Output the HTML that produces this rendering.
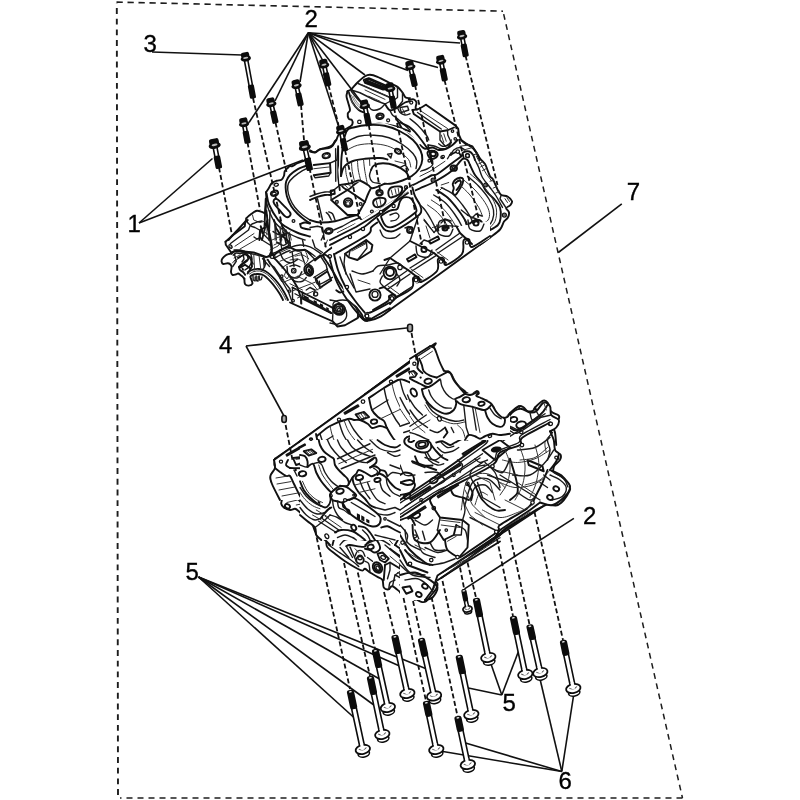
<!DOCTYPE html>
<html><head><meta charset="utf-8"><title>Crankcase</title>
<style>
html,body{margin:0;padding:0;background:#fff;}
body{width:800px;height:800px;overflow:hidden;}
svg{display:block;font-family:"Liberation Sans",sans-serif;filter:grayscale(1);}
.o{fill:#fff;stroke:#111;stroke-width:1.5;stroke-linejoin:round;stroke-linecap:round}
.k{fill:none;stroke:#111;stroke-width:1.9;vector-effect:non-scaling-stroke;stroke-linejoin:round;stroke-linecap:round}
.m{fill:none;stroke:#1a1a1a;stroke-width:1.4;vector-effect:non-scaling-stroke;stroke-linejoin:round;stroke-linecap:round}
.t{fill:none;stroke:#333;stroke-width:1.0;vector-effect:non-scaling-stroke;stroke-linejoin:round;stroke-linecap:round}
.g{fill:none;stroke:#666;stroke-width:0.8;vector-effect:non-scaling-stroke;stroke-linejoin:round;stroke-linecap:round}
.w{fill:#fff;stroke:#111;stroke-width:1.1;vector-effect:non-scaling-stroke}
.b{fill:#111;stroke:none}
.f{fill:#fff;stroke:none}
.h{fill:#fff;stroke:#111;stroke-width:1.25;vector-effect:non-scaling-stroke}
</style></head><body>
<svg width="800" height="800" viewBox="0 0 800 800">
<rect width="800" height="800" fill="#fff"/>
<path d="M116.5 2.1 L503 11.2" fill="none" stroke="#221c1c" stroke-width="1.6" stroke-dasharray="6.3 4.7"/>
<path d="M503 11.2 L682.5 798" fill="none" stroke="#221c1c" stroke-width="1.5" stroke-dasharray="5.8 4.6" stroke-dashoffset="-3"/>
<path d="M682.5 798 L120 798" fill="none" stroke="#221c1c" stroke-width="1.6" stroke-dasharray="6 5"/>
<path d="M118 795 L116.8 3" fill="none" stroke="#221c1c" stroke-width="1.9" stroke-dasharray="5.9 4.8"/>
<!-- l_A.svg -->
<g transform="translate(265,345) scale(0.12500)">
<path class="k" d="M240,800 L800,395"/>
<path class="k" d="M630,551 L735,488"/>
<path class="k" d="M633,556 L738,493"/>
<circle class="h" cx="588.0" cy="600.0" r="13.0"/>
<circle class="h" cx="370.0" cy="760.0" r="14.0"/>
<circle class="h" cx="785.0" cy="455.0" r="14.0"/>
<circle class="h" cx="305.0" cy="795.0" r="10.0"/>
<path class="k" d="M400.0,745.0 C421.7,727.5 486.7,665.8 530.0,640.0 C573.3,614.2 631.7,599.2 660.0,590.0 C688.3,580.8 688.3,583.3 700.0,585.0 C711.7,586.7 713.3,593.8 730.0,600.0 C746.7,606.2 788.3,618.3 800.0,622.0"/>
<path class="k" d="M415,720 L432,800"/>
<path class="m" d="M420,762 L560,682"/>
<path class="m" d="M440,800 L570,720"/>
<path class="m" d="M560.0,640.0 C563.3,653.3 571.7,693.3 580.0,720.0 C588.3,746.7 605.0,786.7 610.0,800.0"/>
<path class="m" d="M600.0,620.0 C605.0,635.0 620.0,680.0 630.0,710.0 C640.0,740.0 655.0,785.0 660.0,800.0"/>
<path class="m" d="M640.0,605.0 C646.7,620.8 666.7,667.5 680.0,700.0 C693.3,732.5 713.3,783.3 720.0,800.0"/>
<path class="m" d="M690.0,590.0 C698.3,608.3 726.7,665.0 740.0,700.0 C753.3,735.0 765.0,783.3 770.0,800.0"/>
<path class="t" d="M540,650 L560,740 L575,800"/>
<path class="k" d="M715.0,560.0 C719.2,565.0 730.8,583.0 740.0,590.0 C749.2,597.0 760.0,600.3 770.0,602.0 C780.0,603.7 795.0,600.3 800.0,600.0"/>
<path class="t" d="M750,545 L770,590"/>
<path class="t" d="M770,535 L790,585"/>
<path class="t" d="M790,530 L800,560"/>
</g>
<!-- l_B.svg -->
<g transform="translate(365,345) scale(0.12500)">
<path class="k" d="M0.0,395.0 C86.7,331.7 428.7,77.2 520.0,15.0 C611.3,-47.2 539.7,9.5 548.0,22.0 C556.3,34.5 561.3,67.0 570.0,90.0 C578.7,113.0 588.3,138.3 600.0,160.0 C611.7,181.7 633.3,210.0 640.0,220.0"/>
<path class="k" d="M0,395 L520,15"/>
<path class="k" d="M640.0,220.0 C644.2,218.3 656.7,208.0 665.0,210.0 C673.3,212.0 680.8,218.7 690.0,232.0 C699.2,245.3 708.3,272.0 720.0,290.0 C731.7,308.0 746.7,326.7 760.0,340.0 C773.3,353.3 793.3,365.0 800.0,370.0"/>
<path class="k" d="M440.0,110.0 C444.2,116.7 458.3,133.3 465.0,150.0 C471.7,166.7 464.2,192.5 480.0,210.0 C495.8,227.5 533.3,253.3 560.0,255.0 C586.7,256.7 626.7,225.8 640.0,220.0"/>
<path class="m" d="M430,100 L530,30"/>
<path class="m" d="M450,130 L480,110 L540,60"/>
<path class="k" d="M245,250 L350,186"/>
<path class="k" d="M248,256 L353,192"/>
<circle class="h" cx="210.0" cy="290.0" r="13.0"/>
<circle class="h" cx="398.0" cy="150.0" r="14.0"/>
<path class="k" d="M335,225 L375,205 L420,235 L385,260 Z"/>
<path class="t" d="M350,225 L395,250"/>
<path class="t" d="M360,215 L405,243"/>
<circle class="b" cx="445.0" cy="265.0" r="10.0"/>
<ellipse class="k" cx="505.0" cy="295.0" rx="30.0" ry="20.0" transform="rotate(-10.0 505.0 295.0)"/>
<path class="k" d="M20.0,410.0 C41.7,395.0 120.0,333.3 150.0,320.0 C180.0,306.7 175.0,339.2 200.0,330.0 C225.0,320.8 276.7,273.3 300.0,265.0 C323.3,256.7 320.0,274.2 340.0,280.0 C360.0,285.8 398.3,291.3 420.0,300.0 C441.7,308.7 455.0,327.0 470.0,332.0 C485.0,337.0 495.0,335.3 510.0,330.0 C525.0,324.7 538.3,318.3 560.0,300.0 C581.7,281.7 626.7,233.3 640.0,220.0"/>
<path class="k" d="M22.0,412.0 C26.7,426.7 37.0,474.5 50.0,500.0 C63.0,525.5 84.2,550.0 100.0,565.0 C115.8,580.0 134.2,577.5 145.0,590.0 C155.8,602.5 155.8,621.7 165.0,640.0 C174.2,658.3 184.2,680.0 200.0,700.0 C215.8,720.0 243.3,743.3 260.0,760.0 C276.7,776.7 293.3,793.3 300.0,800.0"/>
<path class="m" d="M150.0,320.0 C155.0,336.7 165.0,386.7 180.0,420.0 C195.0,453.3 215.0,490.0 240.0,520.0 C265.0,550.0 303.3,580.0 330.0,600.0 C356.7,620.0 388.3,633.3 400.0,640.0"/>
<path class="m" d="M200.0,330.0 C206.7,346.7 223.3,398.3 240.0,430.0 C256.7,461.7 276.7,493.3 300.0,520.0 C323.3,546.7 355.0,571.7 380.0,590.0 C405.0,608.3 438.3,623.3 450.0,630.0"/>
<path class="m" d="M250.0,300.0 C256.7,316.7 273.3,370.0 290.0,400.0 C306.7,430.0 326.7,455.0 350.0,480.0 C373.3,505.0 405.0,530.0 430.0,550.0 C455.0,570.0 488.3,591.7 500.0,600.0"/>
<path class="m" d="M300.0,268.0 C306.7,285.0 323.3,339.7 340.0,370.0 C356.7,400.3 376.7,425.0 400.0,450.0 C423.3,475.0 453.3,498.3 480.0,520.0 C506.7,541.7 540.0,563.3 560.0,580.0 C580.0,596.7 593.3,613.3 600.0,620.0"/>
<path class="t" d="M100.0,355.0 C105.0,370.8 115.8,418.3 130.0,450.0 C144.2,481.7 163.3,516.7 185.0,545.0 C206.7,573.3 235.8,599.2 260.0,620.0 C284.2,640.8 318.3,661.7 330.0,670.0"/>
<path class="t" d="M60.0,385.0 C65.0,399.2 76.7,440.8 90.0,470.0 C103.3,499.2 131.7,545.0 140.0,560.0"/>
<path class="m" d="M180,640 L480,560"/>
<path class="m" d="M200,700 L520,600"/>
<path class="t" d="M230,740 L540,640"/>
<path class="k" d="M455.0,345.0 C457.5,354.2 460.8,380.8 470.0,400.0 C479.2,419.2 493.3,443.3 510.0,460.0 C526.7,476.7 546.7,490.0 570.0,500.0 C593.3,510.0 626.7,519.2 650.0,520.0 C673.3,520.8 697.5,516.7 710.0,505.0 C722.5,493.3 716.7,464.2 725.0,450.0 C733.3,435.8 747.5,427.5 760.0,420.0 C772.5,412.5 793.3,407.5 800.0,405.0"/>
<path class="m" d="M510.0,330.0 C515.8,341.7 530.0,380.0 545.0,400.0 C560.0,420.0 577.5,436.7 600.0,450.0 C622.5,463.3 660.0,476.7 680.0,480.0 C700.0,483.3 713.3,471.7 720.0,470.0"/>
<path class="k" d="M560.0,255.0 C565.0,267.5 576.7,307.5 590.0,330.0 C603.3,352.5 621.7,375.0 640.0,390.0 C658.3,405.0 680.0,416.7 700.0,420.0 C720.0,423.3 750.0,411.7 760.0,410.0"/>
<path class="m" d="M470.0,420.0 C478.3,433.3 498.3,475.0 520.0,500.0 C541.7,525.0 570.0,551.7 600.0,570.0 C630.0,588.3 666.7,601.7 700.0,610.0 C733.3,618.3 783.3,618.3 800.0,620.0"/>
<path class="t" d="M480.0,470.0 C490.0,483.3 516.7,526.7 540.0,550.0 C563.3,573.3 590.0,593.3 620.0,610.0 C650.0,626.7 690.0,641.7 720.0,650.0 C750.0,658.3 786.7,658.3 800.0,660.0"/>
<ellipse class="k" cx="390.0" cy="385.0" rx="22.0" ry="34.0" transform="rotate(-30.0 390.0 385.0)"/>
<ellipse class="m" cx="598.0" cy="590.0" rx="14.0" ry="20.0" transform="rotate(-30.0 598.0 590.0)"/>
<ellipse class="k" cx="70.0" cy="610.0" rx="34.0" ry="24.0" transform="rotate(-15.0 70.0 610.0)"/>
<path class="k" d="M0.0,600.0 C6.7,595.0 23.3,575.0 40.0,570.0 C56.7,565.0 83.3,565.0 100.0,570.0 C116.7,575.0 130.0,588.3 140.0,600.0 C150.0,611.7 156.7,633.3 160.0,640.0"/>
<path class="m" d="M0.0,660.0 C6.7,665.0 23.3,686.7 40.0,690.0 C56.7,693.3 81.7,686.7 100.0,680.0 C118.3,673.3 141.7,655.0 150.0,650.0"/>
<path class="m" d="M0.0,540.0 L30.0,520.0"/>
<ellipse class="k" cx="350.0" cy="760.0" rx="34.0" ry="24.0" transform="rotate(-10.0 350.0 760.0)"/>
<path class="k" d="M290.0,770.0 C298.3,762.0 318.3,727.0 340.0,722.0 C361.7,717.0 398.3,730.3 420.0,740.0 C441.7,749.7 460.0,770.0 470.0,780.0 C480.0,790.0 478.3,796.7 480.0,800.0"/>
<path class="m" d="M420.0,740.0 C436.7,733.3 490.0,708.3 520.0,700.0 C550.0,691.7 586.7,691.7 600.0,690.0"/>
<path class="k" d="M600.0,800.0 C606.7,793.3 623.3,770.0 640.0,760.0 C656.7,750.0 680.0,741.7 700.0,740.0 C720.0,738.3 743.3,750.0 760.0,750.0 C776.7,750.0 793.3,741.7 800.0,740.0"/>
<path class="m" d="M640.0,700.0 C646.7,693.3 663.3,668.3 680.0,660.0 C696.7,651.7 720.0,646.7 740.0,650.0 C760.0,653.3 790.0,675.0 800.0,680.0"/>
<path class="t" d="M660,720 L720,700 L780,720"/>
<path class="t" d="M560,640 L620,700 L640,760"/>
</g>
<!-- l_C.svg -->
<g transform="translate(465,345) scale(0.12500)">
<path class="k" d="M0.0,375.0 C8.3,379.2 38.3,398.3 50.0,400.0 C61.7,401.7 62.5,389.7 70.0,385.0 C77.5,380.3 88.3,371.2 95.0,372.0 C101.7,372.8 112.5,383.7 110.0,390.0 C107.5,396.3 76.7,402.5 80.0,410.0 C83.3,417.5 111.7,428.3 130.0,435.0 C148.3,441.7 175.0,442.5 190.0,450.0 C205.0,457.5 210.0,465.0 220.0,480.0 C230.0,495.0 236.7,521.7 250.0,540.0 C263.3,558.3 286.7,583.3 300.0,590.0 C313.3,596.7 320.0,587.5 330.0,580.0 C340.0,572.5 343.3,560.0 360.0,545.0 C376.7,530.0 411.7,497.5 430.0,490.0 C448.3,482.5 458.3,493.3 470.0,500.0 C481.7,506.7 487.5,525.8 500.0,530.0 C512.5,534.2 535.0,530.0 545.0,525.0 C555.0,520.0 546.7,513.3 560.0,500.0 C573.3,486.7 608.3,451.7 625.0,445.0 C641.7,438.3 652.5,449.2 660.0,460.0 C667.5,470.8 663.3,496.7 670.0,510.0 C676.7,523.3 686.7,530.8 700.0,540.0 C713.3,549.2 742.5,555.0 750.0,565.0 C757.5,575.0 753.3,587.5 745.0,600.0 C736.7,612.5 704.2,623.3 700.0,640.0 C695.8,656.7 715.0,673.3 720.0,700.0 C725.0,726.7 728.3,783.3 730.0,800.0"/>
<ellipse class="k" cx="10.0" cy="440.0" rx="30.0" ry="20.0" transform="rotate(-10.0 10.0 440.0)"/>
<ellipse class="k" cx="130.0" cy="470.0" rx="25.0" ry="18.0" transform="rotate(-10.0 130.0 470.0)"/>
<ellipse class="k" cx="400.0" cy="600.0" rx="25.0" ry="18.0" transform="rotate(-10.0 400.0 600.0)"/>
<ellipse class="k" cx="460.0" cy="640.0" rx="35.0" ry="25.0" transform="rotate(-10.0 460.0 640.0)"/>
<circle class="h" cx="620.0" cy="495.0" r="12.0"/>
<circle class="h" cx="685.0" cy="630.0" r="14.0"/>
<circle class="b" cx="455.0" cy="690.0" r="10.0"/>
<circle class="h" cx="205.0" cy="735.0" r="12.0"/>
<circle class="b" cx="455.0" cy="745.0" r="9.0"/>
<path class="k" d="M190.0,450.0 C188.3,458.3 186.7,488.3 180.0,500.0 C173.3,511.7 151.7,508.3 150.0,520.0 C148.3,531.7 158.3,551.7 170.0,570.0 C181.7,588.3 200.0,616.7 220.0,630.0 C240.0,643.3 273.3,651.7 290.0,650.0 C306.7,648.3 316.7,630.0 320.0,620.0 C323.3,610.0 311.7,595.0 310.0,590.0"/>
<path class="m" d="M0,500 L60,490 L150,520"/>
<path class="m" d="M60,500 L100,720"/>
<path class="m" d="M80,492 L125,715"/>
<path class="k" d="M345.0,580.0 C345.0,566.7 367.5,561.7 380.0,560.0 C392.5,558.3 400.0,563.3 420.0,570.0 C440.0,576.7 483.3,588.3 500.0,600.0 C516.7,611.7 520.0,626.7 520.0,640.0 C520.0,653.3 513.3,670.0 500.0,680.0 C486.7,690.0 456.7,698.3 440.0,700.0 C423.3,701.7 410.0,700.0 400.0,690.0 C390.0,680.0 389.2,658.3 380.0,640.0 C370.8,621.7 345.0,593.3 345.0,580.0 Z"/>
<path class="k" d="M140.0,730.0 C158.3,725.0 218.3,700.0 250.0,700.0 C281.7,700.0 308.3,726.7 330.0,730.0 C351.7,733.3 365.0,728.3 380.0,720.0 C395.0,711.7 413.3,686.7 420.0,680.0"/>
<path class="k" d="M0.0,720.0 C10.0,723.3 40.0,740.0 60.0,740.0 C80.0,740.0 106.7,721.7 120.0,720.0 C133.3,718.3 136.7,728.3 140.0,730.0"/>
<path class="m" d="M0.0,770.0 C10.0,773.3 38.3,788.3 60.0,790.0 C81.7,791.7 118.3,781.7 130.0,780.0"/>
<path class="m" d="M430,490 L440,520 L480,545 L530,560 L560,500"/>
<path class="m" d="M470,500 L480,545"/>
<path class="k" d="M560,500 L580,540 L540,590 L500,600"/>
<path class="k" d="M640,540 L520,640"/>
<path class="m" d="M420,760 L650,600"/>
<path class="k" d="M440,800 L680,640"/>
<path class="m" d="M480,800 L700,660"/>
<path class="t" d="M560,720 L600,700"/>
<path class="t" d="M600,740 L660,700"/>
<path class="t" d="M620,760 L690,720"/>
<path class="t" d="M640,780 L700,745"/>
<path class="m" d="M700,640 L690,700 L700,800"/>
<path class="m" d="M520.0,800.0 C526.7,793.3 546.7,763.3 560.0,760.0 C573.3,756.7 593.3,776.7 600.0,780.0"/>
<circle class="h" cx="560.0" cy="770.0" r="14.0"/>
<path class="t" d="M150,760 L300,740 L400,770"/>
<path class="m" d="M160,800 L200,770 L300,760"/>
</g>
<!-- l_D.svg -->
<g transform="translate(265,445) scale(0.12500)">
<path class="k" d="M240,0 L80,110"/>
<path class="k" d="M80.0,110.0 C79.2,118.3 72.5,147.5 75.0,160.0 C77.5,172.5 97.5,175.0 95.0,185.0 C92.5,195.0 68.3,207.5 60.0,220.0 C51.7,232.5 45.8,246.7 45.0,260.0 C44.2,273.3 45.8,286.7 55.0,300.0 C64.2,313.3 89.2,326.7 100.0,340.0 C110.8,353.3 114.2,365.0 120.0,380.0 C125.8,395.0 133.3,415.0 135.0,430.0 C136.7,445.0 127.5,458.3 130.0,470.0 C132.5,481.7 138.3,491.7 150.0,500.0 C161.7,508.3 185.0,518.3 200.0,520.0 C215.0,521.7 228.3,508.3 240.0,510.0 C251.7,511.7 255.0,516.7 270.0,530.0 C285.0,543.3 311.7,571.7 330.0,590.0 C348.3,608.3 368.3,623.3 380.0,640.0 C391.7,656.7 390.0,675.0 400.0,690.0 C410.0,705.0 426.7,718.3 440.0,730.0 C453.3,741.7 466.7,748.3 480.0,760.0 C493.3,771.7 513.3,793.3 520.0,800.0"/>
<circle class="h" cx="133.0" cy="130.0" r="12.0"/>
<path class="k" d="M170,92 L260,32"/>
<path class="k" d="M174,98 L264,38"/>
<path class="k" d="M225,115 L290,95 L325,130 L260,160 Z"/>
<path class="m" d="M240,120 L290,108 L305,128"/>
<circle class="b" cx="235.0" cy="200.0" r="10.0"/>
<ellipse class="k" cx="300.0" cy="230.0" rx="28.0" ry="20.0" transform="rotate(-10.0 300.0 230.0)"/>
<ellipse class="k" cx="455.0" cy="115.0" rx="28.0" ry="20.0" transform="rotate(-10.0 455.0 115.0)"/>
<path class="k" d="M330,62 L410,40 L432,80 L360,102 Z"/>
<path class="t" d="M345,65 L375,95"/>
<path class="t" d="M365,58 L395,90"/>
<path class="t" d="M385,52 L415,84"/>
<path class="k" d="M190.0,290.0 C195.0,303.3 205.0,343.3 220.0,370.0 C235.0,396.7 256.7,426.7 280.0,450.0 C303.3,473.3 335.0,496.7 360.0,510.0 C385.0,523.3 408.3,530.0 430.0,530.0 C451.7,530.0 475.8,521.7 490.0,510.0 C504.2,498.3 510.8,478.3 515.0,460.0 C519.2,441.7 515.0,410.0 515.0,400.0"/>
<path class="k" d="M270.0,290.0 C275.0,296.7 286.7,311.7 300.0,330.0 C313.3,348.3 330.0,380.0 350.0,400.0 C370.0,420.0 400.0,438.3 420.0,450.0 C440.0,461.7 461.7,466.7 470.0,470.0"/>
<path class="m" d="M230.0,300.0 C235.0,311.7 245.0,346.7 260.0,370.0 C275.0,393.3 298.3,420.0 320.0,440.0 C341.7,460.0 368.3,480.0 390.0,490.0 C411.7,500.0 440.0,498.3 450.0,500.0"/>
<path class="t" d="M300.0,310.0 C306.7,321.7 323.3,360.0 340.0,380.0 C356.7,400.0 381.7,419.2 400.0,430.0 C418.3,440.8 441.7,442.5 450.0,445.0"/>
<path class="t" d="M310.0,300.0 C317.0,312.0 335.0,352.0 352.0,372.0 C369.0,392.0 394.0,409.5 412.0,420.0 C430.0,430.5 452.0,432.5 460.0,435.0"/>
<path class="k" d="M100.0,230.0 C106.7,231.7 126.7,233.3 140.0,240.0 C153.3,246.7 170.0,261.7 180.0,270.0 C190.0,278.3 196.7,286.7 200.0,290.0"/>
<path class="k" d="M95.0,185.0 C97.5,191.7 109.2,217.5 110.0,225.0 C110.8,232.5 101.7,229.2 100.0,230.0"/>
<path class="k" d="M350.0,160.0 C358.3,171.7 383.3,206.7 400.0,230.0 C416.7,253.3 431.7,275.0 450.0,300.0 C468.3,325.0 491.7,370.0 510.0,380.0 C528.3,390.0 545.0,366.7 560.0,360.0 C575.0,353.3 593.3,343.3 600.0,340.0"/>
<path class="k" d="M350.0,160.0 C355.0,158.3 355.0,160.0 380.0,150.0 C405.0,140.0 472.5,106.7 500.0,100.0 C527.5,93.3 533.3,98.3 545.0,110.0 C556.7,121.7 557.5,146.7 570.0,170.0 C582.5,193.3 605.0,231.7 620.0,250.0 C635.0,268.3 651.7,266.7 660.0,280.0 C668.3,293.3 668.3,321.7 670.0,330.0"/>
<path class="m" d="M390.0,170.0 C396.7,181.7 415.0,216.7 430.0,240.0 C445.0,263.3 465.0,290.0 480.0,310.0 C495.0,330.0 513.3,351.7 520.0,360.0"/>
<path class="k" d="M425,455 L445,470"/>
<ellipse class="b" cx="435.0" cy="462.0" rx="8.0" ry="14.0" transform="rotate(-50.0 435.0 462.0)"/>
<ellipse class="k" cx="605.0" cy="375.0" rx="30.0" ry="22.0" transform="rotate(-10.0 605.0 375.0)"/>
<ellipse class="k" cx="755.0" cy="265.0" rx="28.0" ry="20.0" transform="rotate(-10.0 755.0 265.0)"/>
<circle class="b" cx="640.0" cy="440.0" r="10.0"/>
<path class="k" d="M520.0,400.0 C526.7,393.3 546.7,370.0 560.0,360.0 C573.3,350.0 580.0,341.7 600.0,340.0 C620.0,338.3 660.0,340.0 680.0,350.0 C700.0,360.0 713.3,391.7 720.0,400.0"/>
<path class="k" d="M590.0,470.0 C595.0,475.0 601.7,485.0 620.0,500.0 C638.3,515.0 670.0,540.0 700.0,560.0 C730.0,580.0 783.3,610.0 800.0,620.0"/>
<path class="k" d="M600,460 L800,560"/>
<path class="k" d="M680,440 L800,490"/>
<path class="b" d="M740,560 L790,585 L790,610 L740,590 Z"/>
<path class="k" d="M515.0,460.0 C517.5,470.0 532.5,503.3 530.0,520.0 C527.5,536.7 510.0,550.8 500.0,560.0 C490.0,569.2 480.0,575.0 470.0,575.0 C460.0,575.0 445.0,562.5 440.0,560.0"/>
<path class="m" d="M560.0,480.0 C563.3,490.0 570.0,523.3 580.0,540.0 C590.0,556.7 603.3,570.0 620.0,580.0 C636.7,590.0 663.3,590.0 680.0,600.0 C696.7,610.0 713.3,633.3 720.0,640.0"/>
<path class="t" d="M120,310 L200,290"/>
<path class="t" d="M130,350 L210,330"/>
<path class="t" d="M140,390 L225,368"/>
<path class="t" d="M150,430 L240,405"/>
<path class="t" d="M175,460 L260,440"/>
<path class="t" d="M110,270 L170,255"/>
<path class="t" d="M250,480 L300,470"/>
<path class="t" d="M440,640 L560,600"/>
<path class="t" d="M450,670 L580,630"/>
<path class="t" d="M470,700 L600,660"/>
<path class="t" d="M500,730 L620,690"/>
<path class="t" d="M420,600 L520,570"/>
<path class="m" d="M540,560 L600,660 L640,700"/>
<path class="m" d="M600,560 L660,680"/>
<ellipse class="k" cx="180.0" cy="490.0" rx="22.0" ry="16.0" transform="rotate(30.0 180.0 490.0)"/>
<ellipse class="h" cx="405.0" cy="565.0" rx="20.0" ry="15.0" transform="rotate(30.0 405.0 565.0)"/>
<ellipse class="h" cx="500.0" cy="730.0" rx="25.0" ry="15.0" transform="rotate(30.0 500.0 730.0)"/>
<ellipse class="k" cx="715.0" cy="660.0" rx="20.0" ry="28.0" transform="rotate(-30.0 715.0 660.0)"/>
<path class="k" d="M540.0,800.0 C543.3,790.0 546.7,755.0 560.0,740.0 C573.3,725.0 596.7,716.7 620.0,710.0 C643.3,703.3 676.7,698.3 700.0,700.0 C723.3,701.7 743.3,720.0 760.0,720.0 C776.7,720.0 793.3,703.3 800.0,700.0"/>
<path class="m" d="M600.0,800.0 C606.7,793.3 620.0,768.3 640.0,760.0 C660.0,751.7 693.3,750.0 720.0,750.0 C746.7,750.0 786.7,758.3 800.0,760.0"/>
<path class="k" d="M440.0,0.0 C445.0,10.0 453.3,38.3 470.0,60.0 C486.7,81.7 515.0,108.3 540.0,130.0 C565.0,151.7 598.3,173.3 620.0,190.0 C641.7,206.7 661.7,223.3 670.0,230.0"/>
<path class="m" d="M500.0,0.0 C506.7,10.0 523.3,40.0 540.0,60.0 C556.7,80.0 576.7,101.7 600.0,120.0 C623.3,138.3 656.7,158.3 680.0,170.0 C703.3,181.7 730.0,186.7 740.0,190.0"/>
<path class="m" d="M560.0,0.0 C566.7,8.3 583.3,33.3 600.0,50.0 C616.7,66.7 636.7,85.0 660.0,100.0 C683.3,115.0 716.7,131.7 740.0,140.0 C763.3,148.3 790.0,148.3 800.0,150.0"/>
<path class="t" d="M600,100 L800,30"/>
<path class="t" d="M640,140 L800,80"/>
<path class="t" d="M700,180 L800,140"/>
<path class="k" d="M720.0,190.0 C723.3,193.3 733.3,208.3 740.0,210.0 C746.7,211.7 756.7,201.7 760.0,200.0"/>
<path class="m" d="M690.0,400.0 C698.3,403.3 721.7,420.0 740.0,420.0 C758.3,420.0 790.0,403.3 800.0,400.0"/>
</g>
<!-- l_E.svg -->
<g transform="translate(365,445) scale(0.12500)">
<path class="k" d="M130.0,600.0 C158.3,580.3 266.3,515.0 300.0,482.0 C333.7,449.0 298.7,435.3 332.0,402.0 C365.3,368.7 455.3,315.3 500.0,282.0 C544.7,248.7 550.0,237.3 600.0,202.0 C650.0,166.7 766.7,92.0 800.0,70.0"/>
<path class="k" d="M260.0,700.0 C300.0,670.3 430.0,571.7 500.0,522.0 C570.0,472.3 630.0,434.0 680.0,402.0 C730.0,370.0 780.0,342.0 800.0,330.0"/>
<path class="m" d="M280,592 L800,232"/>
<path class="m" d="M200,640 L340,540"/>
<ellipse class="k" cx="350.0" cy="405.0" rx="28.0" ry="18.0" transform="rotate(-15.0 350.0 405.0)"/>
<path class="k" d="M400,372 L480,320 L502,342 L422,396 Z"/>
<path class="m" d="M415,372 L478,334"/>
<ellipse class="k" cx="560.0" cy="290.0" rx="30.0" ry="20.0" transform="rotate(-15.0 560.0 290.0)"/>
<path class="k" d="M582,242 L742,132"/>
<path class="k" d="M586,248 L746,138"/>
<path class="k" d="M322,502 L402,452"/>
<path class="k" d="M326,508 L406,458"/>
<path class="k" d="M572,412 L682,352"/>
<path class="k" d="M576,418 L686,358"/>
<circle class="h" cx="450.0" cy="460.0" r="10.0"/>
<circle class="h" cx="640.0" cy="250.0" r="10.0"/>
<circle class="h" cx="160.0" cy="585.0" r="12.0"/>
<circle class="h" cx="560.0" cy="500.0" r="12.0"/>
<path class="t" d="M470,310 L520,340 L500,360"/>
<path class="t" d="M480,440 L520,420 L540,450"/>
<path class="k" d="M10.0,310.0 C30.0,308.3 100.0,298.3 130.0,300.0 C160.0,301.7 171.7,305.0 190.0,320.0 C208.3,335.0 224.2,370.8 240.0,390.0 C255.8,409.2 277.5,427.5 285.0,435.0"/>
<path class="k" d="M285.0,435.0 C282.5,440.8 283.3,451.7 270.0,470.0 C256.7,488.3 235.0,541.7 205.0,545.0 C175.0,548.3 124.2,507.5 90.0,490.0 C55.8,472.5 15.0,448.3 0.0,440.0"/>
<path class="m" d="M30,330 L80,500"/>
<path class="m" d="M190,320 L150,470"/>
<path class="m" d="M240,390 L200,540"/>
<path class="t" d="M60,310 L110,500"/>
<ellipse class="k" cx="100.0" cy="285.0" rx="25.0" ry="18.0" transform="rotate(-10.0 100.0 285.0)"/>
<path class="k" d="M0.0,200.0 C6.7,196.7 25.0,180.0 40.0,180.0 C55.0,180.0 73.3,193.3 90.0,200.0 C106.7,206.7 133.3,211.7 140.0,220.0 C146.7,228.3 138.3,243.3 130.0,250.0 C121.7,256.7 96.7,258.3 90.0,260.0"/>
<path class="k" d="M60.0,180.0 C66.7,175.0 96.7,163.3 100.0,150.0 C103.3,136.7 90.0,115.0 80.0,100.0 C70.0,85.0 53.3,68.3 40.0,60.0 C26.7,51.7 6.7,51.7 0.0,50.0"/>
<path class="m" d="M0.0,120.0 C6.7,121.7 30.0,120.0 40.0,130.0 C50.0,140.0 56.7,171.7 60.0,180.0"/>
<path class="k" d="M200.0,220.0 C210.0,216.7 240.0,196.7 260.0,200.0 C280.0,203.3 308.3,226.7 320.0,240.0 C331.7,253.3 338.3,270.0 330.0,280.0 C321.7,290.0 285.0,291.7 270.0,300.0 C255.0,308.3 241.3,321.3 240.0,330.0 C238.7,338.7 258.3,348.3 262.0,352.0"/>
<path class="m" d="M210.0,250.0 C218.3,248.3 245.0,236.7 260.0,240.0 C275.0,243.3 293.3,265.0 300.0,270.0"/>
<path class="m" d="M150.0,190.0 L200.0,220.0"/>
<path class="k" d="M160.0,0.0 C166.7,6.7 181.7,30.0 200.0,40.0 C218.3,50.0 253.3,61.7 270.0,60.0 C286.7,58.3 296.7,40.0 300.0,30.0 C303.3,20.0 291.7,5.0 290.0,0.0"/>
<path class="k" d="M460.0,60.0 C463.3,70.0 466.7,103.3 480.0,120.0 C493.3,136.7 520.0,155.0 540.0,160.0 C560.0,165.0 590.0,151.7 600.0,150.0"/>
<path class="m" d="M420.0,0.0 C423.3,11.7 431.7,48.3 440.0,70.0 C448.3,91.7 456.7,111.7 470.0,130.0 C483.3,148.3 511.7,171.7 520.0,180.0"/>
<path class="m" d="M500.0,0.0 C503.3,10.0 510.0,41.7 520.0,60.0 C530.0,78.3 543.3,100.0 560.0,110.0 C576.7,120.0 610.0,118.3 620.0,120.0"/>
<path class="k" d="M380,130 L520,180"/>
<path class="m" d="M375,140 L440,175"/>
<path class="k" d="M400.0,230.0 C403.3,225.0 408.3,206.7 420.0,200.0 C431.7,193.3 456.7,188.3 470.0,190.0 C483.3,191.7 495.0,206.7 500.0,210.0"/>
<path class="m" d="M380.0,260.0 L400.0,230.0"/>
<path class="k" d="M600.0,150.0 C610.0,143.3 640.0,125.0 660.0,110.0 C680.0,95.0 703.3,78.3 720.0,60.0 C736.7,41.7 753.3,10.0 760.0,0.0"/>
<path class="m" d="M640.0,60.0 C650.0,56.7 683.3,50.0 700.0,40.0 C716.7,30.0 733.3,6.7 740.0,0.0"/>
<path class="k" d="M700.0,230.0 C706.7,235.0 736.7,248.3 740.0,260.0 C743.3,271.7 716.7,288.3 720.0,300.0 C723.3,311.7 746.7,330.0 760.0,330.0 C773.3,330.0 793.3,305.0 800.0,300.0"/>
<path class="m" d="M690.0,270.0 C693.3,276.7 700.0,296.7 710.0,310.0 C720.0,323.3 735.0,345.0 750.0,350.0 C765.0,355.0 791.7,341.7 800.0,340.0"/>
<path class="k" d="M700.0,400.0 C703.3,406.7 710.0,431.7 720.0,440.0 C730.0,448.3 746.7,453.3 760.0,450.0 C773.3,446.7 793.3,425.0 800.0,420.0"/>
<path class="m" d="M740.0,380.0 C746.7,381.7 770.0,391.7 780.0,390.0 C790.0,388.3 796.7,373.3 800.0,370.0"/>
<path class="k" d="M500.0,522.0 C510.0,528.3 536.7,557.0 560.0,560.0 C583.3,563.0 600.0,530.0 640.0,540.0 C680.0,550.0 773.3,606.7 800.0,620.0"/>
<path class="k" d="M580,520 L800,600"/>
<path class="m" d="M600,480 L800,560"/>
<path class="k" d="M520.0,620.0 C511.7,630.0 485.0,666.7 470.0,680.0 C455.0,693.3 436.7,696.7 430.0,700.0"/>
<path class="k" d="M700.0,680.0 C706.7,686.7 723.3,716.7 740.0,720.0 C756.7,723.3 790.0,703.3 800.0,700.0"/>
<path class="m" d="M560.0,600.0 C570.0,606.7 596.7,626.7 620.0,640.0 C643.3,653.3 686.7,673.3 700.0,680.0"/>
<path class="m" d="M480.0,560.0 C476.7,570.0 470.0,603.3 460.0,620.0 C450.0,636.7 426.7,653.3 420.0,660.0"/>
<path class="m" d="M620,580 L800,660"/>
<path class="t" d="M560,660 L700,740"/>
<path class="t" d="M520,700 L640,780"/>
<path class="k" d="M640.0,800.0 C643.3,790.0 646.7,751.7 660.0,740.0 C673.3,728.3 700.0,726.7 720.0,730.0 C740.0,733.3 766.7,748.3 780.0,760.0 C793.3,771.7 796.7,793.3 800.0,800.0"/>
<path class="k" d="M540.0,800.0 C536.7,790.0 530.0,753.3 520.0,740.0 C510.0,726.7 493.3,720.0 480.0,720.0 C466.7,720.0 448.3,726.7 440.0,740.0 C431.7,753.3 431.7,790.0 430.0,800.0"/>
<path class="k" d="M0.0,560.0 C10.0,566.7 38.3,593.3 60.0,600.0 C81.7,606.7 118.3,600.0 130.0,600.0"/>
<path class="b" d="M0,620 L40,640 L30,600 Z"/>
<path class="k" d="M130.0,600.0 C128.3,610.0 118.3,643.3 120.0,660.0 C121.7,676.7 116.7,693.3 140.0,700.0 C163.3,706.7 240.0,700.0 260.0,700.0"/>
<path class="k" d="M0.0,760.0 C16.7,753.3 76.7,730.0 100.0,720.0 C123.3,710.0 133.3,703.3 140.0,700.0"/>
<path class="k" d="M240.0,800.0 C255.0,775.0 306.7,676.7 330.0,650.0 C353.3,623.3 365.0,638.3 380.0,640.0 C395.0,641.7 416.7,650.0 420.0,660.0 C423.3,670.0 411.7,676.7 400.0,700.0 C388.3,723.3 358.3,783.3 350.0,800.0"/>
<path class="m" d="M280.0,800.0 C290.0,783.3 323.3,718.3 340.0,700.0 C356.7,681.7 373.3,691.7 380.0,690.0"/>
<path class="m" d="M0.0,680.0 C10.0,681.7 41.7,693.3 60.0,690.0 C78.3,686.7 101.7,665.0 110.0,660.0"/>
<path class="m" d="M0.0,800.0 C10.0,795.0 38.3,776.7 60.0,770.0 C81.7,763.3 106.7,755.0 130.0,760.0 C153.3,765.0 188.3,793.3 200.0,800.0"/>
<path class="t" d="M160,720 L220,790"/>
<circle class="h" cx="290.0" cy="690.0" r="12.0"/>
<circle class="h" cx="660.0" cy="680.0" r="12.0"/>
</g>
<!-- l_F.svg -->
<g transform="translate(465,445) scale(0.13750)">
<path class="k" d="M640.0,0.0 C643.3,8.3 650.8,38.3 660.0,50.0 C669.2,61.7 690.0,60.0 695.0,70.0 C700.0,80.0 697.5,96.7 690.0,110.0 C682.5,123.3 658.3,136.7 650.0,150.0 C641.7,163.3 641.7,183.3 640.0,190.0"/>
<path class="k" d="M640.0,190.0 C650.0,195.0 681.7,205.0 700.0,220.0 C718.3,235.0 739.2,263.3 750.0,280.0 C760.8,296.7 766.7,305.0 765.0,320.0 C763.3,335.0 750.8,353.3 740.0,370.0 C729.2,386.7 713.3,408.3 700.0,420.0 C686.7,431.7 676.7,438.3 660.0,440.0 C643.3,441.7 610.0,431.7 600.0,430.0"/>
<path class="k" d="M600,430 L520,470 L440,520 L300,600 L250,660 L200,650 L120,700 L0,780"/>
<path class="k" d="M510,482 L270,626 L240,666 L0,800"/>
<path class="k" d="M600.0,250.0 C608.3,251.7 630.0,248.3 650.0,260.0 C670.0,271.7 711.7,300.0 720.0,320.0 C728.3,340.0 711.7,363.3 700.0,380.0 C688.3,396.7 658.3,413.3 650.0,420.0"/>
<path class="m" d="M620.0,200.0 C633.3,206.7 678.3,223.3 700.0,240.0 C721.7,256.7 741.7,290.0 750.0,300.0"/>
<path class="m" d="M610.0,225.0 C623.3,231.2 669.2,246.2 690.0,262.0 C710.8,277.8 731.3,298.7 735.0,320.0 C738.7,341.3 715.8,378.3 712.0,390.0"/>
<ellipse class="k" cx="665.0" cy="320.0" rx="20.0" ry="15.0" transform="rotate(30.0 665.0 320.0)"/>
<ellipse class="k" cx="630.0" cy="385.0" rx="20.0" ry="15.0" transform="rotate(30.0 630.0 385.0)"/>
<path class="k" d="M640.0,190.0 C633.3,196.7 613.3,218.3 600.0,230.0 C586.7,241.7 571.7,245.0 560.0,260.0 C548.3,275.0 538.3,300.0 530.0,320.0 C521.7,340.0 515.8,363.3 510.0,380.0 C504.2,396.7 501.7,408.3 495.0,420.0 C488.3,431.7 485.8,438.3 470.0,450.0 C454.2,461.7 428.3,471.7 400.0,490.0 C371.7,508.3 323.3,541.7 300.0,560.0 C276.7,578.3 270.8,588.3 260.0,600.0 C249.2,611.7 245.0,621.7 235.0,630.0 C225.0,638.3 205.8,646.7 200.0,650.0"/>
<circle class="h" cx="495.0" cy="415.0" r="12.0"/>
<circle class="h" cx="235.0" cy="630.0" r="12.0"/>
<circle class="h" cx="670.0" cy="95.0" r="12.0"/>
<path class="m" d="M640.0,0.0 C636.7,10.0 620.0,43.3 620.0,60.0 C620.0,76.7 636.7,93.3 640.0,100.0"/>
<ellipse class="b" cx="230.0" cy="35.0" rx="40.0" ry="25.0" transform="rotate(-25.0 230.0 35.0)"/>
<path class="k" d="M0,130 L130,60 L300,-20"/>
<path class="k" d="M20,250 L190,160 L210,130 L400,20"/>
<path class="k" d="M0,262 L60,250"/>
<path class="m" d="M0,180 L150,100 L330,0"/>
<circle class="h" cx="200.0" cy="155.0" r="14.0"/>
<circle class="h" cx="30.0" cy="95.0" r="10.0"/>
<circle class="h" cx="415.0" cy="10.0" r="12.0"/>
<path class="k" d="M80,70 L120,50 L200,90 L180,120 L100,110 Z"/>
<path class="m" d="M130,20 L300,60 L340,30"/>
<path class="m" d="M340.0,60.0 C350.0,66.7 376.7,91.7 400.0,100.0 C423.3,108.3 453.3,116.7 480.0,110.0 C506.7,103.3 540.0,78.3 560.0,60.0 C580.0,41.7 593.3,10.0 600.0,0.0"/>
<path class="m" d="M320.0,120.0 C333.3,130.0 370.0,166.7 400.0,180.0 C430.0,193.3 466.7,205.0 500.0,200.0 C533.3,195.0 576.7,166.7 600.0,150.0 C623.3,133.3 633.3,108.3 640.0,100.0"/>
<path class="t" d="M360.0,30.0 C370.0,35.0 396.7,55.0 420.0,60.0 C443.3,65.0 480.0,66.7 500.0,60.0 C520.0,53.3 533.3,26.7 540.0,20.0"/>
<path class="t" d="M300.0,180.0 C313.3,190.0 350.0,226.7 380.0,240.0 C410.0,253.3 450.0,260.0 480.0,260.0 C510.0,260.0 546.7,243.3 560.0,240.0"/>
<path class="k" d="M450,120 L590,170 L580,200 L440,150 Z"/>
<path class="m" d="M250,130 L330,200 L380,310 L420,330 L380,370 L300,420"/>
<path class="m" d="M330,200 L520,280"/>
<path class="m" d="M380,310 L500,340"/>
<path class="t" d="M350,250 L520,310"/>
<path class="t" d="M300,150 L280,250 L330,330"/>
<path class="m" d="M420,330 L470,400"/>
<path class="t" d="M400,380 L440,450"/>
<path class="t" d="M330,400 L420,470"/>
<path class="k" d="M100.0,250.0 C116.7,258.3 173.3,280.0 200.0,300.0 C226.7,320.0 245.0,350.0 260.0,370.0 C275.0,390.0 283.3,408.3 290.0,420.0 C296.7,431.7 298.3,436.7 300.0,440.0"/>
<circle class="m" cx="300.0" cy="440.0" r="10.0"/>
<path class="m" d="M0.0,330.0 C10.0,323.3 41.7,293.3 60.0,290.0 C78.3,286.7 100.0,300.0 110.0,310.0 C120.0,320.0 118.3,343.3 120.0,350.0"/>
<path class="m" d="M0.0,380.0 C13.3,373.3 55.0,341.7 80.0,340.0 C105.0,338.3 133.3,356.7 150.0,370.0 C166.7,383.3 175.0,411.7 180.0,420.0"/>
<path class="m" d="M0.0,430.0 C16.7,425.0 66.7,398.3 100.0,400.0 C133.3,401.7 183.3,433.3 200.0,440.0"/>
<path class="t" d="M0.0,480.0 C16.7,475.0 68.3,450.0 100.0,450.0 C131.7,450.0 175.0,475.0 190.0,480.0"/>
<path class="t" d="M30.0,300.0 C33.3,316.7 48.3,363.3 50.0,400.0 C51.7,436.7 41.7,500.0 40.0,520.0"/>
<path class="t" d="M80.0,300.0 C85.0,316.7 106.7,363.3 110.0,400.0 C113.3,436.7 101.7,500.0 100.0,520.0"/>
<path class="m" d="M210,400 L50,560"/>
<path class="m" d="M180,420 L60,600"/>
<path class="t" d="M150,380 L20,520"/>
<path class="k" d="M0.0,540.0 C5.0,546.7 23.3,563.3 30.0,580.0 C36.7,596.7 41.7,620.0 40.0,640.0 C38.3,660.0 23.3,690.0 20.0,700.0"/>
<path class="m" d="M60,640 L440,440"/>
<path class="m" d="M100,660 L300,560"/>
<path class="t" d="M120,620 L240,560"/>
<path class="t" d="M330,520 L470,440"/>
<path class="m" d="M540,300 L560,380 L540,420"/>
<path class="t" d="M560,280 L600,300 L590,330"/>
</g>
<!-- l_G.svg -->
<g transform="translate(315,520) scale(0.12500)">
<path class="k" d="M90.0,180.0 C91.7,186.7 88.3,205.0 100.0,220.0 C111.7,235.0 136.7,251.7 160.0,270.0 C183.3,288.3 210.0,310.0 240.0,330.0 C270.0,350.0 316.7,377.5 340.0,390.0 C363.3,402.5 370.0,405.0 380.0,405.0 C390.0,405.0 390.0,387.5 400.0,390.0 C410.0,392.5 423.3,409.2 440.0,420.0 C456.7,430.8 483.3,445.0 500.0,455.0 C516.7,465.0 531.7,465.8 540.0,480.0 C548.3,494.2 541.7,527.5 550.0,540.0 C558.3,552.5 578.3,556.7 590.0,555.0 C601.7,553.3 601.7,524.2 620.0,530.0 C638.3,535.8 676.7,576.7 700.0,590.0 C723.3,603.3 743.3,601.7 760.0,610.0 C776.7,618.3 793.3,635.0 800.0,640.0"/>
<path class="m" d="M110.0,200.0 C121.7,208.3 148.3,228.3 180.0,250.0 C211.7,271.7 271.7,309.7 300.0,330.0 C328.3,350.3 341.7,365.0 350.0,372.0"/>
<path class="k" d="M250.0,210.0 C255.0,208.3 256.7,199.2 280.0,200.0 C303.3,200.8 366.7,218.0 390.0,215.0 C413.3,212.0 406.7,192.5 420.0,182.0 C433.3,171.5 456.7,154.0 470.0,152.0 C483.3,150.0 491.7,157.0 500.0,170.0 C508.3,183.0 523.3,215.0 520.0,230.0 C516.7,245.0 493.3,258.3 480.0,260.0 C466.7,261.7 453.3,245.0 440.0,240.0 C426.7,235.0 406.7,231.7 400.0,230.0"/>
<ellipse class="k" cx="445.0" cy="215.0" rx="25.0" ry="18.0" transform="rotate(-10.0 445.0 215.0)"/>
<path class="k" d="M500,270 L540,260 L590,310 L560,340 L520,320 Z"/>
<ellipse class="h" cx="545.0" cy="300.0" rx="20.0" ry="14.0" transform="rotate(30.0 545.0 300.0)"/>
<ellipse class="k" cx="500.0" cy="380.0" rx="35.0" ry="45.0" transform="rotate(-30.0 500.0 380.0)"/>
<ellipse class="k" cx="500.0" cy="382.0" rx="22.0" ry="30.0" transform="rotate(-30.0 500.0 382.0)"/>
<ellipse class="m" cx="502.0" cy="385.0" rx="12.0" ry="18.0" transform="rotate(-30.0 502.0 385.0)"/>
<circle class="k" cx="360.0" cy="320.0" r="30.0"/>
<circle class="m" cx="360.0" cy="300.0" r="18.0"/>
<path class="m" d="M320.0,290.0 C323.3,283.3 330.0,256.7 340.0,250.0 C350.0,243.3 370.0,243.3 380.0,250.0 C390.0,256.7 396.7,283.3 400.0,290.0"/>
<path class="m" d="M250,210 L300,300"/>
<path class="m" d="M280,215 L330,330"/>
<path class="m" d="M200,220 L270,300"/>
<path class="t" d="M320,230 L350,260"/>
<path class="m" d="M400.0,330.0 C405.0,333.3 423.3,335.0 430.0,350.0 C436.7,365.0 438.3,408.3 440.0,420.0"/>
<path class="m" d="M420.0,300.0 L460.0,330.0"/>
<path class="k" d="M560,360 L600,340 L700,400 L800,440"/>
<path class="k" d="M560,360 L550,480"/>
<path class="m" d="M600,340 L600,400 L580,470"/>
<path class="m" d="M620,530 L640,440 L700,400"/>
<path class="b" d="M715,465 L745,480 L745,505 L715,490 Z"/>
<path class="m" d="M640,440 L760,500 L800,510"/>
<path class="m" d="M590.0,555.0 C591.7,545.8 591.7,512.5 600.0,500.0 C608.3,487.5 633.3,483.3 640.0,480.0"/>
<path class="t" d="M660,420 L780,480"/>
<path class="t" d="M680,520 L760,560"/>
<path class="k" d="M600.0,230.0 C606.7,235.0 623.3,248.3 640.0,260.0 C656.7,271.7 680.0,288.3 700.0,300.0 C720.0,311.7 743.3,323.3 760.0,330.0 C776.7,336.7 793.3,338.3 800.0,340.0"/>
<path class="m" d="M560.0,200.0 C570.0,208.3 600.0,233.3 620.0,250.0 C640.0,266.7 670.0,291.7 680.0,300.0"/>
<path class="k" d="M640.0,200.0 C650.0,206.7 680.0,230.0 700.0,240.0 C720.0,250.0 743.3,258.3 760.0,260.0 C776.7,261.7 793.3,251.7 800.0,250.0"/>
<path class="t" d="M600,290 L660,340 L720,380"/>
<circle class="h" cx="760.0" cy="370.0" r="12.0"/>
</g>
<!-- l_H.svg -->
<g transform="translate(400,530) scale(0.12500)">
<path class="k" d="M0.0,290.0 C10.0,293.3 35.0,303.3 60.0,310.0 C85.0,316.7 126.7,323.3 150.0,330.0 C173.3,336.7 180.0,339.2 200.0,350.0 C220.0,360.8 253.3,381.7 270.0,395.0 C286.7,408.3 296.7,417.5 300.0,430.0 C303.3,442.5 298.3,455.0 290.0,470.0 C281.7,485.0 263.3,503.3 250.0,520.0 C236.7,536.7 223.3,560.8 210.0,570.0 C196.7,579.2 188.3,580.0 170.0,575.0 C151.7,570.0 128.3,552.5 100.0,540.0 C71.7,527.5 16.7,506.7 0.0,500.0"/>
<path class="m" d="M160.0,340.0 C173.3,347.5 221.7,370.8 240.0,385.0 C258.3,399.2 270.0,405.8 270.0,425.0 C270.0,444.2 251.7,479.2 240.0,500.0 C228.3,520.8 206.7,541.7 200.0,550.0"/>
<path class="t" d="M175.0,335.0 C188.3,343.3 236.7,369.5 255.0,385.0 C273.3,400.5 283.3,412.2 285.0,428.0 C286.7,443.8 268.3,471.3 265.0,480.0"/>
<ellipse class="k" cx="200.0" cy="445.0" rx="25.0" ry="18.0" transform="rotate(30.0 200.0 445.0)"/>
<ellipse class="k" cx="160.0" cy="520.0" rx="25.0" ry="18.0" transform="rotate(30.0 160.0 520.0)"/>
<path class="k" d="M20,380 L80,370 L110,400 L70,430 L30,420 Z"/>
<circle class="b" cx="52.0" cy="402.0" r="10.0"/>
<path class="m" d="M0.0,440.0 C6.7,445.0 23.3,460.0 40.0,470.0 C56.7,480.0 90.0,495.0 100.0,500.0"/>
<path class="t" d="M0,340 L60,350 L130,380"/>
<path class="k" d="M180.0,300.0 C193.3,298.3 235.0,298.0 260.0,290.0 C285.0,282.0 303.3,260.3 330.0,252.0 C356.7,243.7 391.7,250.0 420.0,240.0 C448.3,230.0 436.7,227.0 500.0,192.0 C563.3,157.0 750.0,57.0 800.0,30.0"/>
<path class="k" d="M300,402 L520,262 L800,92"/>
<path class="m" d="M270,382 L500,232 L800,62"/>
<path class="m" d="M290,330 L500,212"/>
<path class="t" d="M320,350 L520,240"/>
<circle class="h" cx="260.0" cy="240.0" r="12.0"/>
<circle class="h" cx="460.0" cy="225.0" r="14.0"/>
<circle class="h" cx="75.0" cy="290.0" r="12.0"/>
<circle class="h" cx="770.0" cy="25.0" r="14.0"/>
<path class="k" d="M0.0,280.0 C13.3,285.0 53.3,306.7 80.0,310.0 C106.7,313.3 140.0,308.0 160.0,300.0 C180.0,292.0 185.0,276.7 200.0,262.0 C215.0,247.3 233.3,222.3 250.0,212.0 C266.7,201.7 283.3,200.3 300.0,200.0 C316.7,199.7 333.3,204.7 350.0,210.0 C366.7,215.3 381.7,225.3 400.0,232.0 C418.3,238.7 443.3,255.3 460.0,250.0 C476.7,244.7 493.3,208.3 500.0,200.0"/>
<path class="k" d="M40.0,120.0 C38.3,126.7 26.7,146.7 30.0,160.0 C33.3,173.3 48.3,185.0 60.0,200.0 C71.7,215.0 96.7,235.0 100.0,250.0 C103.3,265.0 83.3,283.3 80.0,290.0"/>
<path class="k" d="M130.0,130.0 C141.7,133.3 171.7,148.3 200.0,150.0 C228.3,151.7 278.3,145.0 300.0,140.0 C321.7,135.0 325.0,123.3 330.0,120.0"/>
<path class="k" d="M330.0,120.0 C341.7,128.3 376.7,166.7 400.0,170.0 C423.3,173.3 453.3,148.3 470.0,140.0 C486.7,131.7 495.0,123.3 500.0,120.0"/>
<path class="t" d="M60,130 L200,190"/>
<path class="t" d="M80,170 L240,210"/>
<path class="t" d="M120,230 L180,220"/>
<path class="t" d="M340,160 L420,210"/>
<path class="m" d="M150,150 L180,250"/>
<path class="m" d="M560,120 L520,190"/>
<path class="m" d="M600,120 L800,0"/>
</g>
<!-- l_P.svg -->
<g transform="translate(260,340) scale(0.20000)">
<path class="f" d="M70,600 L800,75 L800,800 L100,800 L60,720 L50,680 L75,640 Z"/>
<path class="k" d="M70,600 L800,75"/>
<path class="k" d="M70.0,600.0 C70.8,606.7 78.0,626.7 75.0,640.0 C72.0,653.3 54.5,666.7 52.0,680.0 C49.5,693.3 52.0,700.0 60.0,720.0 C68.0,740.0 93.3,786.7 100.0,800.0"/>
<path class="k" d="M132,574 L224,521"/>
<path class="k" d="M135,579 L227,526"/>
<path class="k" d="M422,364 L490,326"/>
<path class="k" d="M425,369 L493,331"/>
<path class="k" d="M682,179 L745,141"/>
<path class="k" d="M685,184 L748,146"/>
<circle class="h" cx="105.0" cy="608.0" r="8.0"/>
<circle class="h" cx="255.0" cy="497.0" r="8.0"/>
<circle class="h" cx="395.0" cy="398.0" r="8.0"/>
<circle class="h" cx="515.0" cy="308.0" r="9.0"/>
<circle class="h" cx="655.0" cy="208.0" r="8.0"/>
<circle class="h" cx="775.0" cy="118.0" r="9.0"/>
<path class="k" d="M222,555 L255,545 L275,570 L240,585 Z"/>
<path class="t" d="M232,555 L250,580"/>
<path class="t" d="M243,551 L262,576"/>
<path class="k" d="M478,372 L520,360 L545,385 L500,400 Z"/>
<path class="t" d="M490,370 L510,396"/>
<path class="t" d="M502,366 L522,392"/>
<path class="t" d="M514,363 L534,388"/>
<path class="k" d="M745,160 L790,148 L800,170 L760,185 Z"/>
<path class="t" d="M760,158 L772,180"/>
<path class="k" d="M165,590 L210,585 L225,610 L180,625 Z"/>
<path class="m" d="M180,595 L212,592 L218,606"/>
<circle class="b" cx="178.0" cy="650.0" r="6.0"/>
<ellipse class="k" cx="210.0" cy="668.0" rx="16.0" ry="11.0" transform="rotate(-10.0 210.0 668.0)"/>
<ellipse class="k" cx="312.0" cy="600.0" rx="16.0" ry="11.0" transform="rotate(-10.0 312.0 600.0)"/>
<ellipse class="k" cx="570.0" cy="408.0" rx="16.0" ry="11.0" transform="rotate(-10.0 570.0 408.0)"/>
<ellipse class="k" cx="495.0" cy="690.0" rx="16.0" ry="11.0" transform="rotate(-10.0 495.0 690.0)"/>
<ellipse class="k" cx="762.0" cy="498.0" rx="16.0" ry="11.0" transform="rotate(-10.0 762.0 498.0)"/>
<ellipse class="k" cx="775.0" cy="265.0" rx="13.0" ry="20.0" transform="rotate(-30.0 775.0 265.0)"/>
<ellipse class="k" cx="402.0" cy="748.0" rx="16.0" ry="11.0" transform="rotate(-10.0 402.0 748.0)"/>
<ellipse class="k" cx="745.0" cy="782.0" rx="16.0" ry="11.0" transform="rotate(-10.0 745.0 782.0)"/>
<path class="k" d="M150.0,640.0 C165.0,640.0 221.3,642.5 240.0,640.0 C258.7,637.5 255.3,623.3 262.0,625.0 C268.7,626.7 273.7,637.5 280.0,650.0 C286.3,662.5 291.7,681.7 300.0,700.0 C308.3,718.3 320.0,743.3 330.0,760.0 C340.0,776.7 355.0,793.3 360.0,800.0"/>
<path class="k" d="M75.0,640.0 C79.2,643.3 90.8,653.3 100.0,660.0 C109.2,666.7 121.7,676.7 130.0,680.0 C138.3,683.3 143.3,673.3 150.0,680.0 C156.7,686.7 161.7,703.3 170.0,720.0 C178.3,736.7 192.5,766.7 200.0,780.0 C207.5,793.3 212.5,796.7 215.0,800.0"/>
<path class="k" d="M240.0,640.0 C257.5,630.8 324.2,590.0 345.0,585.0 C365.8,580.0 361.7,605.8 365.0,610.0"/>
<path class="k" d="M150.0,640.0 C146.7,637.5 131.7,631.7 130.0,625.0 C128.3,618.3 138.3,604.2 140.0,600.0"/>
<path class="k" d="M280.0,470.0 C281.7,476.7 283.3,495.0 290.0,510.0 C296.7,525.0 308.3,544.2 320.0,560.0 C331.7,575.8 348.3,588.3 360.0,605.0 C371.7,621.7 376.7,644.2 390.0,660.0 C403.3,675.8 426.7,695.0 440.0,700.0 C453.3,705.0 461.7,696.7 470.0,690.0 C478.3,683.3 486.7,665.0 490.0,660.0"/>
<path class="k" d="M285.0,480.0 C295.8,471.7 324.2,444.2 350.0,430.0 C375.8,415.8 420.0,400.0 440.0,395.0 C460.0,390.0 460.0,399.2 470.0,400.0 C480.0,400.8 488.3,396.7 500.0,400.0 C511.7,403.3 530.0,413.3 540.0,420.0 C550.0,426.7 550.0,438.3 560.0,440.0 C570.0,441.7 587.5,430.0 600.0,430.0 C612.5,430.0 629.2,438.3 635.0,440.0"/>
<path class="t" d="M350.0,430.0 C353.3,441.7 358.3,475.0 370.0,500.0 C381.7,525.0 401.7,556.7 420.0,580.0 C438.3,603.3 470.0,630.0 480.0,640.0"/>
<path class="m" d="M395.0,410.0 C399.2,421.7 407.5,456.7 420.0,480.0 C432.5,503.3 451.7,528.3 470.0,550.0 C488.3,571.7 515.0,595.0 530.0,610.0 C545.0,625.0 555.0,635.0 560.0,640.0"/>
<path class="t" d="M420.0,400.0 C424.2,410.0 431.7,438.3 445.0,460.0 C458.3,481.7 480.8,508.3 500.0,530.0 C519.2,551.7 550.0,580.0 560.0,590.0"/>
<path class="m" d="M440.0,395.0 C445.0,404.2 456.7,430.8 470.0,450.0 C483.3,469.2 502.5,491.7 520.0,510.0 C537.5,528.3 565.0,545.0 575.0,560.0 C585.0,575.0 579.2,593.3 580.0,600.0"/>
<path class="m" d="M300,520 L365,480"/>
<path class="t" d="M420,580 L560,500"/>
<path class="m" d="M380,680 L575,600"/>
<path class="k" d="M560.0,590.0 C563.3,591.7 577.5,591.7 580.0,600.0 C582.5,608.3 581.7,626.7 575.0,640.0 C568.3,653.3 552.5,671.7 540.0,680.0 C527.5,688.3 506.7,688.3 500.0,690.0"/>
<path class="m" d="M300.0,470.0 L310.0,500.0"/>
<path class="k" d="M545.0,290.0 C547.5,300.0 552.5,334.2 560.0,350.0 C567.5,365.8 580.0,375.8 590.0,385.0 C600.0,394.2 612.5,395.8 620.0,405.0 C627.5,414.2 627.5,425.8 635.0,440.0 C642.5,454.2 654.2,475.0 665.0,490.0 C675.8,505.0 691.7,519.2 700.0,530.0 C708.3,540.8 716.7,548.3 715.0,555.0 C713.3,561.7 702.5,569.2 690.0,570.0 C677.5,570.8 655.0,565.0 640.0,560.0 C625.0,555.0 606.7,543.3 600.0,540.0"/>
<path class="k" d="M545.0,290.0 C557.5,281.7 595.8,255.0 620.0,240.0 C644.2,225.0 673.3,206.7 690.0,200.0 C706.7,193.3 708.3,197.5 720.0,200.0 C731.7,202.5 746.7,213.3 760.0,215.0 C773.3,216.7 793.3,210.8 800.0,210.0"/>
<path class="m" d="M620.0,240.0 C623.3,253.3 630.0,293.3 640.0,320.0 C650.0,346.7 665.0,376.7 680.0,400.0 C695.0,423.3 711.7,443.3 730.0,460.0 C748.3,476.7 780.0,493.3 790.0,500.0"/>
<path class="t" d="M660.0,220.0 C663.3,231.7 670.0,265.0 680.0,290.0 C690.0,315.0 705.0,346.7 720.0,370.0 C735.0,393.3 756.7,416.7 770.0,430.0 C783.3,443.3 795.0,446.7 800.0,450.0"/>
<path class="m" d="M700.0,200.0 C703.3,211.7 710.0,246.7 720.0,270.0 C730.0,293.3 746.7,321.7 760.0,340.0 C773.3,358.3 793.3,373.3 800.0,380.0"/>
<path class="m" d="M560,350 L640,300"/>
<path class="t" d="M600,395 L800,300"/>
<path class="k" d="M345.0,760.0 C350.8,755.0 367.5,734.2 380.0,730.0 C392.5,725.8 408.3,730.0 420.0,735.0 C431.7,740.0 443.3,749.2 450.0,760.0 C456.7,770.8 458.3,793.3 460.0,800.0"/>
<path class="k" d="M450.0,720.0 C453.3,716.7 465.0,706.7 470.0,700.0 C475.0,693.3 478.3,683.3 480.0,680.0"/>
<path class="m" d="M455.0,665.0 C460.8,662.5 479.2,654.2 490.0,650.0 C500.8,645.8 515.0,641.7 520.0,640.0"/>
<path class="k" d="M560.0,640.0 C566.7,643.3 586.7,660.0 600.0,660.0 C613.3,660.0 625.0,640.0 640.0,640.0 C655.0,640.0 676.7,650.0 690.0,660.0 C703.3,670.0 708.3,696.7 720.0,700.0 C731.7,703.3 746.7,690.0 760.0,680.0 C773.3,670.0 793.3,646.7 800.0,640.0"/>
<path class="k" d="M580.0,620.0 C586.7,616.7 606.7,601.7 620.0,600.0 C633.3,598.3 646.7,603.3 660.0,610.0 C673.3,616.7 693.3,635.0 700.0,640.0"/>
<path class="m" d="M520.0,720.0 C526.7,716.7 546.7,700.0 560.0,700.0 C573.3,700.0 590.0,710.0 600.0,720.0 C610.0,730.0 620.0,746.7 620.0,760.0 C620.0,773.3 603.3,793.3 600.0,800.0"/>
<path class="m" d="M640.0,700.0 C646.7,703.3 670.0,710.0 680.0,720.0 C690.0,730.0 698.3,746.7 700.0,760.0 C701.7,773.3 691.7,793.3 690.0,800.0"/>
<path class="k" d="M720.0,520.0 C726.7,523.3 746.7,538.3 760.0,540.0 C773.3,541.7 793.3,531.7 800.0,530.0"/>
<path class="m" d="M740,600 L800,625"/>
<path class="k" d="M745,605 L800,628"/>
<path class="m" d="M700.0,570.0 C703.3,575.0 710.0,591.7 720.0,600.0 C730.0,608.3 753.3,616.7 760.0,620.0"/>
<path class="t" d="M80,690 L140,680"/>
<path class="t" d="M85,720 L155,708"/>
<path class="t" d="M95,750 L175,735"/>
<path class="t" d="M110,780 L190,765"/>
<path class="m" d="M215.0,690.0 C218.3,698.3 225.8,723.3 235.0,740.0 C244.2,756.7 264.2,781.7 270.0,790.0"/>
<path class="m" d="M240.0,680.0 C243.7,688.3 252.0,711.7 262.0,730.0 C272.0,748.3 293.7,780.0 300.0,790.0"/>
<path class="t" d="M225.0,690.0 C229.2,700.0 240.0,731.7 250.0,750.0 C260.0,768.3 279.2,791.7 285.0,800.0"/>
<path class="m" d="M170.0,650.0 L185.0,680.0"/>
</g>
<!-- l_Q.svg -->
<g transform="translate(400,400) scale(0.25000)">
<path class="f" d="M380,0 L370,40 L400,80 L430,100 L440,60 L480,35 L520,50 L545,45 L575,10 L600,25 L605,60 L635,80 L625,110 L600,125 L615,160 L620,200 L635,215 L625,245 L600,280 L650,310 L680,345 L660,385 L610,420 L560,410 L520,440 L400,520 L380,545 L240,640 L150,700 L130,760 L100,800 L0,800 L0,0 Z"/>
<path class="k" d="M240.0,0.0 C241.7,3.3 240.0,17.5 250.0,20.0 C260.0,22.5 285.0,10.0 300.0,15.0 C315.0,20.0 327.5,36.7 340.0,50.0 C352.5,63.3 364.2,85.8 375.0,95.0 C385.8,104.2 395.8,104.2 405.0,105.0 C414.2,105.8 424.2,107.5 430.0,100.0 C435.8,92.5 431.7,70.8 440.0,60.0 C448.3,49.2 466.7,36.7 480.0,35.0 C493.3,33.3 509.2,48.3 520.0,50.0 C530.8,51.7 535.8,51.7 545.0,45.0 C554.2,38.3 565.8,13.3 575.0,10.0 C584.2,6.7 595.0,16.7 600.0,25.0 C605.0,33.3 599.2,50.8 605.0,60.0 C610.8,69.2 631.7,71.7 635.0,80.0 C638.3,88.3 630.8,102.5 625.0,110.0 C619.2,117.5 604.2,122.5 600.0,125.0"/>
<path class="k" d="M600.0,125.0 C602.5,130.8 611.7,147.5 615.0,160.0 C618.3,172.5 616.7,190.8 620.0,200.0 C623.3,209.2 634.2,207.5 635.0,215.0 C635.8,222.5 630.8,234.2 625.0,245.0 C619.2,255.8 604.2,274.2 600.0,280.0"/>
<path class="k" d="M600.0,280.0 C608.3,285.0 636.7,299.2 650.0,310.0 C663.3,320.8 678.3,332.5 680.0,345.0 C681.7,357.5 671.7,372.5 660.0,385.0 C648.3,397.5 626.7,415.8 610.0,420.0 C593.3,424.2 568.3,411.7 560.0,410.0"/>
<path class="k" d="M560,410 L520,440 L400,520 L380,548 L240,642 L150,702 L130,760 L100,800"/>
<path class="k" d="M572,425 L410,532 L250,652 L165,712"/>
<path class="k" d="M90.0,-20.0 C93.3,-13.3 100.0,6.7 110.0,20.0 C120.0,33.3 135.0,48.3 150.0,60.0 C165.0,71.7 185.0,83.3 200.0,90.0 C215.0,96.7 230.0,101.7 240.0,100.0 C250.0,98.3 256.7,83.3 260.0,80.0"/>
<path class="m" d="M60.0,-20.0 C64.2,-11.7 73.3,13.3 85.0,30.0 C96.7,46.7 115.0,65.8 130.0,80.0 C145.0,94.2 167.5,109.2 175.0,115.0"/>
<path class="m" d="M30.0,-20.0 C34.2,-10.8 43.3,16.7 55.0,35.0 C66.7,53.3 85.0,75.0 100.0,90.0 C115.0,105.0 137.5,119.2 145.0,125.0"/>
<path class="m" d="M0.0,-10.0 C5.0,-0.8 18.3,27.5 30.0,45.0 C41.7,62.5 56.7,80.8 70.0,95.0 C83.3,109.2 103.3,124.2 110.0,130.0"/>
<path class="t" d="M0.0,35.0 C5.0,42.5 20.0,66.7 30.0,80.0 C40.0,93.3 55.0,109.2 60.0,115.0"/>
<path class="m" d="M0,105 L115,65"/>
<path class="m" d="M15,130 L125,95"/>
<path class="k" d="M125.0,-20.0 C129.2,-15.0 140.0,1.7 150.0,10.0 C160.0,18.3 174.2,27.5 185.0,30.0 C195.8,32.5 208.3,29.2 215.0,25.0 C221.7,20.8 220.8,10.0 225.0,5.0 C229.2,0.0 237.5,-3.3 240.0,-5.0"/>
<path class="k" d="M240.0,-5.0 C242.5,-10.0 255.0,-15.0 265.0,-15.0 C275.0,-15.0 285.8,-9.2 300.0,-5.0 C314.2,-0.8 338.3,4.2 350.0,10.0 C361.7,15.8 370.0,24.2 370.0,30.0 C370.0,35.8 358.3,44.2 350.0,45.0 C341.7,45.8 331.7,38.3 320.0,35.0 C308.3,31.7 291.7,28.3 280.0,25.0 C268.3,21.7 256.7,20.0 250.0,15.0 C243.3,10.0 237.5,0.0 240.0,-5.0 Z"/>
<path class="m" d="M260,30 L280,135"/>
<path class="m" d="M290,30 L310,125"/>
<path class="t" d="M300,35 L320,120"/>
<path class="k" d="M370.0,30.0 C371.7,35.0 375.0,51.7 380.0,60.0 C385.0,68.3 396.7,76.7 400.0,80.0"/>
<path class="k" d="M20.0,155.0 C23.3,150.0 30.0,145.8 40.0,145.0 C50.0,144.2 67.5,146.7 80.0,150.0 C92.5,153.3 107.5,160.0 115.0,165.0 C122.5,170.0 124.2,174.2 125.0,180.0 C125.8,185.8 124.2,195.0 120.0,200.0 C115.8,205.0 108.3,209.2 100.0,210.0 C91.7,210.8 80.0,208.3 70.0,205.0 C60.0,201.7 48.3,195.0 40.0,190.0 C31.7,185.0 23.3,180.8 20.0,175.0 C16.7,169.2 16.7,160.0 20.0,155.0 Z"/>
<path class="k" d="M125.0,180.0 C128.3,184.2 137.5,196.7 145.0,205.0 C152.5,213.3 162.5,224.2 170.0,230.0 C177.5,235.8 186.7,238.3 190.0,240.0"/>
<path class="m" d="M100.0,210.0 C102.5,215.0 106.7,231.7 115.0,240.0 C123.3,248.3 140.0,257.5 150.0,260.0 C160.0,262.5 170.8,255.8 175.0,255.0"/>
<path class="m" d="M108.0,208.0 C110.8,212.5 117.2,228.0 125.0,235.0 C132.8,242.0 150.0,247.5 155.0,250.0"/>
<path class="k" d="M48,245 L145,280"/>
<path class="m" d="M50,250 L100,270"/>
<path class="k" d="M145.0,170.0 C149.2,169.2 160.8,163.3 170.0,165.0 C179.2,166.7 191.7,179.2 200.0,180.0 C208.3,180.8 213.3,173.3 220.0,170.0 C226.7,166.7 232.5,164.2 240.0,160.0 C247.5,155.8 257.5,148.3 265.0,145.0 C272.5,141.7 279.2,139.2 285.0,140.0 C290.8,140.8 297.5,148.3 300.0,150.0"/>
<path class="m" d="M170.0,130.0 C172.5,126.7 179.2,114.2 185.0,110.0 C190.8,105.8 201.7,105.8 205.0,105.0"/>
<path class="m" d="M165.0,170.0 C169.2,173.3 181.7,187.5 190.0,190.0 C198.3,192.5 210.8,185.8 215.0,185.0"/>
<path class="m" d="M150.0,190.0 C154.2,193.3 165.0,207.5 175.0,210.0 C185.0,212.5 200.0,208.3 210.0,205.0 C220.0,201.7 230.8,192.5 235.0,190.0"/>
<path class="m" d="M200.0,145.0 C203.3,142.5 213.3,131.7 220.0,130.0 C226.7,128.3 236.7,134.2 240.0,135.0"/>
<path class="t" d="M130,145 L165,150"/>
<path class="t" d="M210,100 L235,130 L260,130"/>
<ellipse class="k" cx="260.0" cy="0.0" rx="15.0" ry="9.0" transform="rotate(-10.0 260.0 0.0)"/>
<ellipse class="k" cx="325.0" cy="15.0" rx="12.0" ry="8.0" transform="rotate(-10.0 325.0 15.0)"/>
<ellipse class="k" cx="45.0" cy="160.0" rx="12.0" ry="8.0" transform="rotate(-10.0 45.0 160.0)"/>
<ellipse class="k" cx="88.0" cy="178.0" rx="25.0" ry="16.0" transform="rotate(-10.0 88.0 178.0)"/>
<ellipse class="k" cx="88.0" cy="178.0" rx="15.0" ry="9.0" transform="rotate(-10.0 88.0 178.0)"/>
<circle class="h" cx="160.0" cy="75.0" r="6.0"/>
<path class="m" d="M262.0,90.0 C268.3,91.7 287.0,100.0 300.0,100.0 C313.0,100.0 333.3,91.7 340.0,90.0"/>
<path class="k" d="M0.0,300.0 C3.3,298.3 11.7,290.0 20.0,290.0 C28.3,290.0 44.2,293.3 50.0,300.0 C55.8,306.7 58.3,323.3 55.0,330.0 C51.7,336.7 39.2,340.0 30.0,340.0 C20.8,340.0 5.0,331.7 0.0,330.0"/>
<path class="m" d="M100.0,290.0 C108.3,290.0 136.7,285.0 150.0,290.0 C163.3,295.0 175.0,315.0 180.0,320.0"/>
<path class="k" d="M0.0,400.0 C25.0,383.3 95.0,338.3 150.0,300.0 C205.0,261.7 296.7,196.7 330.0,170.0 C363.3,143.3 333.3,150.0 350.0,140.0 C366.7,130.0 410.0,113.3 430.0,110.0 C450.0,106.7 448.3,128.3 470.0,120.0 C491.7,111.7 540.0,76.7 560.0,60.0 C580.0,43.3 585.0,26.7 590.0,20.0"/>
<path class="k" d="M0.0,470.0 C23.3,455.0 106.7,400.0 140.0,380.0 C173.3,360.0 161.7,370.0 200.0,350.0 C238.3,330.0 336.7,283.3 370.0,260.0 C403.3,236.7 381.7,223.3 400.0,210.0 C418.3,196.7 465.0,190.0 480.0,180.0 C495.0,170.0 470.0,165.0 490.0,150.0 C510.0,135.0 581.7,100.0 600.0,90.0"/>
<path class="m" d="M0,440 L330,215"/>
<path class="m" d="M410,165 L580,55"/>
<path class="k" d="M250,215 L340,160"/>
<path class="k" d="M253,220 L343,165"/>
<path class="k" d="M150,310 L240,255"/>
<path class="k" d="M153,315 L243,260"/>
<path class="k" d="M40,395 L120,345"/>
<path class="k" d="M43,400 L123,350"/>
<path class="k" d="M150,385 L230,335"/>
<path class="k" d="M153,390 L233,340"/>
<path class="k" d="M30,470 L100,425"/>
<path class="k" d="M33,475 L103,430"/>
<circle class="h" cx="360.0" cy="145.0" r="7.0"/>
<circle class="h" cx="370.0" cy="265.0" r="7.0"/>
<circle class="h" cx="485.0" cy="128.0" r="7.0"/>
<circle class="h" cx="488.0" cy="180.0" r="7.0"/>
<circle class="h" cx="270.0" cy="335.0" r="7.0"/>
<circle class="h" cx="135.0" cy="432.0" r="7.0"/>
<circle class="h" cx="600.0" cy="95.0" r="7.0"/>
<circle class="h" cx="215.0" cy="300.0" r="6.0"/>
<circle class="h" cx="85.0" cy="400.0" r="6.0"/>
<ellipse class="k" cx="28.0" cy="385.0" rx="14.0" ry="9.0" transform="rotate(-20.0 28.0 385.0)"/>
<ellipse class="k" cx="135.0" cy="322.0" rx="16.0" ry="10.0" transform="rotate(-20.0 135.0 322.0)"/>
<ellipse class="k" cx="65.0" cy="462.0" rx="16.0" ry="10.0" transform="rotate(-20.0 65.0 462.0)"/>
<ellipse class="k" cx="485.0" cy="100.0" rx="20.0" ry="14.0" transform="rotate(-10.0 485.0 100.0)"/>
<ellipse class="k" cx="455.0" cy="78.0" rx="14.0" ry="10.0" transform="rotate(-10.0 455.0 78.0)"/>
<ellipse class="b" cx="385.0" cy="198.0" rx="22.0" ry="12.0" transform="rotate(-10.0 385.0 198.0)"/>
<path class="k" d="M330,200 L400,160 L440,190 L380,240 Z"/>
<path class="m" d="M300.0,235.0 C303.3,237.5 311.7,249.2 320.0,250.0 C328.3,250.8 345.0,241.7 350.0,240.0"/>
<path class="k" d="M135,432 L160,470 L250,480 L275,500 L270,590 L240,625"/>
<path class="k" d="M150,520 L175,560 L215,540 L225,500"/>
<path class="m" d="M160,470 L150,520"/>
<path class="m" d="M250,480 L245,540 L215,540"/>
<path class="k" d="M50.0,500.0 C51.7,510.0 48.3,548.3 60.0,560.0 C71.7,571.7 103.3,576.7 120.0,570.0 C136.7,563.3 153.3,528.3 160.0,520.0"/>
<path class="k" d="M0.0,540.0 C6.7,550.0 23.3,581.7 40.0,600.0 C56.7,618.3 85.0,640.0 100.0,650.0 C115.0,660.0 125.0,658.3 130.0,660.0"/>
<path class="m" d="M20.0,520.0 C21.7,528.3 20.0,556.7 30.0,570.0 C40.0,583.3 71.7,595.0 80.0,600.0"/>
<path class="m" d="M60.0,480.0 C66.7,483.3 88.3,500.0 100.0,500.0 C111.7,500.0 125.0,483.3 130.0,480.0"/>
<path class="k" d="M180.0,560.0 C181.7,566.7 181.7,588.7 190.0,600.0 C198.3,611.3 223.3,623.3 230.0,628.0"/>
<path class="m" d="M100.0,590.0 C108.3,593.3 135.0,608.3 150.0,610.0 C165.0,611.7 183.3,601.7 190.0,600.0"/>
<circle class="h" cx="230.0" cy="628.0" r="7.0"/>
<circle class="h" cx="125.0" cy="640.0" r="7.0"/>
<circle class="h" cx="40.0" cy="655.0" r="7.0"/>
<circle class="h" cx="10.0" cy="570.0" r="7.0"/>
<path class="k" d="M0,600 L30,660 L110,690"/>
<path class="m" d="M0.0,640.0 C6.7,648.3 23.3,680.0 40.0,690.0 C56.7,700.0 90.0,698.3 100.0,700.0"/>
<path class="m" d="M60,520 L75,555"/>
<path class="m" d="M90,525 L100,560"/>
<path class="m" d="M280.0,400.0 C283.3,391.7 290.0,360.0 300.0,350.0 C310.0,340.0 328.3,336.7 340.0,340.0 C351.7,343.3 365.0,365.0 370.0,370.0"/>
<path class="m" d="M260.0,420.0 C265.0,405.0 275.0,347.5 290.0,330.0 C305.0,312.5 331.7,310.0 350.0,315.0 C368.3,320.0 391.7,352.5 400.0,360.0"/>
<path class="t" d="M245.0,440.0 C249.2,420.0 252.5,344.2 270.0,320.0 C287.5,295.8 325.0,290.0 350.0,295.0 C375.0,300.0 408.3,340.8 420.0,350.0"/>
<path class="t" d="M300.0,420.0 C303.3,411.7 311.7,376.7 320.0,370.0 C328.3,363.3 345.0,378.3 350.0,380.0"/>
<path class="k" d="M300.0,340.0 C305.0,350.0 316.7,383.3 330.0,400.0 C343.3,416.7 365.0,433.3 380.0,440.0 C395.0,446.7 413.3,440.0 420.0,440.0"/>
<path class="m" d="M310,330 L330,390 L400,430"/>
<path class="k" d="M440.0,235.0 C444.2,249.2 460.0,297.5 465.0,320.0 C470.0,342.5 474.2,356.7 470.0,370.0 C465.8,383.3 445.0,395.0 440.0,400.0"/>
<path class="m" d="M400,300 L560,400"/>
<path class="m" d="M350,300 L440,330"/>
<path class="t" d="M380,280 L470,300"/>
<path class="t" d="M470,330 L545,380"/>
<path class="t" d="M420,400 L500,440"/>
<path class="t" d="M300,450 L400,500"/>
<path class="m" d="M280,470 L380,520"/>
<path class="k" d="M510,240 L570,265 L575,285 L515,260 Z"/>
<path class="m" d="M470.0,200.0 C481.7,198.3 518.3,198.3 540.0,190.0 C561.7,181.7 590.0,156.7 600.0,150.0"/>
<path class="m" d="M450.0,300.0 C461.7,300.0 498.3,308.3 520.0,300.0 C541.7,291.7 564.2,266.7 580.0,250.0 C595.8,233.3 609.2,208.3 615.0,200.0"/>
<path class="t" d="M480.0,240.0 C490.0,238.3 521.7,238.3 540.0,230.0 C558.3,221.7 581.7,196.7 590.0,190.0"/>
<path class="t" d="M500.0,340.0 C510.0,336.7 543.3,330.0 560.0,320.0 C576.7,310.0 593.3,286.7 600.0,280.0"/>
<path class="k" d="M590.0,280.0 C586.7,288.3 577.5,313.3 570.0,330.0 C562.5,346.7 551.7,366.7 545.0,380.0 C538.3,393.3 537.5,400.0 530.0,410.0 C522.5,420.0 521.7,425.0 500.0,440.0 C478.3,455.0 419.2,485.0 400.0,500.0 C380.8,515.0 411.7,508.3 385.0,530.0 C358.3,551.7 264.2,613.3 240.0,630.0"/>
<circle class="h" cx="530.0" cy="410.0" r="7.0"/>
<circle class="h" cx="385.0" cy="527.0" r="7.0"/>
<circle class="h" cx="603.0" cy="95.0" r="7.0"/>
<circle class="h" cx="625.0" cy="230.0" r="6.0"/>
<path class="m" d="M600.0,300.0 C606.7,303.3 629.2,311.7 640.0,320.0 C650.8,328.3 663.3,339.2 665.0,350.0 C666.7,360.8 659.2,376.7 650.0,385.0 C640.8,393.3 616.7,397.5 610.0,400.0"/>
<path class="m" d="M615.0,290.0 C621.7,294.2 645.5,305.3 655.0,315.0 C664.5,324.7 669.2,342.5 672.0,348.0"/>
<ellipse class="k" cx="625.0" cy="355.0" rx="12.0" ry="9.0" transform="rotate(30.0 625.0 355.0)"/>
<ellipse class="k" cx="600.0" cy="390.0" rx="12.0" ry="9.0" transform="rotate(30.0 600.0 390.0)"/>
<path class="m" d="M560,330 L590,350"/>
<path class="m" d="M575,300 L600,320"/>
<path class="m" d="M170,690 L370,560"/>
<path class="t" d="M200,685 L390,558"/>
<path class="t" d="M420,510 L520,448"/>
<path class="k" d="M0.0,700.0 C10.0,698.3 40.0,686.7 60.0,690.0 C80.0,693.3 105.0,710.0 120.0,720.0 C135.0,730.0 148.3,738.3 150.0,750.0 C151.7,761.7 138.3,781.7 130.0,790.0 C121.7,798.3 105.0,798.3 100.0,800.0"/>
<path class="m" d="M20.0,720.0 C28.3,719.2 55.0,711.7 70.0,715.0 C85.0,718.3 100.0,731.7 110.0,740.0 C120.0,748.3 126.7,760.8 130.0,765.0"/>
<ellipse class="k" cx="100.0" cy="745.0" rx="12.0" ry="9.0" transform="rotate(30.0 100.0 745.0)"/>
<ellipse class="k" cx="75.0" cy="778.0" rx="12.0" ry="9.0" transform="rotate(30.0 75.0 778.0)"/>
<path class="k" d="M10,750 L40,745 L50,765 L25,775 Z"/>
<path class="m" d="M0.0,412.0 C25.0,395.3 94.2,350.3 150.0,312.0 C205.8,273.7 301.3,208.7 335.0,182.0 C368.7,155.3 336.2,162.0 352.0,152.0 C367.8,142.0 410.3,125.3 430.0,122.0 C449.7,118.7 448.3,140.3 470.0,132.0 C491.7,123.7 545.0,82.0 560.0,72.0"/>
<path class="m" d="M0.0,458.0 C23.3,443.0 106.7,388.0 140.0,368.0 C173.3,348.0 162.5,357.7 200.0,338.0 C237.5,318.3 333.0,272.2 365.0,250.0 C397.0,227.8 373.7,218.3 392.0,205.0 C410.3,191.7 459.3,180.8 475.0,170.0 C490.7,159.2 465.2,155.3 486.0,140.0 C506.8,124.7 581.0,88.3 600.0,78.0"/>
<path class="m" d="M20,425 L320,232"/>
<path class="m" d="M60,430 L330,250"/>
<path class="k" d="M270.0,335.0 C273.3,340.8 287.5,359.2 290.0,370.0 C292.5,380.8 285.8,395.0 285.0,400.0"/>
<path class="k" d="M135.0,432.0 C132.5,426.7 119.2,408.7 120.0,400.0 C120.8,391.3 136.7,383.3 140.0,380.0"/>
<path class="k" d="M200.0,350.0 C202.5,355.0 206.7,373.3 215.0,380.0 C223.3,386.7 240.0,386.7 250.0,390.0 C260.0,393.3 270.8,398.3 275.0,400.0"/>
<path class="k" d="M60.0,500.0 C56.7,495.0 50.0,473.3 40.0,470.0 C30.0,466.7 6.7,478.3 0.0,480.0"/>
<path class="m" d="M250.0,390.0 C251.7,398.3 260.0,425.0 260.0,440.0 C260.0,455.0 251.7,473.3 250.0,480.0"/>
<path class="t" d="M420.0,200.0 C423.3,210.0 438.3,238.3 440.0,260.0 C441.7,281.7 436.7,310.0 430.0,330.0 C423.3,350.0 405.0,371.7 400.0,380.0"/>
<path class="t" d="M480.0,190.0 C483.3,201.7 498.3,235.0 500.0,260.0 C501.7,285.0 496.7,316.7 490.0,340.0 C483.3,363.3 465.0,390.0 460.0,400.0"/>
<path class="t" d="M540.0,180.0 C542.5,191.7 554.2,225.0 555.0,250.0 C555.8,275.0 550.8,306.7 545.0,330.0 C539.2,353.3 524.2,380.0 520.0,390.0"/>
<path class="t" d="M410.0,240.0 C420.0,241.7 448.3,250.8 470.0,250.0 C491.7,249.2 518.3,243.3 540.0,235.0 C561.7,226.7 590.0,205.8 600.0,200.0"/>
<path class="t" d="M400.0,330.0 C410.0,333.3 438.3,348.3 460.0,350.0 C481.7,351.7 510.0,346.7 530.0,340.0 C550.0,333.3 571.7,315.0 580.0,310.0"/>
<path class="t" d="M330.0,440.0 C341.7,445.0 376.7,468.3 400.0,470.0 C423.3,471.7 448.3,458.3 470.0,450.0 C491.7,441.7 520.0,425.0 530.0,420.0"/>
<path class="m" d="M340.0,250.0 C346.7,256.7 370.0,273.3 380.0,290.0 C390.0,306.7 396.7,340.0 400.0,350.0"/>
<path class="m" d="M365.0,270.0 C372.5,273.3 397.5,295.8 410.0,290.0 C422.5,284.2 435.0,244.2 440.0,235.0"/>
<path class="t" d="M300,300 L360,330 L380,400"/>
<path class="t" d="M260,360 L290,420 L340,470"/>
<path class="t" d="M250,400 L280,460 L330,500"/>
<path class="m" d="M470.0,370.0 C478.3,375.0 507.5,398.3 520.0,400.0 C532.5,401.7 540.8,383.3 545.0,380.0"/>
<path class="m" d="M300.0,340.0 C296.7,333.3 280.0,311.7 280.0,300.0 C280.0,288.3 290.0,276.7 300.0,270.0 C310.0,263.3 333.3,261.7 340.0,260.0"/>
<path class="m" d="M0.0,500.0 C5.0,506.7 26.7,526.7 30.0,540.0 C33.3,553.3 21.7,573.3 20.0,580.0"/>
<path class="m" d="M70.0,560.0 C73.3,568.3 78.3,598.3 90.0,610.0 C101.7,621.7 131.7,626.7 140.0,630.0"/>
<path class="m" d="M120.0,570.0 C123.3,575.0 130.0,595.0 140.0,600.0 C150.0,605.0 173.3,600.0 180.0,600.0"/>
<path class="k" d="M20.0,600.0 C26.7,606.7 43.3,630.0 60.0,640.0 C76.7,650.0 110.0,656.7 120.0,660.0"/>
<path class="t" d="M160,480 L240,490"/>
<path class="t" d="M165,500 L240,510"/>
<path class="t" d="M190,565 L225,545"/>
<path class="m" d="M225.0,500.0 C230.8,503.3 252.5,510.0 260.0,520.0 C267.5,530.0 268.3,553.3 270.0,560.0"/>
<path class="m" d="M0.0,660.0 C8.3,666.7 30.0,691.7 50.0,700.0 C70.0,708.3 108.3,708.3 120.0,710.0"/>
<path class="m" d="M130.0,660.0 C138.3,658.3 165.0,654.2 180.0,650.0 C195.0,645.8 213.3,637.5 220.0,635.0"/>
<path class="t" d="M60,580 L100,600"/>
<path class="t" d="M30,610 L80,640"/>
<circle class="h" cx="185.0" cy="520.0" r="5.0"/>
<circle class="h" cx="60.0" cy="545.0" r="6.0"/>
<path class="k" d="M60.0,225.0 C63.3,230.8 68.3,253.8 80.0,260.0 C91.7,266.2 121.7,261.7 130.0,262.0"/>
<path class="m" d="M0.0,260.0 C3.3,266.7 10.0,293.3 20.0,300.0 C30.0,306.7 53.3,300.0 60.0,300.0"/>
<path class="m" d="M150.0,290.0 C155.0,295.0 180.0,311.7 180.0,320.0 C180.0,328.3 155.0,336.7 150.0,340.0"/>
<path class="m" d="M230.0,240.0 C233.3,243.3 248.3,251.7 250.0,260.0 C251.7,268.3 241.7,285.0 240.0,290.0"/>
<path class="k" d="M0.0,330.0 C6.7,328.3 30.0,318.3 40.0,320.0 C50.0,321.7 60.0,331.7 60.0,340.0 C60.0,348.3 50.0,363.3 40.0,370.0 C30.0,376.7 6.7,378.3 0.0,380.0"/>
<path class="m" d="M100.0,230.0 C106.7,231.7 128.3,241.7 140.0,240.0 C151.7,238.3 165.0,223.3 170.0,220.0"/>
<path class="m" d="M262.0,90.0 C268.3,91.7 287.0,100.0 300.0,100.0 C313.0,100.0 327.5,90.8 340.0,90.0 C352.5,89.2 369.2,94.2 375.0,95.0"/>
<path class="m" d="M268.0,160.0 C273.3,158.3 289.7,150.0 300.0,150.0 C310.3,150.0 325.0,158.3 330.0,160.0"/>
<path class="t" d="M200.0,0.0 C205.0,6.7 221.7,26.7 230.0,40.0 C238.3,53.3 246.7,73.3 250.0,80.0"/>
<path class="t" d="M300,60 L335,70"/>
<path class="t" d="M305,120 L330,125"/>
<path class="m" d="M430.0,100.0 C433.3,101.7 443.3,106.7 450.0,110.0 C456.7,113.3 466.7,118.3 470.0,120.0"/>
<path class="m" d="M520.0,50.0 C521.7,55.0 523.3,78.3 530.0,80.0 C536.7,81.7 555.0,63.3 560.0,60.0"/>
<path class="m" d="M545,45 L560,70 L605,60"/>
<path class="t" d="M575,10 L585,40"/>
<path class="m" d="M610.0,130.0 C606.7,135.0 591.7,148.3 590.0,160.0 C588.3,171.7 600.0,186.7 600.0,200.0 C600.0,213.3 591.7,233.3 590.0,240.0"/>
<path class="t" d="M600.0,140.0 C596.7,145.0 582.5,158.3 580.0,170.0 C577.5,181.7 584.2,203.3 585.0,210.0"/>
</g>
<!-- l_R.svg -->
<g transform="translate(300,440) scale(0.12500)">
<path class="f" d="M0,0 L800,0 L800,800 L170,800 L130,760 L120,700 L60,650 L0,600 Z"/>
<path class="k" d="M0.0,600.0 C10.0,608.3 40.0,633.3 60.0,650.0 C80.0,666.7 108.3,681.7 120.0,700.0 C131.7,718.3 121.7,743.3 130.0,760.0 C138.3,776.7 163.3,793.3 170.0,800.0"/>
<path class="k" d="M-10,18 L20,-4"/>
<path class="k" d="M-10,60 L38,34"/>
<path class="k" d="M-8,66 L41,40"/>
<circle class="h" cx="88.0" cy="-5.0" r="8.0"/>
<path class="k" d="M30,90 L90,75 L130,105 L70,125 Z"/>
<path class="t" d="M45,88 L80,120"/>
<path class="t" d="M60,84 L98,115"/>
<path class="t" d="M75,80 L112,108"/>
<ellipse class="k" cx="175.0" cy="155.0" rx="30.0" ry="20.0" transform="rotate(-10.0 175.0 155.0)"/>
<ellipse class="k" cx="20.0" cy="270.0" rx="30.0" ry="20.0" transform="rotate(-10.0 20.0 270.0)"/>
<path class="k" d="M150.0,0.0 C151.7,6.7 153.3,25.0 160.0,40.0 C166.7,55.0 176.7,75.0 190.0,90.0 C203.3,105.0 226.7,120.0 240.0,130.0 C253.3,140.0 263.3,138.3 270.0,150.0 C276.7,161.7 273.3,185.0 280.0,200.0 C286.7,215.0 298.3,226.7 310.0,240.0 C321.7,253.3 338.3,268.3 350.0,280.0 C361.7,291.7 373.3,298.3 380.0,310.0 C386.7,321.7 391.7,340.0 390.0,350.0 C388.3,360.0 381.7,367.5 370.0,370.0 C358.3,372.5 328.3,365.8 320.0,365.0"/>
<path class="k" d="M60.0,215.0 C67.5,210.8 93.3,182.5 105.0,190.0 C116.7,197.5 119.2,236.7 130.0,260.0 C140.8,283.3 155.0,308.3 170.0,330.0 C185.0,351.7 206.7,375.0 220.0,390.0 C233.3,405.0 245.0,415.0 250.0,420.0"/>
<path class="m" d="M105.0,190.0 C112.5,188.3 138.3,178.3 150.0,180.0 C161.7,181.7 166.7,186.7 175.0,200.0 C183.3,213.3 187.5,238.3 200.0,260.0 C212.5,281.7 233.3,311.7 250.0,330.0 C266.7,348.3 291.7,363.3 300.0,370.0"/>
<path class="t" d="M150.0,200.0 C155.0,213.3 166.7,255.0 180.0,280.0 C193.3,305.0 215.0,330.0 230.0,350.0 C245.0,370.0 263.3,391.7 270.0,400.0"/>
<path class="k" d="M0.0,120.0 C6.7,121.7 30.0,121.7 40.0,130.0 C50.0,138.3 56.7,155.8 60.0,170.0 C63.3,184.2 60.0,207.5 60.0,215.0"/>
<path class="m" d="M0.0,200.0 C6.7,202.5 30.0,212.5 40.0,215.0 C50.0,217.5 56.7,215.0 60.0,215.0"/>
<path class="k" d="M0.0,330.0 C5.0,341.7 16.7,378.3 30.0,400.0 C43.3,421.7 61.7,441.7 80.0,460.0 C98.3,478.3 120.0,496.7 140.0,510.0 C160.0,523.3 185.0,538.3 200.0,540.0 C215.0,541.7 222.5,530.0 230.0,520.0 C237.5,510.0 243.3,493.3 245.0,480.0 C246.7,466.7 239.2,450.0 240.0,440.0 C240.8,430.0 248.3,423.3 250.0,420.0"/>
<path class="m" d="M0.0,380.0 C8.3,391.7 31.7,430.0 50.0,450.0 C68.3,470.0 90.0,486.7 110.0,500.0 C130.0,513.3 160.0,525.0 170.0,530.0"/>
<path class="t" d="M0.0,420.0 C6.7,429.2 23.3,457.5 40.0,475.0 C56.7,492.5 80.0,512.5 100.0,525.0 C120.0,537.5 150.0,545.8 160.0,550.0"/>
<path class="t" d="M20.0,330.0 C26.7,343.3 43.3,386.7 60.0,410.0 C76.7,433.3 100.0,455.0 120.0,470.0 C140.0,485.0 170.0,495.0 180.0,500.0"/>
<ellipse class="b" cx="152.0" cy="500.0" rx="8.0" ry="14.0" transform="rotate(-50.0 152.0 500.0)"/>
<path class="m" d="M0.0,480.0 C10.0,491.7 38.3,531.7 60.0,550.0 C81.7,568.3 106.7,585.0 130.0,590.0 C153.3,595.0 181.7,588.3 200.0,580.0 C218.3,571.7 233.3,546.7 240.0,540.0"/>
<path class="m" d="M0.0,540.0 C8.3,550.0 30.0,583.3 50.0,600.0 C70.0,616.7 98.3,636.7 120.0,640.0 C141.7,643.3 170.0,623.3 180.0,620.0"/>
<path class="k" d="M250.0,420.0 C256.7,414.2 278.3,393.3 290.0,385.0 C301.7,376.7 306.7,371.7 320.0,370.0 C333.3,368.3 351.7,366.7 370.0,375.0 C388.3,383.3 416.7,408.3 430.0,420.0 C443.3,431.7 451.7,436.7 450.0,445.0 C448.3,453.3 431.7,464.2 420.0,470.0 C408.3,475.8 393.3,475.0 380.0,480.0 C366.7,485.0 353.3,498.3 340.0,500.0 C326.7,501.7 313.3,493.3 300.0,490.0 C286.7,486.7 270.0,488.3 260.0,480.0 C250.0,471.7 243.3,446.7 240.0,440.0"/>
<ellipse class="k" cx="320.0" cy="410.0" rx="30.0" ry="20.0" transform="rotate(-10.0 320.0 410.0)"/>
<circle class="h" cx="360.0" cy="480.0" r="12.0"/>
<circle class="h" cx="250.0" cy="445.0" r="8.0"/>
<circle class="h" cx="430.0" cy="440.0" r="8.0"/>
<path class="k" d="M395.0,480.0 C404.2,478.3 412.5,451.7 450.0,470.0 C487.5,488.3 587.5,561.7 620.0,590.0 C652.5,618.3 645.0,624.2 645.0,640.0 C645.0,655.8 632.5,676.7 620.0,685.0 C607.5,693.3 586.7,692.5 570.0,690.0 C553.3,687.5 548.3,686.7 520.0,670.0 C491.7,653.3 429.2,616.7 400.0,590.0 C370.8,563.3 354.2,523.3 345.0,510.0"/>
<path class="m" d="M410,500 L600,612"/>
<path class="b" d="M455,585 L480,598 L480,640 L455,628 Z"/>
<path class="b" d="M490,602 L515,615 L515,652 L490,640 Z"/>
<path class="b" d="M530,630 L555,642 L555,668 L530,656 Z"/>
<circle class="h" cx="680.0" cy="630.0" r="10.0"/>
<path class="m" d="M300.0,490.0 C301.7,498.3 301.7,528.3 310.0,540.0 C318.3,551.7 336.7,551.7 350.0,560.0 C363.3,568.3 383.3,585.0 390.0,590.0"/>
<path class="m" d="M260.0,480.0 C261.7,490.0 263.3,520.0 270.0,540.0 C276.7,560.0 288.3,583.3 300.0,600.0 C311.7,616.7 333.3,633.3 340.0,640.0"/>
<path class="k" d="M340.0,500.0 C341.7,506.7 341.7,530.0 350.0,540.0 C358.3,550.0 381.7,551.7 390.0,560.0 C398.3,568.3 398.3,585.0 400.0,590.0"/>
<ellipse class="k" cx="475.0" cy="300.0" rx="30.0" ry="20.0" transform="rotate(-10.0 475.0 300.0)"/>
<ellipse class="k" cx="620.0" cy="320.0" rx="25.0" ry="16.0" transform="rotate(-10.0 620.0 320.0)"/>
<path class="k" d="M390.0,350.0 C395.0,341.7 410.0,313.3 420.0,300.0 C430.0,286.7 441.7,280.0 450.0,270.0 C458.3,260.0 458.3,241.7 470.0,240.0 C481.7,238.3 503.3,251.7 520.0,260.0 C536.7,268.3 556.7,286.7 570.0,290.0 C583.3,293.3 588.3,283.3 600.0,280.0 C611.7,276.7 625.0,266.7 640.0,270.0 C655.0,273.3 676.7,288.3 690.0,300.0 C703.3,311.7 708.3,326.7 720.0,340.0 C731.7,353.3 746.7,370.0 760.0,380.0 C773.3,390.0 793.3,396.7 800.0,400.0"/>
<path class="k" d="M420.0,300.0 C421.7,308.3 421.7,330.0 430.0,350.0 C438.3,370.0 455.0,400.0 470.0,420.0 C485.0,440.0 505.0,453.3 520.0,470.0 C535.0,486.7 546.7,508.3 560.0,520.0 C573.3,531.7 593.3,536.7 600.0,540.0"/>
<path class="m" d="M480.0,330.0 C485.0,341.7 496.7,376.7 510.0,400.0 C523.3,423.3 551.7,458.3 560.0,470.0"/>
<path class="m" d="M540.0,340.0 C545.0,351.7 556.7,386.7 570.0,410.0 C583.3,433.3 601.7,463.3 620.0,480.0 C638.3,496.7 670.0,505.0 680.0,510.0"/>
<path class="m" d="M640.0,340.0 C643.3,350.0 646.7,381.7 660.0,400.0 C673.3,418.3 710.0,441.7 720.0,450.0"/>
<path class="m" d="M690.0,300.0 C691.7,310.0 691.7,340.0 700.0,360.0 C708.3,380.0 723.3,405.0 740.0,420.0 C756.7,435.0 790.0,445.0 800.0,450.0"/>
<path class="t" d="M440,360 L560,330"/>
<path class="t" d="M470,420 L600,390"/>
<path class="m" d="M600,540 L680,560 L760,540 L800,560"/>
<path class="m" d="M620.0,590.0 C633.3,591.7 676.7,601.7 700.0,600.0 C723.3,598.3 750.0,583.3 760.0,580.0"/>
<path class="k" d="M650.0,700.0 C658.3,698.3 681.7,686.7 700.0,690.0 C718.3,693.3 743.3,711.7 760.0,720.0 C776.7,728.3 793.3,736.7 800.0,740.0"/>
<path class="m" d="M600.0,760.0 C613.3,763.3 653.3,773.3 680.0,780.0 C706.7,786.7 746.7,796.7 760.0,800.0"/>
<path class="m" d="M700,640 L800,690"/>
<path class="m" d="M300.0,0.0 C305.0,10.0 313.3,38.3 330.0,60.0 C346.7,81.7 376.7,111.7 400.0,130.0 C423.3,148.3 446.7,161.7 470.0,170.0 C493.3,178.3 520.0,183.3 540.0,180.0 C560.0,176.7 581.7,155.0 590.0,150.0"/>
<path class="m" d="M380.0,0.0 C386.7,10.0 403.3,43.3 420.0,60.0 C436.7,76.7 456.7,88.3 480.0,100.0 C503.3,111.7 546.7,125.0 560.0,130.0"/>
<path class="m" d="M460.0,0.0 C470.0,10.0 500.0,43.3 520.0,60.0 C540.0,76.7 570.0,93.3 580.0,100.0"/>
<path class="m" d="M220.0,0.0 C225.0,10.0 235.0,38.3 250.0,60.0 C265.0,81.7 290.0,110.0 310.0,130.0 C330.0,150.0 360.0,171.7 370.0,180.0"/>
<path class="m" d="M300,150 L560,30"/>
<path class="m" d="M330,230 L600,120"/>
<path class="t" d="M310,190 L580,75"/>
<path class="k" d="M540.0,180.0 C550.0,173.3 588.3,140.0 600.0,140.0 C611.7,140.0 616.7,166.7 610.0,180.0 C603.3,193.3 568.3,213.3 560.0,220.0"/>
<path class="k" d="M560.0,220.0 C566.7,218.3 586.7,206.7 600.0,210.0 C613.3,213.3 636.7,228.3 640.0,240.0 C643.3,251.7 623.3,273.3 620.0,280.0"/>
<path class="k" d="M640.0,240.0 C646.7,241.7 670.0,241.7 680.0,250.0 C690.0,258.3 696.7,283.3 700.0,290.0"/>
<path class="m" d="M590.0,225.0 C595.0,229.2 616.7,241.7 620.0,250.0 C623.3,258.3 611.7,270.8 610.0,275.0"/>
<path class="k" d="M620.0,0.0 C630.0,6.7 656.7,30.0 680.0,40.0 C703.3,50.0 740.0,60.0 760.0,60.0 C780.0,60.0 793.3,43.3 800.0,40.0"/>
<path class="m" d="M560.0,0.0 C573.3,11.7 610.0,54.2 640.0,70.0 C670.0,85.8 713.3,93.3 740.0,95.0 C766.7,96.7 790.0,82.5 800.0,80.0"/>
<path class="m" d="M700.0,100.0 C710.0,105.0 743.3,126.7 760.0,130.0 C776.7,133.3 793.3,121.7 800.0,120.0"/>
<path class="m" d="M720,200 L800,230"/>
<path class="m" d="M700.0,290.0 C706.7,285.0 723.3,263.3 740.0,260.0 C756.7,256.7 790.0,268.3 800.0,270.0"/>
<path class="k" d="M170.0,620.0 C178.3,610.0 206.7,573.3 220.0,560.0 C233.3,546.7 245.0,543.3 250.0,540.0"/>
<path class="m" d="M120,700 L200,640 L240,600"/>
<path class="m" d="M150,650 L290,740"/>
<path class="m" d="M180,630 L310,720"/>
<path class="t" d="M200,610 L330,700"/>
<path class="k" d="M280.0,740.0 C288.3,736.7 306.7,721.7 330.0,720.0 C353.3,718.3 396.7,723.3 420.0,730.0 C443.3,736.7 453.3,748.3 470.0,760.0 C486.7,771.7 511.7,793.3 520.0,800.0"/>
<ellipse class="k" cx="430.0" cy="700.0" rx="18.0" ry="24.0" transform="rotate(-30.0 430.0 700.0)"/>
<ellipse class="h" cx="215.0" cy="770.0" rx="14.0" ry="20.0" transform="rotate(-30.0 215.0 770.0)"/>
<path class="m" d="M240.0,600.0 C250.0,603.3 280.0,610.0 300.0,620.0 C320.0,630.0 340.0,650.0 360.0,660.0 C380.0,670.0 410.0,676.7 420.0,680.0"/>
<path class="m" d="M300.0,780.0 C310.0,776.7 340.0,760.0 360.0,760.0 C380.0,760.0 405.0,773.3 420.0,780.0 C435.0,786.7 445.0,796.7 450.0,800.0"/>
<path class="k" d="M470.0,690.0 C478.3,691.7 505.0,691.7 520.0,700.0 C535.0,708.3 546.7,723.3 560.0,740.0 C573.3,756.7 593.3,790.0 600.0,800.0"/>
<path class="m" d="M500.0,720.0 C506.7,726.7 530.0,746.7 540.0,760.0 C550.0,773.3 556.7,793.3 560.0,800.0"/>
<path class="t" d="M130,560 L230,620"/>
<path class="t" d="M100,600 L170,640"/>
</g>
<!-- l_S.svg -->
<g transform="translate(410,340) scale(0.12500)">
<path class="f" d="M0,150 L160,50 L195,65 L230,150 L270,240 L300,255 L330,270 L360,330 L420,400 L440,430 L530,420 L545,410 L530,440 L600,480 L650,510 L700,580 L760,620 L800,590 L800,800 L0,800 Z"/>
<path class="k" d="M160.0,50.0 C165.3,52.0 183.7,53.7 192.0,62.0 C200.3,70.3 202.8,82.0 210.0,100.0 C217.2,118.0 225.0,145.8 235.0,170.0 C245.0,194.2 264.2,232.5 270.0,245.0"/>
<path class="k" d="M0,150 L160,50"/>
<path class="k" d="M300.0,255.0 C304.2,257.2 316.7,257.2 325.0,268.0 C333.3,278.8 337.5,300.5 350.0,320.0 C362.5,339.5 385.0,366.7 400.0,385.0 C415.0,403.3 433.3,422.5 440.0,430.0"/>
<path class="k" d="M270,245 L300,255"/>
<path class="k" d="M440.0,430.0 C446.7,431.7 466.7,440.8 480.0,440.0 C493.3,439.2 510.8,430.0 520.0,425.0 C529.2,420.0 530.3,411.2 535.0,410.0 C539.7,408.8 548.8,412.2 548.0,418.0 C547.2,423.8 528.0,438.0 530.0,445.0 C532.0,452.0 546.7,453.3 560.0,460.0 C573.3,466.7 595.0,476.7 610.0,485.0 C625.0,493.3 636.7,495.0 650.0,510.0 C663.3,525.0 675.0,556.7 690.0,575.0 C705.0,593.3 725.0,613.3 740.0,620.0 C755.0,626.7 770.0,620.8 780.0,615.0 C790.0,609.2 796.7,590.0 800.0,585.0"/>
<path class="k" d="M75.0,150.0 C78.3,158.3 89.2,183.3 95.0,200.0 C100.8,216.7 99.2,235.8 110.0,250.0 C120.8,264.2 142.5,276.7 160.0,285.0 C177.5,293.3 205.8,297.5 215.0,300.0"/>
<path class="k" d="M215,300 L300,255"/>
<path class="m" d="M60,130 L160,65"/>
<path class="t" d="M90,150 L180,90"/>
<circle class="h" cx="35.0" cy="190.0" r="13.0"/>
<path class="k" d="M0,255 L30,248 L55,270 L40,295 L0,300"/>
<path class="t" d="M10,262 L30,290"/>
<path class="t" d="M28,255 L45,282"/>
<circle class="b" cx="85.0" cy="300.0" r="9.0"/>
<ellipse class="k" cx="145.0" cy="330.0" rx="30.0" ry="20.0" transform="rotate(-10.0 145.0 330.0)"/>
<path class="k" d="M50.0,120.0 C52.5,129.2 63.3,157.5 65.0,175.0 C66.7,192.5 54.2,210.0 60.0,225.0 C65.8,240.0 93.3,258.3 100.0,265.0"/>
<path class="k" d="M0.0,310.0 C13.3,316.7 55.0,339.2 80.0,350.0 C105.0,360.8 123.3,380.8 150.0,375.0 C176.7,369.2 225.0,325.0 240.0,315.0"/>
<path class="k" d="M95.0,395.0 C97.5,404.2 100.8,430.8 110.0,450.0 C119.2,469.2 133.3,491.7 150.0,510.0 C166.7,528.3 186.7,546.7 210.0,560.0 C233.3,573.3 266.7,590.0 290.0,590.0 C313.3,590.0 336.7,573.3 350.0,560.0 C363.3,546.7 367.5,525.0 370.0,510.0 C372.5,495.0 360.0,479.2 365.0,470.0 C370.0,460.8 387.5,461.7 400.0,455.0 C412.5,448.3 433.3,434.2 440.0,430.0"/>
<path class="k" d="M95,395 L150,375"/>
<path class="m" d="M245.0,320.0 C246.7,328.3 247.5,351.7 255.0,370.0 C262.5,388.3 275.8,413.3 290.0,430.0 C304.2,446.7 327.5,463.3 340.0,470.0 C352.5,476.7 360.8,470.0 365.0,470.0"/>
<path class="m" d="M150.0,400.0 C153.3,408.3 160.0,433.3 170.0,450.0 C180.0,466.7 193.3,485.0 210.0,500.0 C226.7,515.0 250.0,532.5 270.0,540.0 C290.0,547.5 320.0,544.2 330.0,545.0"/>
<path class="m" d="M130.0,500.0 C138.3,511.7 158.3,550.0 180.0,570.0 C201.7,590.0 230.0,606.7 260.0,620.0 C290.0,633.3 331.7,646.7 360.0,650.0 C388.3,653.3 418.3,641.7 430.0,640.0"/>
<path class="t" d="M120.0,520.0 C128.3,531.7 148.3,570.0 170.0,590.0 C191.7,610.0 220.0,626.7 250.0,640.0 C280.0,653.3 318.3,667.5 350.0,670.0 C381.7,672.5 425.0,657.5 440.0,655.0"/>
<ellipse class="h" cx="235.0" cy="630.0" rx="14.0" ry="20.0" transform="rotate(-30.0 235.0 630.0)"/>
<ellipse class="k" cx="450.0" cy="478.0" rx="30.0" ry="20.0" transform="rotate(-10.0 450.0 478.0)"/>
<ellipse class="k" cx="572.0" cy="510.0" rx="25.0" ry="16.0" transform="rotate(-10.0 572.0 510.0)"/>
<path class="k" d="M375.0,490.0 C380.8,494.2 389.2,507.5 410.0,515.0 C430.8,522.5 468.3,527.5 500.0,535.0 C531.7,542.5 575.0,562.5 600.0,560.0 C625.0,557.5 641.7,526.7 650.0,520.0"/>
<path class="m" d="M430,520 L450,700 L470,760"/>
<path class="m" d="M500,532 L530,720"/>
<path class="t" d="M520,538 L560,740"/>
<path class="k" d="M600.0,560.0 C603.3,570.0 610.0,601.7 620.0,620.0 C630.0,638.3 643.3,657.5 660.0,670.0 C676.7,682.5 705.0,693.3 720.0,695.0 C735.0,696.7 743.3,689.2 750.0,680.0 C756.7,670.8 760.0,650.0 760.0,640.0 C760.0,630.0 751.7,623.3 750.0,620.0"/>
<path class="m" d="M640.0,545.0 C646.7,554.2 665.0,585.8 680.0,600.0 C695.0,614.2 721.7,625.0 730.0,630.0"/>
<ellipse class="k" cx="30.0" cy="420.0" rx="22.0" ry="35.0" transform="rotate(-30.0 30.0 420.0)"/>
<path class="m" d="M0.0,560.0 C10.0,573.3 36.7,616.7 60.0,640.0 C83.3,663.3 126.7,690.0 140.0,700.0"/>
<path class="t" d="M0.0,610.0 C8.3,621.7 30.0,658.3 50.0,680.0 C70.0,701.7 108.3,730.0 120.0,740.0"/>
<path class="m" d="M0,690 L130,600"/>
<path class="t" d="M20,720 L160,640"/>
<path class="m" d="M0.0,480.0 C6.7,490.0 23.3,520.0 40.0,540.0 C56.7,560.0 90.0,590.0 100.0,600.0"/>
<path class="k" d="M440.0,800.0 C445.0,793.3 456.7,765.0 470.0,760.0 C483.3,755.0 505.0,765.0 520.0,770.0 C535.0,775.0 546.7,790.0 560.0,790.0 C573.3,790.0 583.3,776.7 600.0,770.0 C616.7,763.3 640.0,751.7 660.0,750.0 C680.0,748.3 696.7,760.0 720.0,760.0 C743.3,760.0 786.7,751.7 800.0,750.0"/>
<path class="m" d="M0.0,740.0 C10.0,743.3 35.0,750.0 60.0,760.0 C85.0,770.0 135.0,793.3 150.0,800.0"/>
<path class="k" d="M280,700 L300,740 L270,780"/>
<path class="m" d="M330,700 L350,740"/>
<path class="m" d="M160.0,720.0 C170.0,723.3 200.0,743.3 220.0,740.0 C240.0,736.7 270.0,706.7 280.0,700.0"/>
<path class="t" d="M380.0,680.0 C386.7,686.7 410.0,703.3 420.0,720.0 C430.0,736.7 436.7,770.0 440.0,780.0"/>
<ellipse class="h" cx="640.0" cy="770.0" rx="14.0" ry="10.0" transform="rotate(-10.0 640.0 770.0)"/>
</g>
<!-- u_A0.svg -->
<g transform="translate(210,140) scale(0.12500)">
<path class="k" d="M150.0,800.0 C155.3,793.3 160.3,784.2 182.0,760.0 C203.7,735.8 261.7,677.5 280.0,655.0 C298.3,632.5 282.8,636.2 292.0,625.0 C301.2,613.8 321.2,597.8 335.0,588.0 C348.8,578.2 361.7,568.2 375.0,566.0 C388.3,563.8 404.2,571.3 415.0,575.0 C425.8,578.7 435.8,585.8 440.0,588.0"/>
<path class="k" d="M440,588 L446,540 L452,470 L448,418"/>
<path class="k" d="M448.0,418.0 C451.7,412.7 462.3,398.0 470.0,386.0 C477.7,374.0 483.3,356.0 494.0,346.0 C504.7,336.0 521.0,330.7 534.0,326.0 C547.0,321.3 562.3,324.7 572.0,318.0 C581.7,311.3 587.7,297.3 592.0,286.0 C596.3,274.7 592.7,260.7 598.0,250.0 C603.3,239.3 617.0,229.3 624.0,222.0 C631.0,214.7 634.7,208.0 640.0,206.0 C645.3,204.0 646.0,213.3 656.0,210.0 C666.0,206.7 684.3,193.3 700.0,186.0 C715.7,178.7 733.3,172.3 750.0,166.0 C766.7,159.7 791.7,151.0 800.0,148.0"/>
<path class="k" d="M452.0,425.0 C455.7,440.8 458.5,484.2 474.0,520.0 C489.5,555.8 524.0,611.7 545.0,640.0 C566.0,668.3 574.2,673.0 600.0,690.0 C625.8,707.0 666.7,728.3 700.0,742.0 C733.3,755.7 783.3,767.0 800.0,772.0"/>
<path class="m" d="M446.0,470.0 C450.0,485.0 457.7,528.3 470.0,560.0 C482.3,591.7 498.3,631.7 520.0,660.0 C541.7,688.3 570.0,710.0 600.0,730.0 C630.0,750.0 673.3,768.3 700.0,780.0 C726.7,791.7 750.0,796.7 760.0,800.0"/>
<path class="k" d="M800.0,195.0 C793.3,197.5 776.7,203.3 760.0,210.0 C743.3,216.7 720.0,223.3 700.0,235.0 C680.0,246.7 655.0,264.2 640.0,280.0 C625.0,295.8 615.8,313.3 610.0,330.0 C604.2,346.7 604.2,360.0 605.0,380.0 C605.8,400.0 607.5,425.0 615.0,450.0 C622.5,475.0 635.8,506.7 650.0,530.0 C664.2,553.3 681.7,571.7 700.0,590.0 C718.3,608.3 743.3,627.5 760.0,640.0 C776.7,652.5 793.3,660.8 800.0,665.0"/>
<path class="m" d="M800.0,215.0 C790.0,220.0 761.7,231.7 740.0,245.0 C718.3,258.3 688.7,278.3 670.0,295.0 C651.3,311.7 636.0,327.5 628.0,345.0 C620.0,362.5 620.0,379.2 622.0,400.0 C624.0,420.8 630.3,446.7 640.0,470.0 C649.7,493.3 663.3,518.3 680.0,540.0 C696.7,561.7 720.0,583.3 740.0,600.0 C760.0,616.7 790.0,633.3 800.0,640.0"/>
<ellipse class="h" cx="530.0" cy="358.0" rx="17.0" ry="12.0" transform="rotate(-10.0 530.0 358.0)"/>
<ellipse class="k" cx="516.0" cy="426.0" rx="30.0" ry="20.0" transform="rotate(-15.0 516.0 426.0)"/>
<ellipse class="m" cx="512.0" cy="430.0" rx="18.0" ry="12.0" transform="rotate(-15.0 512.0 430.0)"/>
<path class="k" d="M510.0,482.0 C513.8,475.7 524.7,466.8 538.0,474.0 C551.3,481.2 572.7,507.0 590.0,525.0 C607.3,543.0 634.3,567.8 642.0,582.0 C649.7,596.2 642.0,604.7 636.0,610.0 C630.0,615.3 618.7,621.5 606.0,614.0 C593.3,606.5 575.2,582.0 560.0,565.0 C544.8,548.0 523.3,525.8 515.0,512.0 C506.7,498.2 506.2,488.3 510.0,482.0 Z"/>
<circle class="h" cx="668.0" cy="648.0" r="11.0"/>
<path class="k" d="M722.0,672.0 C728.3,670.0 747.0,660.7 760.0,660.0 C773.0,659.3 793.3,666.7 800.0,668.0"/>
<path class="k" d="M722.0,672.0 C723.3,676.7 722.0,693.3 730.0,700.0 C738.0,706.7 758.3,709.3 770.0,712.0 C781.7,714.7 795.0,715.3 800.0,716.0"/>
<path class="k" d="M446,470 L440,600 L436,700 L400,722 L395,800"/>
<path class="m" d="M480,565 L476,700 L470,800"/>
<path class="m" d="M522,660 L530,800"/>
<path class="t" d="M560,700 L572,800"/>
<path class="t" d="M600,730 L612,800"/>
<path class="t" d="M640,752 L650,800"/>
<path class="t" d="M460,600 L455,760"/>
<path class="m" d="M300,660 L330,690 L360,700 L400,722"/>
<path class="m" d="M290,625 L300,660"/>
<path class="t" d="M340,600 L350,640 L400,660 L436,650"/>
</g>
<!-- u_A1.svg -->
<g transform="translate(210,220) scale(0.10000)">
<path class="k" d="M155,218 L232,150 L348,62 L352,22 L378,0"/>
<path class="k" d="M155,218 L158,248 L186,288 L203,312 L216,336"/>
<path class="k" d="M216.0,336.0 C211.3,336.7 197.7,337.3 188.0,340.0 C178.3,342.7 168.7,344.3 158.0,352.0 C147.3,359.7 131.0,375.3 124.0,386.0 C117.0,396.7 114.7,407.0 116.0,416.0 C117.3,425.0 122.0,437.3 132.0,440.0 C142.0,442.7 164.3,431.7 176.0,432.0 C187.7,432.3 195.3,436.0 202.0,442.0 C208.7,448.0 214.7,455.0 216.0,468.0 C217.3,481.0 208.7,506.7 210.0,520.0 C211.3,533.3 216.3,543.8 224.0,548.0 C231.7,552.2 246.3,547.2 256.0,545.0 C265.7,542.8 274.3,534.5 282.0,535.0 C289.7,535.5 294.7,542.8 302.0,548.0 C309.3,553.2 319.0,559.3 326.0,566.0 C333.0,572.7 341.0,584.3 344.0,588.0"/>
<ellipse class="h" cx="205.0" cy="265.0" rx="14.0" ry="20.0" transform="rotate(-35.0 205.0 265.0)"/>
<ellipse class="t" cx="208.0" cy="268.0" rx="8.0" ry="13.0" transform="rotate(-35.0 208.0 268.0)"/>
<path class="m" d="M205,235 L385,100 L400,60 L420,40 L470,20 L520,10"/>
<path class="t" d="M250,262 L440,135"/>
<path class="t" d="M300,290 L490,180"/>
<path class="m" d="M216,336 L252,312 L300,318 L380,330 L452,346 L520,362 L560,376 L596,352"/>
<path class="m" d="M240,300 L300,300 L345,312"/>
<path class="k" d="M344.0,588.0 C345.0,596.7 342.7,628.7 350.0,640.0 C357.3,651.3 375.7,656.7 388.0,656.0 C400.3,655.3 420.0,646.7 424.0,636.0 C428.0,625.3 415.3,603.7 412.0,592.0 C408.7,580.3 402.0,573.0 404.0,566.0 C406.0,559.0 413.0,554.3 424.0,550.0 C435.0,545.7 453.7,540.7 470.0,540.0 C486.3,539.3 506.7,540.7 522.0,546.0 C537.3,551.3 548.7,561.0 562.0,572.0 C575.3,583.0 587.0,595.3 602.0,612.0 C617.0,628.7 635.7,650.3 652.0,672.0 C668.3,693.7 687.0,720.7 700.0,742.0 C713.0,763.3 725.0,790.3 730.0,800.0"/>
<path class="k" d="M380.0,520.0 C388.3,516.0 411.7,501.0 430.0,496.0 C448.3,491.0 469.7,487.7 490.0,490.0 C510.3,492.3 531.7,499.0 552.0,510.0 C572.3,521.0 590.7,536.0 612.0,556.0 C633.3,576.0 658.7,602.7 680.0,630.0 C701.3,657.3 723.3,691.7 740.0,720.0 C756.7,748.3 773.3,786.7 780.0,800.0"/>
<path class="t" d="M395.0,540.0 C402.5,535.8 423.3,520.0 440.0,515.0 C456.7,510.0 476.7,507.5 495.0,510.0 C513.3,512.5 531.7,519.2 550.0,530.0 C568.3,540.8 585.0,555.0 605.0,575.0 C625.0,595.0 650.0,623.3 670.0,650.0 C690.0,676.7 710.0,710.0 725.0,735.0 C740.0,760.0 754.2,789.2 760.0,800.0"/>
<path class="m" d="M430,560 L432,600 L450,610 L452,570"/>
<path class="m" d="M462,560 L462,605 L480,610 L482,565"/>
<path class="m" d="M492,560 L494,600 L512,596 L520,570"/>
<path class="m" d="M232.0,352.0 C237.0,348.3 250.7,332.7 262.0,330.0 C273.3,327.3 288.7,336.0 300.0,336.0 C311.3,336.0 318.0,329.3 330.0,330.0 C342.0,330.7 361.7,333.0 372.0,340.0 C382.3,347.0 385.7,362.0 392.0,372.0 C398.3,382.0 403.3,388.7 410.0,400.0 C416.7,411.3 428.3,433.3 432.0,440.0"/>
<path class="m" d="M300.0,470.0 C305.0,465.0 318.0,450.0 330.0,440.0 C342.0,430.0 361.7,421.3 372.0,410.0 C382.3,398.7 388.7,378.3 392.0,372.0"/>
<path class="k" d="M290.0,470.0 C295.0,465.0 306.3,451.7 320.0,440.0 C333.7,428.3 363.3,406.7 372.0,400.0"/>
<path class="k" d="M290.0,470.0 C291.7,475.0 293.3,491.7 300.0,500.0 C306.7,508.3 321.3,512.0 330.0,520.0 C338.7,528.0 348.3,543.3 352.0,548.0"/>
<ellipse class="b" cx="328.0" cy="492.0" rx="10.0" ry="16.0" transform="rotate(-30.0 328.0 492.0)"/>
<path class="t" d="M240,380 L300,350"/>
<path class="t" d="M245,410 L310,370"/>
<path class="t" d="M225,430 L250,400"/>
<path class="m" d="M330,336 L340,390 L320,420"/>
<path class="m" d="M372,340 L380,390"/>
<path class="k" d="M520,100 L500,130 L498,170 L520,200 L560,40"/>
<path class="k" d="M560,40 L575,0"/>
<path class="k" d="M560.0,40.0 C565.0,53.3 581.7,91.7 590.0,120.0 C598.3,148.3 605.0,181.7 610.0,210.0 C615.0,238.3 621.7,267.5 620.0,290.0 C618.3,312.5 603.3,335.8 600.0,345.0"/>
<path class="m" d="M520,200 L600,250"/>
<path class="m" d="M500,180 L470,190 L440,170"/>
<path class="t" d="M530,110 L590,150 L600,200"/>
<path class="t" d="M545,60 L600,100"/>
<ellipse class="h" cx="628.0" cy="362.0" rx="22.0" ry="17.0" transform="rotate(25.0 628.0 362.0)"/>
<ellipse class="b" cx="626.0" cy="362.0" rx="13.0" ry="9.0" transform="rotate(25.0 626.0 362.0)"/>
<path class="m" d="M600.0,345.0 C606.7,342.5 623.3,337.5 640.0,330.0 C656.7,322.5 680.0,310.0 700.0,300.0 C720.0,290.0 743.3,278.3 760.0,270.0 C776.7,261.7 793.3,253.3 800.0,250.0"/>
<path class="m" d="M650.0,380.0 C658.3,375.0 681.7,360.0 700.0,350.0 C718.3,340.0 743.3,327.5 760.0,320.0 C776.7,312.5 793.3,307.5 800.0,305.0"/>
<path class="m" d="M540,380 L555,440 L545,470"/>
<path class="m" d="M575,395 L600,440 L640,470 L700,560 L760,640 L800,690"/>
<path class="t" d="M560,400 L545,440"/>
<path class="t" d="M600,300 L680,260 L720,200 L700,150 L680,120"/>
<path class="t" d="M640,250 L700,220"/>
<path class="t" d="M620,200 L690,170 L760,150 L800,120"/>
<path class="m" d="M690,130 L720,170 L700,200"/>
<path class="m" d="M760,100 L770,200 L790,260"/>
<path class="t" d="M720,90 L740,180"/>
<path class="k" d="M640,0 L660,80 L700,140 L760,190 L800,230"/>
<path class="m" d="M700,0 L720,60 L760,110 L800,150"/>
<path class="t" d="M710,560 L740,600 L720,620 L700,590 Z"/>
<path class="t" d="M760,520 L790,560 L770,590 L745,560 Z"/>
<path class="t" d="M800,430 L760,450 L720,480"/>
<path class="t" d="M690,330 L800,280"/>
</g>
<!-- u_B0.svg -->
<g transform="translate(310,140) scale(0.12500)">
<path class="k" d="M0.0,92.0 C6.7,93.0 28.3,100.3 40.0,98.0 C51.7,95.7 60.0,82.7 70.0,78.0 C80.0,73.3 86.7,72.3 100.0,70.0 C113.3,67.7 136.3,68.3 150.0,64.0 C163.7,59.7 174.3,52.3 182.0,44.0 C189.7,35.7 191.3,21.3 196.0,14.0 C200.7,6.7 207.7,2.3 210.0,0.0"/>
<ellipse class="k" cx="130.0" cy="125.0" rx="30.0" ry="20.0" transform="rotate(-8.0 130.0 125.0)"/>
<ellipse class="t" cx="132.0" cy="127.0" rx="20.0" ry="12.0" transform="rotate(-8.0 132.0 127.0)"/>
<path class="k" d="M30,200 L160,185 L165,262 L30,282"/>
<path class="m" d="M160,185 L215,160 L225,60"/>
<path class="m" d="M30,282 L40,302 L150,288 L165,262"/>
<path class="t" d="M30,230 L160,215"/>
<path class="k" d="M225,50 L226,300 L238,400"/>
<path class="m" d="M205,70 L206,330"/>
<path class="k" d="M0.0,480.0 C10.0,475.8 40.0,461.7 60.0,455.0 C80.0,448.3 101.7,442.5 120.0,440.0 C138.3,437.5 161.7,440.0 170.0,440.0"/>
<path class="m" d="M0.0,452.0 C10.0,448.3 40.0,436.0 60.0,430.0 C80.0,424.0 102.0,418.3 120.0,416.0 C138.0,413.7 160.0,416.0 168.0,416.0"/>
<path class="k" d="M238.0,312.0 C242.0,301.7 246.7,269.0 262.0,250.0 C277.3,231.0 303.7,212.7 330.0,198.0 C356.3,183.3 388.3,171.3 420.0,162.0 C451.7,152.7 486.7,146.3 520.0,142.0 C553.3,137.7 590.0,134.7 620.0,136.0 C650.0,137.3 676.7,143.5 700.0,150.0 C723.3,156.5 743.3,166.7 760.0,175.0 C776.7,183.3 793.3,195.8 800.0,200.0"/>
<path class="m" d="M300.0,160.0 C310.0,153.3 335.0,132.5 360.0,120.0 C385.0,107.5 416.7,94.0 450.0,85.0 C483.3,76.0 521.7,68.5 560.0,66.0 C598.3,63.5 640.0,64.3 680.0,70.0 C720.0,75.7 780.0,95.0 800.0,100.0"/>
<path class="t" d="M250.0,60.0 C263.3,53.7 305.0,32.0 330.0,22.0 C355.0,12.0 388.3,3.7 400.0,0.0"/>
<path class="k" d="M238.0,312.0 C240.0,320.0 239.7,345.7 250.0,360.0 C260.3,374.3 281.7,399.3 300.0,398.0 C318.3,396.7 343.3,364.0 360.0,352.0 C376.7,340.0 385.0,328.7 400.0,326.0 C415.0,323.3 433.3,329.3 450.0,336.0 C466.7,342.7 481.7,362.7 500.0,366.0 C518.3,369.3 536.7,360.0 560.0,356.0 C583.3,352.0 610.0,347.7 640.0,342.0 C670.0,336.3 713.3,329.0 740.0,322.0 C766.7,315.0 790.0,303.7 800.0,300.0"/>
<path class="t" d="M262.0,250.0 C261.3,258.3 256.7,283.3 258.0,300.0 C259.3,316.7 263.0,336.7 270.0,350.0 C277.0,363.3 295.0,375.0 300.0,380.0"/>
<path class="t" d="M290.0,225.0 C289.0,235.8 282.3,269.2 284.0,290.0 C285.7,310.8 292.3,336.3 300.0,350.0 C307.7,363.7 325.0,368.3 330.0,372.0"/>
<path class="t" d="M330.0,200.0 C328.3,211.7 318.3,246.7 320.0,270.0 C321.7,293.3 336.7,328.3 340.0,340.0"/>
<path class="t" d="M380.0,180.0 C378.3,191.7 370.0,226.7 370.0,250.0 C370.0,273.3 378.3,308.3 380.0,320.0"/>
<path class="t" d="M440.0,200.0 C438.3,210.0 430.0,240.0 430.0,260.0 C430.0,280.0 438.3,310.0 440.0,320.0"/>
<path class="m" d="M500.0,230.0 C503.3,226.7 506.7,215.0 520.0,210.0 C533.3,205.0 556.7,199.2 580.0,200.0 C603.3,200.8 633.3,206.7 660.0,215.0 C686.7,223.3 718.3,237.5 740.0,250.0 C761.7,262.5 781.7,283.3 790.0,290.0"/>
<path class="m" d="M500.0,230.0 C498.7,236.7 490.3,255.0 492.0,270.0 C493.7,285.0 501.2,305.8 510.0,320.0 C518.8,334.2 539.2,349.2 545.0,355.0"/>
<path class="k" d="M170,480 L300,400 L440,495 L380,600 L300,600 L170,480"/>
<path class="m" d="M170,480 L165,420 L235,365"/>
<circle class="k" cx="305.0" cy="500.0" r="34.0"/>
<circle class="m" cx="305.0" cy="505.0" r="24.0"/>
<circle class="t" cx="305.0" cy="508.0" r="15.0"/>
<circle class="m" cx="215.0" cy="495.0" r="11.0"/>
<circle class="m" cx="405.0" cy="512.0" r="11.0"/>
<path class="k" d="M165,405 L195,400 L198,430 L168,436 Z"/>
<path class="m" d="M60,470 L100,640"/>
<path class="k" d="M0.0,640.0 C13.3,643.3 46.7,658.3 80.0,660.0 C113.3,661.7 163.3,656.7 200.0,650.0 C236.7,643.3 270.0,628.3 300.0,620.0 C330.0,611.7 366.7,603.3 380.0,600.0"/>
<path class="m" d="M130.0,580.0 C133.3,583.3 143.3,590.0 150.0,600.0 C156.7,610.0 166.7,633.3 170.0,640.0"/>
<path class="m" d="M150.0,575.0 C155.0,577.5 171.7,579.2 180.0,590.0 C188.3,600.8 196.7,631.7 200.0,640.0"/>
<path class="k" d="M440.0,495.0 C445.0,482.5 460.0,440.5 470.0,420.0 C480.0,399.5 487.5,382.8 500.0,372.0 C512.5,361.2 537.5,357.8 545.0,355.0"/>
<path class="k" d="M380.0,600.0 C386.7,606.7 405.0,638.3 420.0,640.0 C435.0,641.7 450.0,621.7 470.0,610.0 C490.0,598.3 515.0,585.0 540.0,570.0 C565.0,555.0 593.3,536.7 620.0,520.0 C646.7,503.3 670.0,488.3 700.0,470.0 C730.0,451.7 783.3,420.0 800.0,410.0"/>
<ellipse class="k" cx="556.0" cy="422.0" rx="26.0" ry="22.0" transform="rotate(-10.0 556.0 422.0)"/>
<ellipse class="m" cx="556.0" cy="426.0" rx="16.0" ry="13.0" transform="rotate(-10.0 556.0 426.0)"/>
<path class="k" d="M628.0,408.0 C631.3,397.2 634.7,386.0 650.0,380.0 C665.3,374.0 705.3,370.0 720.0,372.0 C734.7,374.0 738.0,382.3 738.0,392.0 C738.0,401.7 734.7,418.7 720.0,430.0 C705.3,441.3 665.0,457.5 650.0,460.0 C635.0,462.5 633.7,453.7 630.0,445.0 C626.3,436.3 624.7,418.8 628.0,408.0 Z"/>
<path class="t" d="M650,400 L660,440"/>
<path class="t" d="M680,390 L690,435"/>
<path class="t" d="M705,385 L712,425"/>
<path class="k" d="M505.0,500.0 C505.8,489.2 515.8,475.8 530.0,470.0 C544.2,464.2 577.5,461.7 590.0,465.0 C602.5,468.3 606.7,480.0 605.0,490.0 C603.3,500.0 593.3,517.5 580.0,525.0 C566.7,532.5 537.5,539.2 525.0,535.0 C512.5,530.8 504.2,510.8 505.0,500.0 Z"/>
<path class="t" d="M530,485 L540,525"/>
<path class="t" d="M560,475 L568,520"/>
<circle class="m" cx="495.0" cy="572.0" r="11.0"/>
<circle class="m" cx="685.0" cy="525.0" r="13.0"/>
<circle class="m" cx="768.0" cy="378.0" r="12.0"/>
<circle class="m" cx="430.0" cy="718.0" r="12.0"/>
<ellipse class="k" cx="150.0" cy="728.0" rx="32.0" ry="22.0" transform="rotate(-10.0 150.0 728.0)"/>
<ellipse class="m" cx="150.0" cy="730.0" rx="20.0" ry="13.0" transform="rotate(-10.0 150.0 730.0)"/>
<path class="k" d="M200,800 L330,720 L540,600 L800,430"/>
<path class="k" d="M260,800 L400,720 L560,630 L800,480"/>
<path class="m" d="M0,700 L60,690 L100,700 L110,760 L90,800"/>
<path class="m" d="M190,720 L260,690 L330,650 L400,620"/>
<path class="t" d="M220.0,740.0 C233.3,733.3 276.7,711.7 300.0,700.0 C323.3,688.3 350.0,675.0 360.0,670.0"/>
<path class="k" d="M540,600 L600,720 L640,740 L800,650"/>
<path class="m" d="M580,620 L620,700 L660,705 L800,625"/>
<path class="k" d="M600,720 L590,800"/>
<path class="m" d="M640,740 L650,800"/>
<path class="t" d="M620.0,580.0 C621.7,571.7 646.7,560.8 660.0,560.0 C673.3,559.2 695.0,568.3 700.0,575.0 C705.0,581.7 698.3,594.2 690.0,600.0 C681.7,605.8 661.7,613.3 650.0,610.0 C638.3,606.7 618.3,588.3 620.0,580.0 Z"/>
<circle class="t" cx="760.0" cy="690.0" r="14.0"/>
<path class="m" d="M700.0,790.0 C706.7,785.0 723.3,768.3 740.0,760.0 C756.7,751.7 790.0,743.3 800.0,740.0"/>
</g>
<!-- u_B1.svg -->
<g transform="translate(290,240) scale(0.12500)">
<path class="k" d="M0,500 L100,545 L340,650 L380,692 L440,682 L540,625 L560,600 L575,622 L600,646 L650,630 L800,545"/>
<path class="k" d="M20,380 L100,420 L300,520 L345,545"/>
<path class="m" d="M20,380 L20,500"/>
<path class="m" d="M40,430 L330,585"/>
<path class="m" d="M345,545 L340,650"/>
<path class="b" d="M110,440 L150,460 L150,495 L110,475 Z"/>
<path class="b" d="M190,480 L215,492 L215,525 L190,512 Z"/>
<path class="b" d="M240,505 L265,518 L265,550 L240,538 Z"/>
<path class="b" d="M290,535 L310,545 L310,570 L290,560 Z"/>
<path class="k" d="M100,420 L100,470 L330,585"/>
<path class="k" d="M420.0,0.0 C408.3,8.3 371.7,34.2 350.0,50.0 C328.3,65.8 304.2,82.5 290.0,95.0 C275.8,107.5 263.3,110.5 265.0,125.0 C266.7,139.5 285.8,159.2 300.0,182.0 C314.2,204.8 333.3,234.0 350.0,262.0 C366.7,290.0 383.3,323.7 400.0,350.0 C416.7,376.3 430.0,391.3 450.0,420.0 C470.0,448.7 499.7,493.3 520.0,522.0 C540.3,550.7 560.0,573.7 572.0,592.0 C584.0,610.3 580.7,626.3 592.0,632.0 C603.3,637.7 632.0,627.0 640.0,626.0"/>
<path class="k" d="M520.0,0.0 C513.3,3.3 500.0,10.0 480.0,20.0 C460.0,30.0 419.2,48.0 400.0,60.0 C380.8,72.0 371.7,80.3 365.0,92.0 C358.3,103.7 357.2,112.0 360.0,130.0 C362.8,148.0 370.3,171.7 382.0,200.0 C393.7,228.3 413.3,269.7 430.0,300.0 C446.7,330.3 460.3,348.7 482.0,382.0 C503.7,415.3 540.0,470.3 560.0,500.0 C580.0,529.7 588.3,546.7 602.0,560.0 C615.7,573.3 609.0,590.0 642.0,580.0 C675.0,570.0 773.7,513.3 800.0,500.0"/>
<circle class="h" cx="318.0" cy="130.0" r="14.0"/>
<circle class="h" cx="455.0" cy="378.0" r="14.0"/>
<circle class="h" cx="612.0" cy="605.0" r="14.0"/>
<path class="k" d="M370.0,402.0 C375.0,405.0 388.3,418.7 400.0,420.0 C411.7,421.3 428.3,406.7 440.0,410.0 C451.7,413.3 460.0,425.0 470.0,440.0 C480.0,455.0 495.0,490.0 500.0,500.0"/>
<circle class="k" cx="395.0" cy="555.0" r="44.0"/>
<circle class="m" cx="395.0" cy="558.0" r="30.0"/>
<circle class="m" cx="395.0" cy="560.0" r="15.0"/>
<path class="m" d="M345.0,545.0 C345.8,537.5 337.5,510.8 350.0,500.0 C362.5,489.2 395.0,480.0 420.0,480.0 C445.0,480.0 480.0,486.7 500.0,500.0 C520.0,513.3 533.3,539.2 540.0,560.0 C546.7,580.8 540.0,614.2 540.0,625.0"/>
<circle class="k" cx="685.0" cy="430.0" r="48.0"/>
<circle class="m" cx="685.0" cy="435.0" r="30.0"/>
<circle class="m" cx="685.0" cy="438.0" r="16.0"/>
<path class="m" d="M640.0,480.0 C643.3,486.7 646.7,513.3 660.0,520.0 C673.3,526.7 703.3,526.7 720.0,520.0 C736.7,513.3 753.3,486.7 760.0,480.0"/>
<path class="m" d="M600.0,420.0 C603.3,408.3 603.3,365.0 620.0,350.0 C636.7,335.0 673.3,325.0 700.0,330.0 C726.7,335.0 763.3,365.0 780.0,380.0 C796.7,395.0 796.7,413.3 800.0,420.0"/>
<path class="k" d="M440,110 L560,30 L640,0"/>
<path class="k" d="M520,100 L560,160 L660,90 L640,20"/>
<path class="m" d="M560,160 L540,110"/>
<path class="k" d="M440.0,110.0 C441.7,125.0 445.0,176.7 450.0,200.0 C455.0,223.3 458.3,239.7 470.0,250.0 C481.7,260.3 495.0,250.0 520.0,262.0 C545.0,274.0 590.0,300.3 620.0,322.0 C650.0,343.7 686.7,380.3 700.0,392.0"/>
<path class="m" d="M500.0,270.0 C510.0,280.0 540.0,308.3 560.0,330.0 C580.0,351.7 606.7,375.0 620.0,400.0 C633.3,425.0 636.7,466.7 640.0,480.0"/>
<path class="t" d="M520,300 L600,400"/>
<path class="t" d="M580,470 L620,500 L640,480"/>
<path class="m" d="M700.0,250.0 C706.7,245.0 723.3,223.3 740.0,220.0 C756.7,216.7 790.0,228.3 800.0,230.0"/>
<path class="m" d="M680.0,270.0 C686.7,275.0 700.0,296.7 720.0,300.0 C740.0,303.3 786.7,291.7 800.0,290.0"/>
<path class="k" d="M640.0,330.0 C650.0,325.0 680.0,313.3 700.0,300.0 C720.0,286.7 743.3,265.0 760.0,250.0 C776.7,235.0 793.3,216.7 800.0,210.0"/>
<path class="t" d="M720,340 L760,370 L800,360"/>
<ellipse class="k" cx="150.0" cy="242.0" rx="34.0" ry="45.0" transform="rotate(-20.0 150.0 242.0)"/>
<ellipse class="k" cx="152.0" cy="244.0" rx="22.0" ry="32.0" transform="rotate(-20.0 152.0 244.0)"/>
<ellipse class="b" cx="155.0" cy="248.0" rx="12.0" ry="22.0" transform="rotate(-20.0 155.0 248.0)"/>
<path class="m" d="M125,205 L240,122 L270,130"/>
<path class="m" d="M190,300 L300,232"/>
<path class="k" d="M210,310 L300,250 L330,322 L240,382 Z"/>
<path class="m" d="M240,382 L235,330"/>
<path class="m" d="M300,250 L290,200 L240,122"/>
<path class="t" d="M170,205 L185,225"/>
<circle class="h" cx="30.0" cy="245.0" r="18.0"/>
<circle class="t" cx="30.0" cy="245.0" r="9.0"/>
<path class="m" d="M0.0,300.0 C6.7,305.0 23.3,325.0 40.0,330.0 C56.7,335.0 85.0,335.0 100.0,330.0 C115.0,325.0 125.0,305.0 130.0,300.0"/>
<path class="m" d="M0.0,210.0 C6.7,208.3 26.7,199.2 40.0,200.0 C53.3,200.8 73.3,212.5 80.0,215.0"/>
<path class="t" d="M60,290 L180,350 L220,400"/>
<path class="t" d="M0,350 L100,400"/>
<path class="m" d="M130,400 L160,380 L200,400 L190,440"/>
<circle class="m" cx="205.0" cy="432.0" r="16.0"/>
<path class="m" d="M0.0,100.0 C10.0,96.7 36.7,81.7 60.0,80.0 C83.3,78.3 116.7,81.7 140.0,90.0 C163.3,98.3 190.0,123.3 200.0,130.0"/>
<path class="m" d="M0.0,60.0 C13.3,56.7 53.3,40.8 80.0,40.0 C106.7,39.2 131.7,43.3 160.0,55.0 C188.3,66.7 235.0,100.8 250.0,110.0"/>
<path class="t" d="M40.0,130.0 C50.0,128.3 81.7,116.7 100.0,120.0 C118.3,123.3 141.7,145.0 150.0,150.0"/>
<path class="m" d="M180,0 L200,60 L260,100"/>
<path class="m" d="M100,0 L110,50"/>
<path class="t" d="M0,160 L60,150 L100,170"/>
<path class="t" d="M300,0 L280,50"/>
</g>
<!-- u_Bm.svg -->
<g transform="translate(310,60) scale(0.12500)">
<path class="k" d="M300.0,250.0 C305.0,247.5 316.7,246.7 330.0,235.0 C343.3,223.3 361.7,197.5 380.0,180.0 C398.3,162.5 423.3,140.3 440.0,130.0 C456.7,119.7 463.3,117.2 480.0,118.0 C496.7,118.8 513.3,123.8 540.0,135.0 C566.7,146.2 613.3,171.7 640.0,185.0 C666.7,198.3 683.3,202.5 700.0,215.0 C716.7,227.5 729.2,245.8 740.0,260.0 C750.8,274.2 755.0,292.5 765.0,300.0 C775.0,307.5 794.2,304.2 800.0,305.0"/>
<path class="k" d="M300.0,250.0 C298.7,256.7 291.2,275.0 292.0,290.0 C292.8,305.0 300.3,321.7 305.0,340.0 C309.7,358.3 320.5,385.0 320.0,400.0 C319.5,415.0 303.7,418.3 302.0,430.0 C300.3,441.7 304.5,461.7 310.0,470.0 C315.5,478.3 330.0,473.3 335.0,480.0 C340.0,486.7 341.7,501.7 340.0,510.0 C338.3,518.3 336.7,521.7 325.0,530.0 C313.3,538.3 279.2,555.0 270.0,560.0"/>
<path class="k" d="M312.0,262.0 C316.7,275.0 327.0,317.0 340.0,340.0 C353.0,363.0 374.7,386.7 390.0,400.0 C405.3,413.3 425.0,416.7 432.0,420.0"/>
<path class="m" d="M330.0,250.0 C336.7,258.3 355.0,283.3 370.0,300.0 C385.0,316.7 403.3,338.0 420.0,350.0 C436.7,362.0 461.7,368.3 470.0,372.0"/>
<path class="g" d="M320.0,300.0 C325.0,310.0 338.3,344.2 350.0,360.0 C361.7,375.8 383.3,389.2 390.0,395.0"/>
<path class="g" d="M330.0,280.0 C335.8,290.8 352.5,327.5 365.0,345.0 C377.5,362.5 398.3,378.3 405.0,385.0"/>
<path class="g" d="M345.0,290.0 C351.7,300.0 372.5,336.3 385.0,350.0 C397.5,363.7 414.2,368.3 420.0,372.0"/>
<path class="k" d="M430,160 L470,145 L600,200 L622,232 L585,236 L440,182 Z"/>
<path class="k" d="M445,164 L470,154 L596,208 L606,226 L586,228 L448,174 Z"/>
<path class="k" d="M455,166 L590,218"/>
<path class="m" d="M330,240 L400,262 L520,322 L600,352 L642,330"/>
<path class="m" d="M385,188 L640,300"/>
<path class="t" d="M420,200 L620,290"/>
<path class="t" d="M440,240 L600,315"/>
<path class="t" d="M470,290 L560,330"/>
<path class="m" d="M600.0,352.0 C593.3,358.3 576.7,382.0 560.0,390.0 C543.3,398.0 515.0,403.0 500.0,400.0 C485.0,397.0 475.0,376.7 470.0,372.0"/>
<path class="m" d="M642,330 L660,250 L640,185"/>
<path class="m" d="M700,215 L700,300 L660,330"/>
<path class="m" d="M740,260 L740,330 L700,380"/>
<path class="k" d="M270.0,560.0 C263.0,566.7 238.0,586.7 228.0,600.0 C218.0,613.3 218.0,626.7 210.0,640.0 C202.0,653.3 191.7,670.0 180.0,680.0 C168.3,690.0 156.7,694.2 140.0,700.0 C123.3,705.8 96.7,708.3 80.0,715.0 C63.3,721.7 53.3,738.8 40.0,740.0 C26.7,741.2 6.7,725.0 0.0,722.0"/>
<path class="k" d="M262.0,640.0 C275.0,627.5 308.7,584.7 340.0,565.0 C371.3,545.3 413.3,531.2 450.0,522.0 C486.7,512.8 521.7,508.7 560.0,510.0 C598.3,511.3 640.0,519.7 680.0,530.0 C720.0,540.3 780.0,565.0 800.0,572.0"/>
<path class="k" d="M290.0,720.0 C308.3,706.7 361.7,659.7 400.0,640.0 C438.3,620.3 480.0,608.3 520.0,602.0 C560.0,595.7 600.0,598.2 640.0,602.0 C680.0,605.8 733.3,618.7 760.0,625.0 C786.7,631.3 793.3,637.5 800.0,640.0"/>
<path class="m" d="M300.0,800.0 C313.3,786.7 346.7,740.0 380.0,720.0 C413.3,700.0 460.0,688.0 500.0,680.0 C540.0,672.0 580.0,670.3 620.0,672.0 C660.0,673.7 710.0,684.5 740.0,690.0 C770.0,695.5 790.0,702.5 800.0,705.0"/>
<ellipse class="k" cx="560.0" cy="450.0" rx="30.0" ry="22.0" transform="rotate(-8.0 560.0 450.0)"/>
<ellipse class="m" cx="560.0" cy="452.0" rx="18.0" ry="12.0" transform="rotate(-8.0 560.0 452.0)"/>
<circle class="h" cx="625.0" cy="482.0" r="12.0"/>
<circle class="h" cx="395.0" cy="495.0" r="14.0"/>
<circle class="m" cx="500.0" cy="600.0" r="0.1"/>
<path class="k" d="M600.0,352.0 C606.7,360.3 623.3,397.3 640.0,402.0 C656.7,406.7 680.0,390.3 700.0,380.0 C720.0,369.7 743.3,348.3 760.0,340.0 C776.7,331.7 793.3,331.7 800.0,330.0"/>
<path class="m" d="M640.0,402.0 C643.3,408.3 650.0,428.7 660.0,440.0 C670.0,451.3 676.7,450.0 700.0,470.0 C723.3,490.0 783.3,545.0 800.0,560.0"/>
<path class="m" d="M700.0,380.0 C703.3,386.7 710.0,410.0 720.0,420.0 C730.0,430.0 746.7,438.3 760.0,440.0 C773.3,441.7 793.3,431.7 800.0,430.0"/>
<path class="m" d="M720,380 L780,370 L790,400 L730,420 Z"/>
<path class="t" d="M740,390 L760,430"/>
<path class="k" d="M690.0,470.0 C695.0,478.3 708.3,498.3 720.0,520.0 C731.7,541.7 746.7,573.3 760.0,600.0 C773.3,626.7 793.3,666.7 800.0,680.0"/>
<path class="t" d="M700.0,720.0 C703.3,708.3 728.3,700.0 740.0,700.0 C751.7,700.0 766.7,710.0 770.0,720.0 C773.3,730.0 768.3,751.7 760.0,760.0 C751.7,768.3 730.0,776.7 720.0,770.0 C710.0,763.3 696.7,731.7 700.0,720.0 Z"/>
</g>
<!-- u_C0.svg -->
<g transform="translate(420,140) scale(0.12500)">
<path class="k" d="M330.0,0.0 C337.0,5.0 357.0,19.7 372.0,30.0 C387.0,40.3 406.7,50.3 420.0,62.0 C433.3,73.7 441.7,85.3 452.0,100.0 C462.3,114.7 470.7,134.7 482.0,150.0 C493.3,165.3 510.3,177.0 520.0,192.0 C529.7,207.0 533.3,223.7 540.0,240.0 C546.7,256.3 553.0,278.0 560.0,290.0 C567.0,302.0 575.3,302.0 582.0,312.0 C588.7,322.0 593.3,335.3 600.0,350.0 C606.7,364.7 613.7,385.0 622.0,400.0 C630.3,415.0 637.0,431.3 650.0,440.0 C663.0,448.7 685.7,443.7 700.0,452.0 C714.3,460.3 732.3,478.3 736.0,490.0 C739.7,501.7 729.7,512.8 722.0,522.0 C714.3,531.2 691.7,535.3 690.0,545.0 C688.3,554.7 710.0,567.2 712.0,580.0 C714.0,592.8 708.7,610.0 702.0,622.0 C695.3,634.0 682.3,636.3 672.0,652.0 C661.7,667.7 658.7,694.7 640.0,716.0 C621.3,737.3 586.7,759.7 560.0,780.0 C533.3,800.3 493.3,828.3 480.0,838.0"/>
<path class="m" d="M650,440 L640,470 L660,500 L690,545"/>
<path class="t" d="M680,470 L700,500"/>
<path class="t" d="M695,462 L716,492"/>
<path class="k" d="M-80.0,372.0 C-66.7,365.3 -23.3,344.0 0.0,332.0 C23.3,320.0 44.2,308.3 60.0,300.0 C75.8,291.7 81.7,286.7 95.0,282.0 C108.3,277.3 114.2,287.3 140.0,272.0 C165.8,256.7 218.3,213.7 250.0,190.0 C281.7,166.3 314.2,145.0 330.0,130.0 C345.8,115.0 334.2,106.3 345.0,100.0 C355.8,93.7 381.7,88.7 395.0,92.0 C408.3,95.3 417.5,108.7 425.0,120.0 C432.5,131.3 437.5,153.3 440.0,160.0"/>
<path class="k" d="M-80.0,422.0 C-66.7,416.0 -33.3,401.0 0.0,386.0 C33.3,371.0 78.3,354.7 120.0,332.0 C161.7,309.3 216.7,276.7 250.0,250.0 C283.3,223.3 304.2,188.7 320.0,172.0 C335.8,155.3 335.0,152.0 345.0,150.0 C355.0,148.0 370.8,151.7 380.0,160.0 C389.2,168.3 396.7,193.3 400.0,200.0"/>
<circle class="h" cx="380.0" cy="125.0" r="16.0"/>
<circle class="t" cx="380.0" cy="125.0" r="8.0"/>
<circle class="h" cx="105.0" cy="320.0" r="16.0"/>
<circle class="t" cx="105.0" cy="320.0" r="8.0"/>
<ellipse class="k" cx="270.0" cy="225.0" rx="26.0" ry="22.0" transform="rotate(0.0 270.0 225.0)"/>
<circle class="m" cx="270.0" cy="225.0" r="12.0"/>
<circle class="h" cx="525.0" cy="360.0" r="15.0"/>
<circle class="t" cx="525.0" cy="360.0" r="7.0"/>
<circle class="h" cx="675.0" cy="600.0" r="16.0"/>
<circle class="t" cx="675.0" cy="600.0" r="7.0"/>
<path class="k" d="M400.0,200.0 C406.7,213.3 425.0,256.7 440.0,280.0 C455.0,303.3 475.0,318.3 490.0,340.0 C505.0,361.7 511.7,386.7 530.0,410.0 C548.3,433.3 581.7,458.3 600.0,480.0 C618.3,501.7 632.5,516.7 640.0,540.0 C647.5,563.3 648.0,596.3 645.0,620.0 C642.0,643.7 642.8,661.7 622.0,682.0 C601.2,702.3 552.0,722.3 520.0,742.0 C488.0,761.7 445.0,790.3 430.0,800.0"/>
<path class="m" d="M440.0,160.0 C445.0,170.0 460.0,196.7 470.0,220.0 C480.0,243.3 485.0,273.3 500.0,300.0 C515.0,326.7 541.7,355.0 560.0,380.0 C578.3,405.0 593.3,423.3 610.0,450.0 C626.7,476.7 651.7,525.0 660.0,540.0"/>
<path class="t" d="M450.0,130.0 C456.7,141.7 476.7,176.7 490.0,200.0 C503.3,223.3 515.8,248.3 530.0,270.0 C544.2,291.7 567.5,320.0 575.0,330.0"/>
<path class="t" d="M470,190 L500,175"/>
<path class="t" d="M485,215 L515,200"/>
<path class="t" d="M500,245 L530,228"/>
<path class="t" d="M560,330 L590,318"/>
<path class="t" d="M585,385 L615,372"/>
<path class="t" d="M605,425 L636,410"/>
<path class="k" d="M0.0,40.0 C6.7,45.0 23.3,66.7 40.0,70.0 C56.7,73.3 81.7,58.3 100.0,60.0 C118.3,61.7 131.7,78.3 150.0,80.0 C168.3,81.7 191.7,76.7 210.0,70.0 C228.3,63.3 245.0,51.7 260.0,40.0 C275.0,28.3 293.3,6.7 300.0,0.0"/>
<path class="k" d="M60.0,100.0 C62.5,90.8 78.3,85.8 90.0,85.0 C101.7,84.2 121.7,88.3 130.0,95.0 C138.3,101.7 143.3,115.8 140.0,125.0 C136.7,134.2 120.8,147.5 110.0,150.0 C99.2,152.5 83.3,148.3 75.0,140.0 C66.7,131.7 57.5,109.2 60.0,100.0 Z"/>
<circle class="m" cx="178.0" cy="138.0" r="11.0"/>
<circle class="m" cx="75.0" cy="165.0" r="11.0"/>
<path class="m" d="M0.0,250.0 C10.0,246.7 43.3,238.3 60.0,230.0 C76.7,221.7 93.3,211.7 100.0,200.0 C106.7,188.3 100.0,166.7 100.0,160.0"/>
<path class="m" d="M150.0,30.0 C155.0,33.3 166.7,48.3 180.0,50.0 C193.3,51.7 218.3,48.3 230.0,40.0 C241.7,31.7 246.7,6.7 250.0,0.0"/>
<path class="k" d="M240.0,120.0 C250.0,115.8 285.0,93.3 300.0,95.0 C315.0,96.7 325.0,124.2 330.0,130.0"/>
<path class="t" d="M0,290 L80,250 L200,170"/>
<path class="k" d="M262.0,352.0 C263.7,341.2 270.3,328.3 280.0,320.0 C289.7,311.7 309.2,303.3 320.0,302.0 C330.8,300.7 341.7,304.0 345.0,312.0 C348.3,320.0 343.8,337.8 340.0,350.0 C336.2,362.2 328.7,373.3 322.0,385.0 C315.3,396.7 307.0,410.8 300.0,420.0 C293.0,429.2 286.3,440.0 280.0,440.0 C273.7,440.0 263.7,429.2 262.0,420.0 C260.3,410.8 270.0,396.3 270.0,385.0 C270.0,373.7 260.3,362.8 262.0,352.0 Z"/>
<path class="k" d="M282.0,345.0 C286.7,341.7 302.3,326.7 310.0,325.0 C317.7,323.3 327.2,327.5 328.0,335.0 C328.8,342.5 321.0,359.2 315.0,370.0 C309.0,380.8 295.8,395.0 292.0,400.0"/>
<path class="m" d="M300.0,330.0 L322.0,320.0"/>
<path class="k" d="M130.0,400.0 C145.0,410.0 191.7,434.7 220.0,460.0 C248.3,485.3 275.8,520.3 300.0,552.0 C324.2,583.7 349.2,618.7 365.0,650.0 C380.8,681.3 390.0,725.0 395.0,740.0"/>
<path class="m" d="M110.0,440.0 C125.0,450.0 172.5,475.0 200.0,500.0 C227.5,525.0 252.5,558.3 275.0,590.0 C297.5,621.7 320.8,660.0 335.0,690.0 C349.2,720.0 355.8,756.7 360.0,770.0"/>
<path class="t" d="M90.0,480.0 C104.2,490.0 148.3,515.0 175.0,540.0 C201.7,565.0 228.3,598.3 250.0,630.0 C271.7,661.7 293.3,701.7 305.0,730.0 C316.7,758.3 317.5,788.3 320.0,800.0"/>
<path class="t" d="M60.0,520.0 C73.3,530.0 115.0,555.0 140.0,580.0 C165.0,605.0 190.0,638.3 210.0,670.0 C230.0,701.7 251.7,753.3 260.0,770.0"/>
<path class="m" d="M170.0,380.0 C185.0,388.3 231.7,406.7 260.0,430.0 C288.3,453.3 316.7,490.0 340.0,520.0 C363.3,550.0 385.0,583.3 400.0,610.0 C415.0,636.7 425.0,668.3 430.0,680.0"/>
<path class="m" d="M380.0,290.0 C395.0,303.3 441.7,340.0 470.0,370.0 C498.3,400.0 530.3,438.3 550.0,470.0 C569.7,501.7 583.0,531.7 588.0,560.0 C593.0,588.3 588.0,618.3 580.0,640.0 C572.0,661.7 558.3,680.0 540.0,690.0 C521.7,700.0 488.3,701.7 470.0,700.0 C451.7,698.3 436.7,683.3 430.0,680.0"/>
<path class="t" d="M400.0,270.0 C416.7,285.0 470.0,326.7 500.0,360.0 C530.0,393.3 561.3,436.7 580.0,470.0 C598.7,503.3 608.7,530.0 612.0,560.0 C615.3,590.0 610.3,625.0 600.0,650.0 C589.7,675.0 558.3,700.0 550.0,710.0"/>
<path class="t" d="M350.0,320.0 C365.0,333.3 411.7,370.0 440.0,400.0 C468.3,430.0 500.8,470.0 520.0,500.0 C539.2,530.0 550.8,556.7 555.0,580.0 C559.2,603.3 554.2,625.0 545.0,640.0 C535.8,655.0 507.5,665.0 500.0,670.0"/>
<path class="t" d="M320.0,360.0 C333.3,373.3 375.0,410.0 400.0,440.0 C425.0,470.0 453.3,511.7 470.0,540.0 C486.7,568.3 495.0,598.3 500.0,610.0"/>
<path class="k" d="M395.0,740.0 C390.0,726.7 385.8,705.0 390.0,690.0 C394.2,675.0 406.7,658.3 420.0,650.0 C433.3,641.7 456.7,636.7 470.0,640.0 C483.3,643.3 495.8,656.7 500.0,670.0 C504.2,683.3 501.7,705.0 495.0,720.0 C488.3,735.0 472.5,751.7 460.0,760.0 C447.5,768.3 430.8,773.3 420.0,770.0 C409.2,766.7 400.0,753.3 395.0,740.0 Z"/>
<circle class="k" cx="448.0" cy="668.0" r="20.0"/>
<circle class="m" cx="448.0" cy="668.0" r="10.0"/>
<path class="m" d="M380.0,600.0 C386.7,603.3 405.0,613.3 420.0,620.0 C435.0,626.7 461.7,636.7 470.0,640.0"/>
<path class="m" d="M330.0,560.0 L380.0,600.0"/>
<path class="m" d="M0.0,520.0 C6.7,526.7 25.0,540.0 40.0,560.0 C55.0,580.0 75.0,613.3 90.0,640.0 C105.0,666.7 123.3,706.7 130.0,720.0"/>
<path class="m" d="M0.0,600.0 C8.3,610.0 33.3,636.7 50.0,660.0 C66.7,683.3 88.3,716.7 100.0,740.0 C111.7,763.3 116.7,790.0 120.0,800.0"/>
<circle class="h" cx="205.0" cy="700.0" r="18.0"/>
<circle class="t" cx="205.0" cy="700.0" r="9.0"/>
<path class="m" d="M150.0,660.0 C155.0,645.0 166.7,641.7 180.0,640.0 C193.3,638.3 216.7,641.7 230.0,650.0 C243.3,658.3 258.3,675.0 260.0,690.0 C261.7,705.0 251.7,728.3 240.0,740.0 C228.3,751.7 205.0,761.7 190.0,760.0 C175.0,758.3 156.7,746.7 150.0,730.0 C143.3,713.3 145.0,675.0 150.0,660.0 Z"/>
<path class="t" d="M100,700 L160,680"/>
<path class="t" d="M240,740 L300,800"/>
<path class="t" d="M130,760 L190,800"/>
<path class="m" d="M0,700 L60,760 L80,800"/>
<path class="t" d="M160,400 L180,380 L200,395"/>
<path class="t" d="M170,360 L230,340"/>
</g>
<!-- u_C1.svg -->
<g transform="translate(390,220) scale(0.12500)">
<path class="k" d="M0,718 L400,430 L800,140"/>
<path class="k" d="M0.0,672.0 C10.0,662.0 30.0,637.0 60.0,612.0 C90.0,587.0 158.3,545.7 180.0,522.0 C201.7,498.3 180.8,480.0 190.0,470.0 C199.2,460.0 225.0,462.0 235.0,462.0 C245.0,462.0 225.8,484.3 250.0,470.0 C274.2,455.7 357.0,400.7 380.0,376.0 C403.0,351.3 379.3,332.3 388.0,322.0 C396.7,311.7 420.0,314.0 432.0,314.0 C444.0,314.0 432.0,338.3 460.0,322.0 C488.0,305.7 575.7,242.3 600.0,216.0 C624.3,189.7 597.7,174.3 606.0,164.0 C614.3,153.7 637.7,156.0 650.0,154.0 C662.3,152.0 655.0,166.0 680.0,152.0 C705.0,138.0 780.0,83.7 800.0,70.0"/>
<circle class="h" cx="20.0" cy="630.0" r="14.0"/>
<circle class="h" cx="215.0" cy="488.0" r="15.0"/>
<circle class="h" cx="412.0" cy="340.0" r="15.0"/>
<circle class="h" cx="632.0" cy="180.0" r="15.0"/>
<path class="k" d="M200,165 L330,250 L350,300 L388,322"/>
<path class="k" d="M0,300 L120,380 L140,440 L190,470"/>
<path class="k" d="M590,110 L606,164"/>
<path class="m" d="M140,380 L350,240"/>
<path class="m" d="M140,380 L260,470"/>
<path class="m" d="M350,240 L330,250"/>
<path class="m" d="M470,300 L600,216"/>
<path class="m" d="M470,300 L360,240"/>
<path class="m" d="M350.0,390.0 C341.7,380.0 298.3,355.0 300.0,330.0 C301.7,305.0 350.0,255.0 360.0,240.0"/>
<path class="m" d="M330,130 L590,110"/>
<path class="m" d="M460,140 L600,210"/>
<path class="m" d="M130,440 L60,560 L0,600"/>
<path class="m" d="M80,600 L180,522"/>
<path class="t" d="M160,400 L270,455"/>
<path class="t" d="M380,250 L470,290"/>
<path class="t" d="M490,150 L590,200"/>
<circle class="k" cx="270.0" cy="240.0" r="20.0"/>
<circle class="m" cx="270.0" cy="240.0" r="10.0"/>
<path class="m" d="M230.0,200.0 C233.3,211.7 238.3,255.0 250.0,270.0 C261.7,285.0 286.7,293.3 300.0,290.0 C313.3,286.7 325.0,256.7 330.0,250.0"/>
<path class="m" d="M150.0,200.0 C158.3,210.0 183.3,243.3 200.0,260.0 C216.7,276.7 241.7,293.3 250.0,300.0"/>
<path class="m" d="M150,200 L210,160"/>
<path class="m" d="M130,200 L170,260 L240,300"/>
<circle class="k" cx="70.0" cy="385.0" r="20.0"/>
<circle class="m" cx="70.0" cy="385.0" r="10.0"/>
<path class="m" d="M20.0,360.0 C23.3,371.7 26.7,416.7 40.0,430.0 C53.3,443.3 86.7,446.7 100.0,440.0 C113.3,433.3 116.7,398.3 120.0,390.0"/>
<path class="k" d="M0.0,420.0 C6.7,425.0 30.0,436.7 40.0,450.0 C50.0,463.3 61.7,485.0 60.0,500.0 C58.3,515.0 40.0,531.7 30.0,540.0 C20.0,548.3 5.0,548.3 0.0,550.0"/>
<path class="m" d="M0.0,480.0 C5.0,483.3 26.7,493.3 30.0,500.0 C33.3,506.7 21.7,516.7 20.0,520.0"/>
<circle class="k" cx="450.0" cy="65.0" r="20.0"/>
<circle class="m" cx="450.0" cy="65.0" r="10.0"/>
<path class="m" d="M360.0,60.0 C366.7,70.0 383.3,106.7 400.0,120.0 C416.7,133.3 440.0,143.3 460.0,140.0 C480.0,136.7 510.0,106.7 520.0,100.0"/>
<path class="m" d="M420,90 L440,150"/>
<path class="m" d="M480,90 L460,150"/>
<circle class="h" cx="690.0" cy="30.0" r="18.0"/>
<path class="m" d="M630.0,20.0 C635.0,30.0 643.3,68.3 660.0,80.0 C676.7,91.7 711.7,96.7 730.0,90.0 C748.3,83.3 763.3,48.3 770.0,40.0"/>
<path class="m" d="M600.0,0.0 C606.7,16.7 616.7,81.7 640.0,100.0 C663.3,118.3 713.3,116.7 740.0,110.0 C766.7,103.3 790.0,68.3 800.0,60.0"/>
<path class="k" d="M290,180 L370,140 L385,165 L305,205 Z"/>
<path class="m" d="M300,170 L380,150"/>
<path class="k" d="M90,330 L170,290 L185,315 L105,355 Z"/>
<path class="t" d="M100,340 L180,305"/>
<path class="k" d="M0.0,50.0 C10.0,53.3 41.7,68.3 60.0,70.0 C78.3,71.7 95.0,65.0 110.0,60.0 C125.0,55.0 143.3,43.3 150.0,40.0"/>
<circle class="k" cx="150.0" cy="80.0" r="26.0"/>
<circle class="m" cx="150.0" cy="80.0" r="14.0"/>
<path class="m" d="M100,110 L60,130 L0,120"/>
<path class="m" d="M200,0 L250,150"/>
</g>
<!-- u_Cm.svg -->
<g transform="translate(410,60) scale(0.12500)">
<path class="k" d="M-10.0,318.0 C-3.3,317.5 19.7,311.3 30.0,315.0 C40.3,318.7 49.5,329.2 52.0,340.0 C54.5,350.8 43.7,370.8 45.0,380.0 C46.3,389.2 46.2,398.7 60.0,395.0 C73.8,391.3 116.7,364.2 128.0,358.0"/>
<circle class="h" cx="10.0" cy="340.0" r="12.0"/>
<path class="k" d="M128,358 L365,525 L385,548 L392,600 L412,645 L445,672 L500,692 L530,740 L558,800"/>
<path class="k" d="M20,400 L30,432 L240,572 L300,562 L352,540"/>
<path class="k" d="M20,400 L60,395"/>
<path class="m" d="M240,572 L240,640 L282,690 L330,660 L302,600 L300,562"/>
<path class="m" d="M60,420 L250,552"/>
<path class="t" d="M90,410 L300,548"/>
<path class="m" d="M330.0,660.0 C325.0,666.7 313.3,691.7 300.0,700.0 C286.7,708.3 266.7,711.7 250.0,710.0 C233.3,708.3 216.7,695.0 200.0,690.0 C183.3,685.0 158.3,681.7 150.0,680.0"/>
<circle class="h" cx="340.0" cy="568.0" r="10.0"/>
<circle class="h" cx="362.0" cy="630.0" r="10.0"/>
<path class="t" d="M250,600 L270,660"/>
<path class="t" d="M270,590 L290,650"/>
<path class="k" d="M-80.0,500.0 C-66.7,506.7 -23.3,523.3 0.0,540.0 C23.3,556.7 40.0,576.7 60.0,600.0 C80.0,623.3 103.3,656.7 120.0,680.0 C136.7,703.3 151.7,720.0 160.0,740.0 C168.3,760.0 168.3,790.0 170.0,800.0"/>
<path class="m" d="M-80.0,560.0 C-66.7,566.7 -21.7,583.3 0.0,600.0 C21.7,616.7 35.0,636.7 50.0,660.0 C65.0,683.3 81.7,716.7 90.0,740.0 C98.3,763.3 98.3,790.0 100.0,800.0"/>
<path class="t" d="M-60.0,640.0 C-50.0,646.7 -16.7,660.0 0.0,680.0 C16.7,700.0 31.7,740.0 40.0,760.0 C48.3,780.0 48.3,793.3 50.0,800.0"/>
<path class="m" d="M0.0,470.0 C10.0,478.3 38.3,498.3 60.0,520.0 C81.7,541.7 115.0,580.0 130.0,600.0 C145.0,620.0 146.7,633.3 150.0,640.0"/>
<ellipse class="k" cx="185.0" cy="752.0" rx="22.0" ry="18.0" transform="rotate(0.0 185.0 752.0)"/>
<circle class="h" cx="265.0" cy="772.0" r="10.0"/>
<circle class="h" cx="460.0" cy="765.0" r="14.0"/>
<circle class="h" cx="382.0" cy="732.0" r="14.0"/>
<path class="m" d="M330.0,760.0 C333.3,753.3 338.3,730.0 350.0,720.0 C361.7,710.0 385.0,700.0 400.0,700.0 C415.0,700.0 433.3,716.7 440.0,720.0"/>
<path class="m" d="M300.0,790.0 L330.0,740.0"/>
<path class="t" d="M400,690 L470,680"/>
<path class="t" d="M430,720 L500,700"/>
<path class="t" d="M500,760 L540,750"/>
</g>
<!-- u_P.svg -->
<g transform="translate(330,180) scale(0.20000)">
<path class="f" d="M0,296 L390,58 L414,26 L462,150 L470,200 L520,262 L640,232 L800,205 L800,290 L215,650 L175,662 L80,590 L40,450 L18,368 Z"/>
<path class="k" d="M0.0,325.0 C26.0,311.5 121.7,263.8 156.0,244.0 C190.3,224.2 182.0,225.0 206.0,206.0 C230.0,187.0 269.8,158.2 300.0,130.0 C330.2,101.8 372.5,52.5 387.0,37.0"/>
<path class="k" d="M25.0,369.0 C52.0,353.3 156.8,297.0 187.0,275.0 C217.2,253.0 197.7,247.5 206.0,237.0 C214.3,226.5 231.8,216.2 237.0,212.0"/>
<path class="k" d="M0,300 L130,235 L230,175 L390,65"/>
<circle class="h" cx="165.0" cy="245.0" r="8.0"/>
<circle class="h" cx="100.0" cy="285.0" r="8.0"/>
<circle class="h" cx="318.0" cy="130.0" r="8.0"/>
<circle class="h" cx="255.0" cy="160.0" r="8.0"/>
<path class="k" d="M237.0,194.0 C242.3,202.3 259.5,233.7 269.0,244.0 C278.5,254.3 283.7,255.0 294.0,256.0 C304.3,257.0 307.2,262.5 331.0,250.0 C354.8,237.5 416.2,196.7 437.0,181.0 C457.8,165.3 453.8,165.3 456.0,156.0 C458.2,146.7 455.2,137.5 450.0,125.0 C444.8,112.5 431.3,95.7 425.0,81.0 C418.7,66.3 414.2,44.3 412.0,37.0"/>
<path class="k" d="M256.0,187.0 C259.2,196.3 269.5,223.7 281.0,231.0 C292.5,238.3 302.0,241.3 325.0,231.0 C348.0,220.7 401.3,183.5 419.0,169.0 C436.7,154.5 433.2,156.5 431.0,144.0 C428.8,131.5 416.3,103.5 406.0,94.0 C395.7,84.5 378.3,85.0 369.0,87.0 C359.7,89.0 355.3,96.5 350.0,106.0 C344.7,115.5 343.3,136.7 337.0,144.0 C330.7,151.3 319.2,148.0 312.0,150.0 C304.8,152.0 302.3,151.8 294.0,156.0 C285.7,160.2 268.3,169.8 262.0,175.0 C255.7,180.2 252.8,177.7 256.0,187.0 Z"/>
<path class="m" d="M300.0,175.0 C305.0,173.3 322.5,164.2 330.0,165.0 C337.5,165.8 345.0,174.2 345.0,180.0 C345.0,185.8 336.7,195.8 330.0,200.0 C323.3,204.2 309.2,204.2 305.0,205.0"/>
<circle class="k" cx="400.0" cy="250.0" r="15.0"/>
<circle class="m" cx="402.0" cy="252.0" r="8.0"/>
<path class="m" d="M375,240 L395,232"/>
<path class="m" d="M250.0,250.0 C253.3,255.8 258.3,278.3 270.0,285.0 C281.7,291.7 306.7,292.5 320.0,290.0 C333.3,287.5 345.0,273.3 350.0,270.0"/>
<path class="k" d="M20.0,370.0 C23.3,383.3 30.8,423.3 40.0,450.0 C49.2,476.7 60.0,503.3 75.0,530.0 C90.0,556.7 113.3,587.5 130.0,610.0 C146.7,632.5 167.5,655.8 175.0,665.0"/>
<path class="k" d="M0.0,400.0 C5.0,416.7 16.7,468.3 30.0,500.0 C43.3,531.7 60.0,560.0 80.0,590.0 C100.0,620.0 132.5,660.8 150.0,680.0 C167.5,699.2 179.2,700.8 185.0,705.0"/>
<path class="m" d="M50.0,385.0 C55.0,398.3 68.3,439.2 80.0,465.0 C91.7,490.8 113.3,527.5 120.0,540.0"/>
<circle class="h" cx="85.0" cy="535.0" r="8.0"/>
<path class="k" d="M75,369 L181,300 L212,325 L206,356 L137,400 L94,387 Z"/>
<path class="m" d="M181,300 L185,340 L137,400"/>
<path class="m" d="M94,387 L100,350 L181,312"/>
<path class="t" d="M110,355 L180,318"/>
<path class="m" d="M75,369 L70,420 L80,470"/>
<path class="k" d="M150.0,680.0 C153.3,683.3 161.7,696.3 170.0,700.0 C178.3,703.7 185.8,705.0 200.0,702.0 C214.2,699.0 238.3,690.7 255.0,682.0 C271.7,673.3 292.5,655.3 300.0,650.0"/>
<path class="k" d="M215.0,650.0 C227.5,642.5 276.5,616.7 290.0,605.0 C303.5,593.3 290.7,585.2 296.0,580.0 C301.3,574.8 315.5,573.2 322.0,574.0 C328.5,574.8 320.3,590.7 335.0,585.0 C349.7,579.3 396.5,555.8 410.0,540.0 C423.5,524.2 410.7,499.3 416.0,490.0 C421.3,480.7 435.5,480.7 442.0,484.0 C448.5,487.3 439.5,514.8 455.0,510.0 C470.5,505.2 520.8,474.0 535.0,455.0 C549.2,436.0 534.5,406.5 540.0,396.0 C545.5,385.5 561.3,387.2 568.0,392.0 C574.7,396.8 564.7,428.7 580.0,425.0 C595.3,421.3 645.3,390.5 660.0,370.0 C674.7,349.5 662.0,314.0 668.0,302.0 C674.0,290.0 689.0,292.5 696.0,298.0 C703.0,303.5 692.7,338.0 710.0,335.0 C727.3,332.0 785.0,289.2 800.0,280.0"/>
<circle class="h" cx="185.0" cy="680.0" r="9.0"/>
<circle class="h" cx="310.0" cy="592.0" r="9.0"/>
<circle class="h" cx="430.0" cy="500.0" r="9.0"/>
<circle class="h" cx="555.0" cy="407.0" r="9.0"/>
<circle class="h" cx="685.0" cy="312.0" r="9.0"/>
<path class="k" d="M335,585 L270,535 L248,542"/>
<path class="k" d="M455,500 L390,450 L300,390 L272,400"/>
<path class="k" d="M580,415 L520,365 L400,305"/>
<path class="k" d="M710,320 L650,265 L632,232"/>
<path class="m" d="M270,535 L390,450"/>
<path class="m" d="M400,440 L520,365"/>
<path class="m" d="M530,350 L650,265"/>
<path class="m" d="M285,548 L400,470"/>
<path class="m" d="M410,455 L530,378"/>
<path class="m" d="M540,365 L660,285"/>
<path class="t" d="M345,570 L290,530"/>
<path class="t" d="M465,488 L405,445"/>
<path class="t" d="M590,400 L535,360"/>
<path class="m" d="M300,390 L400,305"/>
<path class="m" d="M250,470 L300,390"/>
<circle class="k" cx="225.0" cy="575.0" r="28.0"/>
<circle class="m" cx="225.0" cy="572.0" r="15.0"/>
<circle class="k" cx="300.0" cy="465.0" r="32.0"/>
<circle class="k" cx="300.0" cy="460.0" r="20.0"/>
<path class="m" d="M262.0,480.0 C260.0,485.0 248.7,500.8 250.0,510.0 C251.3,519.2 266.7,530.8 270.0,535.0"/>
<path class="m" d="M335.0,470.0 C337.5,475.0 350.0,490.0 350.0,500.0 C350.0,510.0 337.5,525.0 335.0,530.0"/>
<circle class="h" cx="350.0" cy="437.0" r="11.0"/>
<path class="m" d="M215.0,455.0 C219.2,450.8 227.5,435.0 240.0,430.0 C252.5,425.0 273.3,427.5 290.0,425.0 C306.7,422.5 326.7,412.5 340.0,415.0 C353.3,417.5 365.0,435.8 370.0,440.0"/>
<circle class="k" cx="470.0" cy="347.0" r="13.0"/>
<path class="m" d="M430.0,330.0 C431.7,337.5 430.0,365.8 440.0,375.0 C450.0,384.2 478.3,389.2 490.0,385.0 C501.7,380.8 506.7,355.8 510.0,350.0"/>
<path class="m" d="M450,320 L470,300 L500,310"/>
<circle class="k" cx="575.0" cy="240.0" r="13.0"/>
<path class="m" d="M535.0,225.0 C536.7,232.5 535.0,260.8 545.0,270.0 C555.0,279.2 583.3,284.2 595.0,280.0 C606.7,275.8 611.7,250.8 615.0,245.0"/>
<path class="m" d="M555,215 L575,195 L605,205"/>
<circle class="k" cx="730.0" cy="215.0" r="13.0"/>
<path class="m" d="M690.0,200.0 C691.7,207.5 690.0,235.8 700.0,245.0 C710.0,254.2 738.3,259.2 750.0,255.0 C761.7,250.8 766.7,225.8 770.0,220.0"/>
<path class="m" d="M710,190 L730,170 L760,180"/>
<path class="k" d="M385,395 L425,372 L432,386 L392,408 Z"/>
<path class="k" d="M495,305 L540,282 L546,296 L502,318 Z"/>
<circle class="k" cx="40.0" cy="645.0" r="25.0"/>
<circle class="m" cx="40.0" cy="645.0" r="12.0"/>
<path class="m" d="M0.0,600.0 C6.7,601.7 27.5,603.3 40.0,610.0 C52.5,616.7 68.3,626.7 75.0,640.0 C81.7,653.3 85.8,676.7 80.0,690.0 C74.2,703.3 53.3,715.8 40.0,720.0 C26.7,724.2 6.7,715.8 0.0,715.0"/>
<path class="m" d="M90.0,600.0 C96.7,606.7 120.0,626.7 130.0,640.0 C140.0,653.3 146.7,673.3 150.0,680.0"/>
<path class="m" d="M100,470 L130,560 L200,545"/>
<path class="m" d="M110.0,455.0 C118.3,457.5 142.5,470.0 160.0,470.0 C177.5,470.0 205.8,457.5 215.0,455.0"/>
<path class="t" d="M140,500 L200,520"/>
<path class="m" d="M470,200 L520,262"/>
<path class="m" d="M440,185 L400,305"/>
<path class="m" d="M520.0,262.0 C526.7,256.7 540.0,235.0 560.0,230.0 C580.0,225.0 626.7,231.7 640.0,232.0"/>
<path class="t" d="M480,230 L500,290"/>
</g>
<!-- u_Q.svg -->
<g transform="translate(335,95) scale(0.15000)">
<path class="f" d="M62,248 L130,196 L330,186 L450,226 L540,296 L592,380 L592,470 L545,545 L445,590 L330,604 L250,628 L160,578 L30,608 L22,500 Z"/>
<path class="k" d="M40.0,540.0 C40.8,516.7 39.2,449.2 45.0,400.0 C50.8,350.8 60.8,275.8 75.0,245.0 C89.2,214.2 105.8,222.5 130.0,215.0 C154.2,207.5 186.7,201.7 220.0,200.0 C253.3,198.3 295.0,198.3 330.0,205.0 C365.0,211.7 398.3,224.2 430.0,240.0 C461.7,255.8 496.7,278.3 520.0,300.0 C543.3,321.7 559.7,348.3 570.0,370.0 C580.3,391.7 583.3,410.0 582.0,430.0 C580.7,450.0 573.7,471.7 562.0,490.0 C550.3,508.3 530.7,526.7 512.0,540.0 C493.3,553.3 472.0,561.7 450.0,570.0 C428.0,578.3 400.0,586.3 380.0,590.0 C360.0,593.7 338.3,591.7 330.0,592.0"/>
<path class="m" d="M80.0,310.0 C93.3,304.2 130.0,282.0 160.0,275.0 C190.0,268.0 226.7,266.3 260.0,268.0 C293.3,269.7 328.3,274.7 360.0,285.0 C391.7,295.3 423.3,312.5 450.0,330.0 C476.7,347.5 504.2,371.7 520.0,390.0 C535.8,408.3 541.7,423.3 545.0,440.0 C548.3,456.7 540.8,481.7 540.0,490.0"/>
<path class="t" d="M75.0,370.0 C87.5,364.2 120.8,342.5 150.0,335.0 C179.2,327.5 216.7,324.2 250.0,325.0 C283.3,325.8 320.0,330.8 350.0,340.0 C380.0,349.2 406.7,365.0 430.0,380.0 C453.3,395.0 477.5,413.3 490.0,430.0 C502.5,446.7 502.5,471.7 505.0,480.0"/>
<path class="k" d="M40.0,540.0 C43.3,530.0 46.7,496.7 60.0,480.0 C73.3,463.3 96.7,449.2 120.0,440.0 C143.3,430.8 170.0,428.3 200.0,425.0 C230.0,421.7 275.0,419.2 300.0,420.0 C325.0,420.8 341.7,428.3 350.0,430.0"/>
<path class="k" d="M240.0,500.0 C243.3,495.0 246.7,477.5 260.0,470.0 C273.3,462.5 296.7,455.0 320.0,455.0 C343.3,455.0 375.0,460.8 400.0,470.0 C425.0,479.2 453.3,495.0 470.0,510.0 C486.7,525.0 495.0,551.7 500.0,560.0"/>
<path class="k" d="M30.0,600.0 C41.7,598.3 78.3,595.0 100.0,590.0 C121.7,585.0 140.0,568.3 160.0,570.0 C180.0,571.7 205.0,591.3 220.0,600.0 C235.0,608.7 231.7,623.3 250.0,622.0 C268.3,620.7 316.7,597.0 330.0,592.0"/>
<path class="m" d="M240.0,500.0 C238.3,506.7 228.3,526.7 230.0,540.0 C231.7,553.3 238.3,571.7 250.0,580.0 C261.7,588.3 291.7,588.3 300.0,590.0"/>
<path class="t" d="M70.0,480.0 C70.8,488.3 71.7,512.5 75.0,530.0 C78.3,547.5 87.5,575.8 90.0,585.0"/>
<path class="t" d="M110.0,450.0 C110.8,460.0 111.7,489.2 115.0,510.0 C118.3,530.8 127.5,564.2 130.0,575.0"/>
<path class="t" d="M150.0,440.0 C150.8,450.0 151.7,479.2 155.0,500.0 C158.3,520.8 167.5,554.2 170.0,565.0"/>
<path class="t" d="M190.0,430.0 C191.3,441.7 193.8,473.0 198.0,500.0 C202.2,527.0 212.2,576.7 215.0,592.0"/>
<path class="t" d="M230.0,428.0 L232.0,470.0"/>
<ellipse class="k" cx="420.0" cy="375.0" rx="22.0" ry="14.0" transform="rotate(30.0 420.0 375.0)"/>
<path class="m" d="M350,395 L380,390 L372,420 Z"/>
<path class="m" d="M440.0,480.0 C445.0,478.3 461.7,466.7 470.0,470.0 C478.3,473.3 486.7,495.0 490.0,500.0"/>
<path class="t" d="M400,440 L460,455"/>
</g>
<!-- u_R.svg -->
<g transform="translate(210,200) scale(0.17500)">
<path class="k" d="M125,298 L150,290 L250,300 L320,325 L355,322 L380,345 L420,390 L470,450 L500,500 L520,560 L522,592"/>
<path class="k" d="M355.0,322.0 C362.5,316.7 384.2,298.7 400.0,290.0 C415.8,281.3 433.3,270.0 450.0,270.0 C466.7,270.0 484.2,287.5 500.0,290.0 C515.8,292.5 532.5,281.7 545.0,285.0 C557.5,288.3 570.0,305.8 575.0,310.0"/>
<path class="k" d="M322,60 L332,150 L346,240 L356,318"/>
<path class="m" d="M300,190 L350,240"/>
<path class="k" d="M290,150 L300,190"/>
<path class="m" d="M330,340 L370,400 L410,460 L450,530 L470,585"/>
<path class="m" d="M300,335 L340,380"/>
<circle class="h" cx="410.0" cy="435.0" r="7.0"/>
<circle class="h" cx="455.0" cy="520.0" r="7.0"/>
<circle class="h" cx="475.0" cy="575.0" r="7.0"/>
<circle class="h" cx="355.0" cy="325.0" r="9.0"/>
<path class="m" d="M230.0,300.0 C231.7,306.7 240.8,326.7 240.0,340.0 C239.2,353.3 231.7,370.0 225.0,380.0 C218.3,390.0 204.2,396.7 200.0,400.0"/>
<path class="k" d="M160,330 L200,310 L235,330 L240,380 L215,420"/>
<path class="k" d="M175,385 L200,370 L230,390"/>
<path class="m" d="M140,310 L150,350 L130,380"/>
<path class="t" d="M250,310 L255,400"/>
<path class="t" d="M280,315 L290,395"/>
<path class="m" d="M305,325 L310,385 L300,400"/>
<path class="m" d="M400.0,300.0 C403.3,306.7 410.0,330.0 420.0,340.0 C430.0,350.0 446.7,360.0 460.0,360.0 C473.3,360.0 493.3,343.3 500.0,340.0"/>
<path class="m" d="M440.0,380.0 C441.7,388.3 440.0,419.2 450.0,430.0 C460.0,440.8 487.5,448.3 500.0,445.0 C512.5,441.7 520.8,415.8 525.0,410.0"/>
<path class="m" d="M520,300 L540,360"/>
<path class="m" d="M560,300 L600,340"/>
<path class="k" d="M600.0,345.0 C608.3,339.5 635.8,314.2 650.0,312.0 C664.2,309.8 679.2,328.7 685.0,332.0"/>
<path class="m" d="M600.0,440.0 C603.3,447.0 603.3,481.7 620.0,482.0 C636.7,482.3 686.7,448.7 700.0,442.0"/>
<path class="t" d="M400,350 L520,300"/>
<path class="t" d="M420,470 L540,420"/>
<path class="t" d="M470,520 L600,470"/>
<path class="t" d="M500,560 L640,500"/>
<path class="m" d="M380.0,240.0 C386.7,243.3 408.3,260.0 420.0,260.0 C431.7,260.0 445.0,243.3 450.0,240.0"/>
<path class="m" d="M360.0,180.0 C366.7,183.3 386.7,198.3 400.0,200.0 C413.3,201.7 433.3,191.7 440.0,190.0"/>
<path class="m" d="M400,210 L410,280"/>
<path class="m" d="M450,200 L460,268"/>
<path class="t" d="M370,130 L372,230"/>
<path class="t" d="M400,150 L405,200"/>
<path class="m" d="M520.0,590.0 C523.3,585.0 511.7,551.7 540.0,560.0 C568.3,568.3 665.0,626.7 690.0,640.0"/>
<path class="m" d="M470,300 L480,380"/>
<path class="t" d="M545.0,290.0 C547.5,298.3 560.8,326.7 560.0,340.0 C559.2,353.3 543.3,365.0 540.0,370.0"/>
</g>
<line x1="219.0" y1="167.5" x2="231.5" y2="232.5" stroke="#111" stroke-width="1.8" stroke-dasharray="5 2.6"/>
<line x1="247.5" y1="142.5" x2="260.0" y2="210.0" stroke="#111" stroke-width="1.8" stroke-dasharray="5 2.6"/>
<line x1="253.0" y1="98.0" x2="287.0" y2="247.0" stroke="#111" stroke-width="1.8" stroke-dasharray="5 2.6"/>
<line x1="275.5" y1="122.5" x2="286.5" y2="172.0" stroke="#111" stroke-width="1.8" stroke-dasharray="5 2.6"/>
<line x1="301.0" y1="105.0" x2="304.0" y2="140.0" stroke="#111" stroke-width="1.8" stroke-dasharray="5 2.6"/>
<line x1="309.5" y1="168.0" x2="326.0" y2="248.0" stroke="#111" stroke-width="1.8" stroke-dasharray="5 2.6"/>
<line x1="328.5" y1="85.0" x2="338.5" y2="125.0" stroke="#111" stroke-width="1.8" stroke-dasharray="5 2.6"/>
<line x1="345.0" y1="150.0" x2="360.0" y2="217.5" stroke="#111" stroke-width="1.8" stroke-dasharray="5 2.6"/>
<line x1="368.8" y1="125.0" x2="380.5" y2="193.0" stroke="#111" stroke-width="1.8" stroke-dasharray="5 2.6"/>
<line x1="394.0" y1="108.0" x2="422.0" y2="245.0" stroke="#111" stroke-width="1.8" stroke-dasharray="5 2.6"/>
<line x1="415.0" y1="85.0" x2="446.0" y2="228.0" stroke="#111" stroke-width="1.8" stroke-dasharray="5 2.6"/>
<line x1="444.5" y1="80.0" x2="479.0" y2="220.0" stroke="#111" stroke-width="1.8" stroke-dasharray="5 2.6"/>
<line x1="465.5" y1="55.5" x2="497.5" y2="185.0" stroke="#111" stroke-width="1.8" stroke-dasharray="5 2.6"/>
<line x1="411.5" y1="333.0" x2="417.0" y2="362.5" stroke="#111" stroke-width="1.8" stroke-dasharray="5 2.6"/>
<line x1="285.6" y1="425.0" x2="292.5" y2="460.0" stroke="#111" stroke-width="1.8" stroke-dasharray="5 2.6"/>
<line x1="315.0" y1="530.0" x2="350.0" y2="689.0" stroke="#111" stroke-width="1.8" stroke-dasharray="5 2.6"/>
<line x1="344.0" y1="563.0" x2="370.0" y2="676.0" stroke="#111" stroke-width="1.8" stroke-dasharray="5 2.6"/>
<line x1="357.8" y1="572.5" x2="375.0" y2="649.0" stroke="#111" stroke-width="1.8" stroke-dasharray="5 2.6"/>
<line x1="384.0" y1="592.0" x2="394.5" y2="634.0" stroke="#111" stroke-width="1.8" stroke-dasharray="5 2.6"/>
<line x1="403.5" y1="598.0" x2="426.0" y2="701.0" stroke="#111" stroke-width="1.8" stroke-dasharray="5 2.6"/>
<line x1="413.0" y1="601.0" x2="421.0" y2="637.0" stroke="#111" stroke-width="1.8" stroke-dasharray="5 2.6"/>
<line x1="431.5" y1="597.0" x2="457.5" y2="716.0" stroke="#111" stroke-width="1.8" stroke-dasharray="5 2.6"/>
<line x1="442.5" y1="581.0" x2="458.8" y2="655.0" stroke="#111" stroke-width="1.8" stroke-dasharray="5 2.6"/>
<line x1="460.0" y1="567.5" x2="464.0" y2="588.0" stroke="#111" stroke-width="1.8" stroke-dasharray="5 2.6"/>
<line x1="467.5" y1="562.5" x2="476.0" y2="597.5" stroke="#111" stroke-width="1.8" stroke-dasharray="5 2.6"/>
<line x1="497.0" y1="539.0" x2="513.0" y2="616.0" stroke="#111" stroke-width="1.8" stroke-dasharray="5 2.6"/>
<line x1="509.0" y1="530.0" x2="529.5" y2="624.5" stroke="#111" stroke-width="1.8" stroke-dasharray="5 2.6"/>
<line x1="534.5" y1="512.0" x2="563.0" y2="640.0" stroke="#111" stroke-width="1.8" stroke-dasharray="5 2.6"/>
<line x1="308.3" y1="32.8" x2="249.0" y2="122.5" stroke="#111" stroke-width="1.6" />
<line x1="308.3" y1="32.8" x2="275.0" y2="101.0" stroke="#111" stroke-width="1.6" />
<line x1="308.3" y1="32.8" x2="300.0" y2="82.0" stroke="#111" stroke-width="1.6" />
<line x1="308.3" y1="32.8" x2="323.0" y2="61.0" stroke="#111" stroke-width="1.6" />
<line x1="308.3" y1="32.8" x2="338.5" y2="126.0" stroke="#111" stroke-width="1.6" />
<line x1="308.3" y1="32.8" x2="362.0" y2="103.0" stroke="#111" stroke-width="1.6" />
<line x1="308.3" y1="32.8" x2="365.0" y2="75.0" stroke="#111" stroke-width="1.6" />
<line x1="308.3" y1="32.8" x2="408.0" y2="70.5" stroke="#111" stroke-width="1.6" />
<line x1="308.3" y1="32.8" x2="438.0" y2="67.5" stroke="#111" stroke-width="1.6" />
<line x1="308.3" y1="32.8" x2="460.0" y2="43.0" stroke="#111" stroke-width="1.6" />
<line x1="152.0" y1="52.0" x2="242.0" y2="55.0" stroke="#111" stroke-width="1.6" />
<line x1="139.0" y1="223.0" x2="212.5" y2="158.5" stroke="#111" stroke-width="1.6" />
<line x1="139.0" y1="223.0" x2="303.0" y2="160.0" stroke="#111" stroke-width="1.6" />
<line x1="246.0" y1="346.0" x2="411.0" y2="327.5" stroke="#111" stroke-width="1.6" />
<line x1="246.0" y1="346.0" x2="283.7" y2="415.5" stroke="#111" stroke-width="1.6" />
<line x1="621.8" y1="203.8" x2="558.3" y2="252.5" stroke="#111" stroke-width="1.6" />
<line x1="573.9" y1="518.4" x2="464.5" y2="588.8" stroke="#111" stroke-width="1.6" />
<line x1="198.5" y1="577.0" x2="360.0" y2="723.0" stroke="#111" stroke-width="1.6" />
<line x1="198.5" y1="577.0" x2="378.0" y2="708.0" stroke="#111" stroke-width="1.6" />
<line x1="198.5" y1="577.0" x2="384.0" y2="681.5" stroke="#111" stroke-width="1.6" />
<line x1="198.5" y1="577.0" x2="403.0" y2="667.5" stroke="#111" stroke-width="1.6" />
<line x1="198.5" y1="577.0" x2="430.5" y2="670.5" stroke="#111" stroke-width="1.6" />
<line x1="501.8" y1="695.0" x2="466.0" y2="687.5" stroke="#111" stroke-width="1.6" />
<line x1="501.8" y1="695.0" x2="491.0" y2="664.0" stroke="#111" stroke-width="1.6" />
<line x1="501.8" y1="695.0" x2="520.0" y2="647.5" stroke="#111" stroke-width="1.6" />
<line x1="561.8" y1="771.5" x2="540.0" y2="679.0" stroke="#111" stroke-width="1.6" />
<line x1="561.8" y1="771.5" x2="573.8" y2="694.0" stroke="#111" stroke-width="1.6" />
<line x1="561.8" y1="771.5" x2="463.8" y2="742.5" stroke="#111" stroke-width="1.6" />
<line x1="561.8" y1="771.5" x2="440.0" y2="751.0" stroke="#111" stroke-width="1.6" />
<g transform="translate(214.4,144.0) rotate(-10.9)">
<rect x="-1.9" y="0" width="3.8" height="13.0" fill="#fff" stroke="#0c0c0c" stroke-width="1.6"/>
<rect x="-3.3" y="12.0" width="6.6" height="13.0" rx="1.5" fill="#0c0c0c"/>
<ellipse cx="0" cy="1.6" rx="6.1" ry="3.3" fill="#0c0c0c"/>
<rect x="-4.9" y="-5.4" width="9.8" height="7.0" rx="2.2" fill="#0c0c0c"/>
<ellipse cx="0" cy="0.9" rx="3.0" ry="1.1" fill="#bbb"/>
</g>
<g transform="translate(304.5,146.0) rotate(-12.7)">
<rect x="-1.9" y="0" width="3.8" height="13.1" fill="#fff" stroke="#0c0c0c" stroke-width="1.6"/>
<rect x="-3.3" y="12.1" width="6.6" height="13.1" rx="1.5" fill="#0c0c0c"/>
<ellipse cx="0" cy="1.6" rx="6.1" ry="3.3" fill="#0c0c0c"/>
<rect x="-4.9" y="-5.4" width="9.8" height="7.0" rx="2.2" fill="#0c0c0c"/>
<ellipse cx="0" cy="0.9" rx="3.0" ry="1.1" fill="#bbb"/>
</g>
<g transform="translate(243.8,122.5) rotate(-10.9)">
<rect x="-1.7" y="0" width="3.4" height="9.6" fill="#fff" stroke="#0c0c0c" stroke-width="1.6"/>
<rect x="-3.1" y="8.6" width="6.2" height="12.8" rx="1.5" fill="#0c0c0c"/>
<ellipse cx="0" cy="1.6" rx="5.2" ry="3.0" fill="#0c0c0c"/>
<rect x="-4.2" y="-4.8" width="8.3" height="6.2" rx="2.2" fill="#0c0c0c"/>
<ellipse cx="0" cy="0.9" rx="2.6" ry="1.0" fill="#bbb"/>
</g>
<g transform="translate(271.0,102.5) rotate(-12.7)">
<rect x="-1.7" y="0" width="3.4" height="9.6" fill="#fff" stroke="#0c0c0c" stroke-width="1.6"/>
<rect x="-3.1" y="8.6" width="6.2" height="12.9" rx="1.5" fill="#0c0c0c"/>
<ellipse cx="0" cy="1.6" rx="5.2" ry="3.0" fill="#0c0c0c"/>
<rect x="-4.2" y="-4.8" width="8.3" height="6.2" rx="2.2" fill="#0c0c0c"/>
<ellipse cx="0" cy="0.9" rx="2.6" ry="1.0" fill="#bbb"/>
</g>
<g transform="translate(296.2,84.4) rotate(-12.4)">
<rect x="-1.7" y="0" width="3.4" height="9.8" fill="#fff" stroke="#0c0c0c" stroke-width="1.6"/>
<rect x="-3.1" y="8.8" width="6.2" height="13.3" rx="1.5" fill="#0c0c0c"/>
<ellipse cx="0" cy="1.6" rx="5.2" ry="3.0" fill="#0c0c0c"/>
<rect x="-4.2" y="-4.8" width="8.3" height="6.2" rx="2.2" fill="#0c0c0c"/>
<ellipse cx="0" cy="0.9" rx="2.6" ry="1.0" fill="#bbb"/>
</g>
<g transform="translate(323.8,63.8) rotate(-12.1)">
<rect x="-1.7" y="0" width="3.4" height="10.1" fill="#fff" stroke="#0c0c0c" stroke-width="1.6"/>
<rect x="-3.1" y="9.1" width="6.2" height="13.7" rx="1.5" fill="#0c0c0c"/>
<ellipse cx="0" cy="1.6" rx="5.2" ry="3.0" fill="#0c0c0c"/>
<rect x="-4.2" y="-4.8" width="8.3" height="6.2" rx="2.2" fill="#0c0c0c"/>
<ellipse cx="0" cy="0.9" rx="2.6" ry="1.0" fill="#bbb"/>
</g>
<g transform="translate(340.8,130.0) rotate(-12.2)">
<rect x="-1.7" y="0" width="3.4" height="9.6" fill="#fff" stroke="#0c0c0c" stroke-width="1.6"/>
<rect x="-3.1" y="8.6" width="6.2" height="12.9" rx="1.5" fill="#0c0c0c"/>
<ellipse cx="0" cy="1.6" rx="5.2" ry="3.0" fill="#0c0c0c"/>
<rect x="-4.2" y="-4.8" width="8.3" height="6.2" rx="2.2" fill="#0c0c0c"/>
<ellipse cx="0" cy="0.9" rx="2.6" ry="1.0" fill="#bbb"/>
</g>
<g transform="translate(364.5,104.5) rotate(-11.8)">
<rect x="-1.7" y="0" width="3.4" height="9.8" fill="#fff" stroke="#0c0c0c" stroke-width="1.6"/>
<rect x="-3.1" y="8.8" width="6.2" height="13.2" rx="1.5" fill="#0c0c0c"/>
<ellipse cx="0" cy="1.6" rx="5.2" ry="3.0" fill="#0c0c0c"/>
<rect x="-4.2" y="-4.8" width="8.3" height="6.2" rx="2.2" fill="#0c0c0c"/>
<ellipse cx="0" cy="0.9" rx="2.6" ry="1.0" fill="#bbb"/>
</g>
<g transform="translate(390.0,87.5) rotate(-10.8)">
<rect x="-1.7" y="0" width="3.4" height="9.6" fill="#fff" stroke="#0c0c0c" stroke-width="1.6"/>
<rect x="-3.1" y="8.6" width="6.2" height="12.8" rx="1.5" fill="#0c0c0c"/>
<ellipse cx="0" cy="1.6" rx="5.2" ry="3.0" fill="#0c0c0c"/>
<rect x="-4.2" y="-4.8" width="8.3" height="6.2" rx="2.2" fill="#0c0c0c"/>
<ellipse cx="0" cy="0.9" rx="2.6" ry="1.0" fill="#bbb"/>
</g>
<g transform="translate(410.0,65.5) rotate(-13.4)">
<rect x="-1.7" y="0" width="3.4" height="9.6" fill="#fff" stroke="#0c0c0c" stroke-width="1.6"/>
<rect x="-3.1" y="8.6" width="6.2" height="13.0" rx="1.5" fill="#0c0c0c"/>
<ellipse cx="0" cy="1.6" rx="5.2" ry="3.0" fill="#0c0c0c"/>
<rect x="-4.2" y="-4.8" width="8.3" height="6.2" rx="2.2" fill="#0c0c0c"/>
<ellipse cx="0" cy="0.9" rx="2.6" ry="1.0" fill="#bbb"/>
</g>
<g transform="translate(440.8,60.0) rotate(-11.4)">
<rect x="-1.7" y="0" width="3.4" height="9.6" fill="#fff" stroke="#0c0c0c" stroke-width="1.6"/>
<rect x="-3.1" y="8.6" width="6.2" height="12.9" rx="1.5" fill="#0c0c0c"/>
<ellipse cx="0" cy="1.6" rx="5.2" ry="3.0" fill="#0c0c0c"/>
<rect x="-4.2" y="-4.8" width="8.3" height="6.2" rx="2.2" fill="#0c0c0c"/>
<ellipse cx="0" cy="0.9" rx="2.6" ry="1.0" fill="#bbb"/>
</g>
<g transform="translate(461.8,35.1) rotate(-10.8)">
<rect x="-1.7" y="0" width="3.4" height="9.9" fill="#fff" stroke="#0c0c0c" stroke-width="1.6"/>
<rect x="-3.1" y="8.9" width="6.2" height="13.3" rx="1.5" fill="#0c0c0c"/>
<ellipse cx="0" cy="1.6" rx="5.2" ry="3.0" fill="#0c0c0c"/>
<rect x="-4.2" y="-4.8" width="8.3" height="6.2" rx="2.2" fill="#0c0c0c"/>
<ellipse cx="0" cy="0.9" rx="2.6" ry="1.0" fill="#bbb"/>
</g>
<g transform="translate(245.5,57.0) rotate(-10.5)">
<rect x="-1.7" y="0" width="3.4" height="29.3" fill="#fff" stroke="#0c0c0c" stroke-width="1.6"/>
<rect x="-3.1" y="28.3" width="6.2" height="13.9" rx="1.5" fill="#0c0c0c"/>
<ellipse cx="0" cy="1.6" rx="5.2" ry="3.0" fill="#0c0c0c"/>
<rect x="-4.2" y="-4.8" width="8.3" height="6.2" rx="2.2" fill="#0c0c0c"/>
<ellipse cx="0" cy="0.9" rx="2.6" ry="1.0" fill="#bbb"/>
</g>
<g transform="translate(350.0,690.0) rotate(-12.2)">
<rect x="-2.4" y="18.5" width="4.8" height="41.4" fill="#fff" stroke="#0c0c0c" stroke-width="1.6"/>
<rect x="-3.6" y="0" width="7.2" height="19.5" rx="2.4" fill="#0c0c0c"/>
<ellipse cx="0" cy="1.8" rx="1.5" ry="0.8" fill="#ddd"/>
<ellipse cx="0" cy="65.1" rx="5.8" ry="3.4" fill="#fff" stroke="#0c0c0c" stroke-width="1.5"/>
<ellipse cx="0" cy="60.8" rx="7.3" ry="4.5" fill="#fff" stroke="#0c0c0c" stroke-width="1.8"/>
<path d="M-3.9,59.6 Q0,63.0 3.9,59.6" fill="none" stroke="#555" stroke-width="1"/>
<rect x="-1.6" y="54.8" width="3.2" height="6.5" fill="#fff"/>
</g>
<g transform="translate(370.0,676.0) rotate(-11.9)">
<rect x="-2.4" y="18.1" width="4.8" height="40.6" fill="#fff" stroke="#0c0c0c" stroke-width="1.6"/>
<rect x="-3.6" y="0" width="7.2" height="19.1" rx="2.4" fill="#0c0c0c"/>
<ellipse cx="0" cy="1.8" rx="1.5" ry="0.8" fill="#ddd"/>
<ellipse cx="0" cy="64.0" rx="5.8" ry="3.4" fill="#fff" stroke="#0c0c0c" stroke-width="1.5"/>
<ellipse cx="0" cy="59.7" rx="7.3" ry="4.5" fill="#fff" stroke="#0c0c0c" stroke-width="1.8"/>
<path d="M-3.9,58.5 Q0,61.9 3.9,58.5" fill="none" stroke="#555" stroke-width="1"/>
<rect x="-1.6" y="53.7" width="3.2" height="6.5" fill="#fff"/>
</g>
<g transform="translate(375.0,649.0) rotate(-12.4)">
<rect x="-2.4" y="18.2" width="4.8" height="40.7" fill="#fff" stroke="#0c0c0c" stroke-width="1.6"/>
<rect x="-3.6" y="0" width="7.2" height="19.2" rx="2.4" fill="#0c0c0c"/>
<ellipse cx="0" cy="1.8" rx="1.5" ry="0.8" fill="#ddd"/>
<ellipse cx="0" cy="64.1" rx="5.8" ry="3.4" fill="#fff" stroke="#0c0c0c" stroke-width="1.5"/>
<ellipse cx="0" cy="59.9" rx="7.3" ry="4.5" fill="#fff" stroke="#0c0c0c" stroke-width="1.8"/>
<path d="M-3.9,58.7 Q0,62.1 3.9,58.7" fill="none" stroke="#555" stroke-width="1"/>
<rect x="-1.6" y="53.9" width="3.2" height="6.5" fill="#fff"/>
</g>
<g transform="translate(394.5,635.0) rotate(-12.4)">
<rect x="-2.4" y="18.2" width="4.8" height="40.7" fill="#fff" stroke="#0c0c0c" stroke-width="1.6"/>
<rect x="-3.6" y="0" width="7.2" height="19.2" rx="2.4" fill="#0c0c0c"/>
<ellipse cx="0" cy="1.8" rx="1.5" ry="0.8" fill="#ddd"/>
<ellipse cx="0" cy="64.1" rx="5.8" ry="3.4" fill="#fff" stroke="#0c0c0c" stroke-width="1.5"/>
<ellipse cx="0" cy="59.9" rx="7.3" ry="4.5" fill="#fff" stroke="#0c0c0c" stroke-width="1.8"/>
<path d="M-3.9,58.7 Q0,62.1 3.9,58.7" fill="none" stroke="#555" stroke-width="1"/>
<rect x="-1.6" y="53.9" width="3.2" height="6.5" fill="#fff"/>
</g>
<g transform="translate(421.0,638.0) rotate(-12.7)">
<rect x="-2.4" y="18.0" width="4.8" height="40.4" fill="#fff" stroke="#0c0c0c" stroke-width="1.6"/>
<rect x="-3.6" y="0" width="7.2" height="19.0" rx="2.4" fill="#0c0c0c"/>
<ellipse cx="0" cy="1.8" rx="1.5" ry="0.8" fill="#ddd"/>
<ellipse cx="0" cy="63.7" rx="5.8" ry="3.4" fill="#fff" stroke="#0c0c0c" stroke-width="1.5"/>
<ellipse cx="0" cy="59.4" rx="7.3" ry="4.5" fill="#fff" stroke="#0c0c0c" stroke-width="1.8"/>
<path d="M-3.9,58.2 Q0,61.6 3.9,58.2" fill="none" stroke="#555" stroke-width="1"/>
<rect x="-1.6" y="53.4" width="3.2" height="6.5" fill="#fff"/>
</g>
<g transform="translate(426.0,701.0) rotate(-12.0)">
<rect x="-2.4" y="14.9" width="4.8" height="33.7" fill="#fff" stroke="#0c0c0c" stroke-width="1.6"/>
<rect x="-3.6" y="0" width="7.2" height="15.9" rx="2.4" fill="#0c0c0c"/>
<ellipse cx="0" cy="1.8" rx="1.5" ry="0.8" fill="#ddd"/>
<ellipse cx="0" cy="53.8" rx="5.8" ry="3.4" fill="#fff" stroke="#0c0c0c" stroke-width="1.5"/>
<ellipse cx="0" cy="49.6" rx="7.3" ry="4.5" fill="#fff" stroke="#0c0c0c" stroke-width="1.8"/>
<path d="M-3.9,48.4 Q0,51.8 3.9,48.4" fill="none" stroke="#555" stroke-width="1"/>
<rect x="-1.6" y="43.6" width="3.2" height="6.5" fill="#fff"/>
</g>
<g transform="translate(458.8,655.0) rotate(-11.9)">
<rect x="-2.4" y="18.4" width="4.8" height="41.3" fill="#fff" stroke="#0c0c0c" stroke-width="1.6"/>
<rect x="-3.6" y="0" width="7.2" height="19.4" rx="2.4" fill="#0c0c0c"/>
<ellipse cx="0" cy="1.8" rx="1.5" ry="0.8" fill="#ddd"/>
<ellipse cx="0" cy="65.0" rx="5.8" ry="3.4" fill="#fff" stroke="#0c0c0c" stroke-width="1.5"/>
<ellipse cx="0" cy="60.8" rx="7.3" ry="4.5" fill="#fff" stroke="#0c0c0c" stroke-width="1.8"/>
<path d="M-3.9,59.6 Q0,63.0 3.9,59.6" fill="none" stroke="#555" stroke-width="1"/>
<rect x="-1.6" y="54.8" width="3.2" height="6.5" fill="#fff"/>
</g>
<g transform="translate(457.5,716.0) rotate(-12.0)">
<rect x="-2.4" y="14.9" width="4.8" height="33.7" fill="#fff" stroke="#0c0c0c" stroke-width="1.6"/>
<rect x="-3.6" y="0" width="7.2" height="15.9" rx="2.4" fill="#0c0c0c"/>
<ellipse cx="0" cy="1.8" rx="1.5" ry="0.8" fill="#ddd"/>
<ellipse cx="0" cy="53.8" rx="5.8" ry="3.4" fill="#fff" stroke="#0c0c0c" stroke-width="1.5"/>
<ellipse cx="0" cy="49.6" rx="7.3" ry="4.5" fill="#fff" stroke="#0c0c0c" stroke-width="1.8"/>
<path d="M-3.9,48.4 Q0,51.8 3.9,48.4" fill="none" stroke="#555" stroke-width="1"/>
<rect x="-1.6" y="43.6" width="3.2" height="6.5" fill="#fff"/>
</g>
<g transform="translate(476.0,598.0) rotate(-11.7)">
<rect x="-2.4" y="18.4" width="4.8" height="41.3" fill="#fff" stroke="#0c0c0c" stroke-width="1.6"/>
<rect x="-3.6" y="0" width="7.2" height="19.4" rx="2.4" fill="#0c0c0c"/>
<ellipse cx="0" cy="1.8" rx="1.5" ry="0.8" fill="#ddd"/>
<ellipse cx="0" cy="65.0" rx="5.8" ry="3.4" fill="#fff" stroke="#0c0c0c" stroke-width="1.5"/>
<ellipse cx="0" cy="60.7" rx="7.3" ry="4.5" fill="#fff" stroke="#0c0c0c" stroke-width="1.8"/>
<path d="M-3.9,59.5 Q0,62.9 3.9,59.5" fill="none" stroke="#555" stroke-width="1"/>
<rect x="-1.6" y="54.7" width="3.2" height="6.5" fill="#fff"/>
</g>
<g transform="translate(513.0,616.0) rotate(-11.9)">
<rect x="-2.4" y="18.1" width="4.8" height="40.6" fill="#fff" stroke="#0c0c0c" stroke-width="1.6"/>
<rect x="-3.6" y="0" width="7.2" height="19.1" rx="2.4" fill="#0c0c0c"/>
<ellipse cx="0" cy="1.8" rx="1.5" ry="0.8" fill="#ddd"/>
<ellipse cx="0" cy="64.0" rx="5.8" ry="3.4" fill="#fff" stroke="#0c0c0c" stroke-width="1.5"/>
<ellipse cx="0" cy="59.7" rx="7.3" ry="4.5" fill="#fff" stroke="#0c0c0c" stroke-width="1.8"/>
<path d="M-3.9,58.5 Q0,61.9 3.9,58.5" fill="none" stroke="#555" stroke-width="1"/>
<rect x="-1.6" y="53.7" width="3.2" height="6.5" fill="#fff"/>
</g>
<g transform="translate(529.5,624.5) rotate(-12.7)">
<rect x="-2.4" y="14.7" width="4.8" height="33.4" fill="#fff" stroke="#0c0c0c" stroke-width="1.6"/>
<rect x="-3.6" y="0" width="7.2" height="15.7" rx="2.4" fill="#0c0c0c"/>
<ellipse cx="0" cy="1.8" rx="1.5" ry="0.8" fill="#ddd"/>
<ellipse cx="0" cy="53.4" rx="5.8" ry="3.4" fill="#fff" stroke="#0c0c0c" stroke-width="1.5"/>
<ellipse cx="0" cy="49.2" rx="7.3" ry="4.5" fill="#fff" stroke="#0c0c0c" stroke-width="1.8"/>
<path d="M-3.9,48.0 Q0,51.4 3.9,48.0" fill="none" stroke="#555" stroke-width="1"/>
<rect x="-1.6" y="43.2" width="3.2" height="6.5" fill="#fff"/>
</g>
<g transform="translate(563.0,640.0) rotate(-12.0)">
<rect x="-2.4" y="14.9" width="4.8" height="33.7" fill="#fff" stroke="#0c0c0c" stroke-width="1.6"/>
<rect x="-3.6" y="0" width="7.2" height="15.9" rx="2.4" fill="#0c0c0c"/>
<ellipse cx="0" cy="1.8" rx="1.5" ry="0.8" fill="#ddd"/>
<ellipse cx="0" cy="53.8" rx="5.8" ry="3.4" fill="#fff" stroke="#0c0c0c" stroke-width="1.5"/>
<ellipse cx="0" cy="49.6" rx="7.3" ry="4.5" fill="#fff" stroke="#0c0c0c" stroke-width="1.8"/>
<path d="M-3.9,48.4 Q0,51.8 3.9,48.4" fill="none" stroke="#555" stroke-width="1"/>
<rect x="-1.6" y="43.6" width="3.2" height="6.5" fill="#fff"/>
</g>
<g transform="translate(463.5,589.0) rotate(-11.3)">
<rect x="-1.5" y="11.6" width="3.0" height="7.7" fill="#fff" stroke="#0c0c0c" stroke-width="1.6"/>
<rect x="-2.6" y="0" width="5.2" height="12.6" rx="2.4" fill="#0c0c0c"/>
<ellipse cx="0" cy="1.8" rx="1.5" ry="0.8" fill="#ddd"/>
<ellipse cx="0" cy="23.0" rx="3.7" ry="2.2" fill="#fff" stroke="#0c0c0c" stroke-width="1.5"/>
<ellipse cx="0" cy="20.4" rx="4.6" ry="3.0" fill="#fff" stroke="#0c0c0c" stroke-width="1.8"/>
<path d="M-3.0,19.2 Q0,22.6 3.0,19.2" fill="none" stroke="#555" stroke-width="1"/>
<rect x="-0.7" y="14.4" width="1.4" height="6.5" fill="#fff"/>
</g>
<rect x="407.6" y="324.2" width="4.8" height="7.6" rx="2.2" fill="#aaa" stroke="#111" stroke-width="1.6"/>
<rect x="281.9" y="415.5" width="4.4" height="7" rx="2.2" fill="#aaa" stroke="#111" stroke-width="1.6"/>
<g opacity="0.995" stroke="#000" stroke-width="0.35">
<text x="304.4" y="27" font-size="24">2</text>
<text x="143.6" y="51.8" font-size="24">3</text>
<text x="127.4" y="232" font-size="24">1</text>
<text x="219.1" y="352.5" font-size="24">4</text>
<text x="626.8" y="199.7" font-size="24">7</text>
<text x="583.1" y="523.7" font-size="24">2</text>
<text x="185.6" y="579.8" font-size="24">5</text>
<text x="502.4" y="710.5" font-size="24">5</text>
<text x="558.5" y="789.2" font-size="24">6</text>
</g>
</svg>
</body></html>
